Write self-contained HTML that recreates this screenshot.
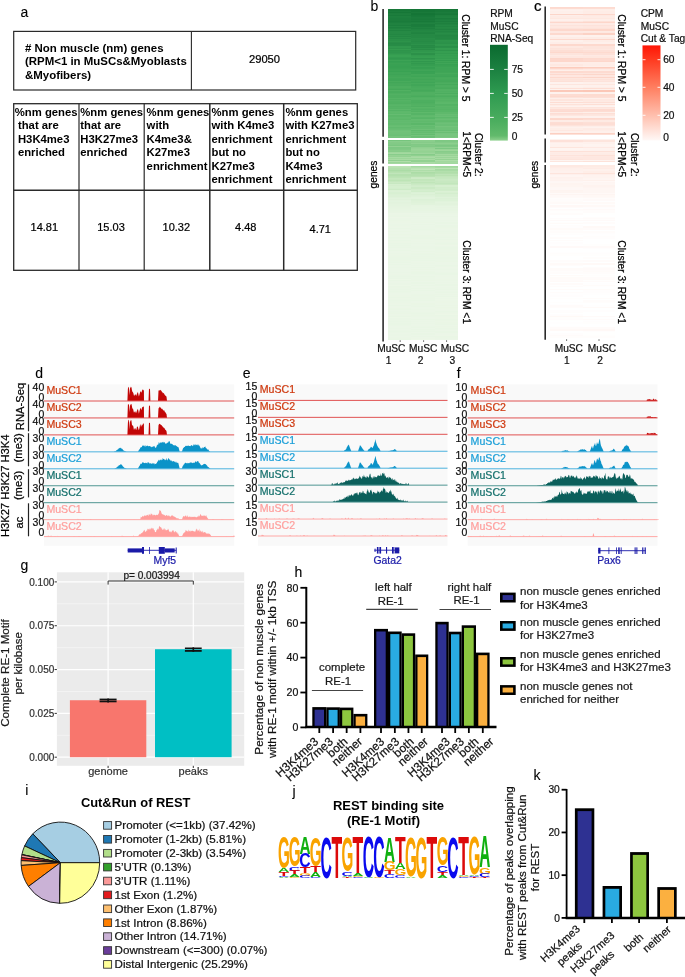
<!DOCTYPE html>
<html><head><meta charset="utf-8"><style>
html,body{margin:0;padding:0;background:#fff;}
svg{display:block;will-change:transform;}
text{font-family:"Liberation Sans",sans-serif;}
</style></head><body>
<svg width="685" height="977" viewBox="0 0 685 977">
<rect width="685" height="977" fill="#fff"/>
<text x="20.50" y="17.30" font-size="14" text-anchor="start" stroke="#000" stroke-width="0.1" fill="#000" >a</text>
<rect x="13.70" y="31.40" width="342.00" height="58.60" fill="none" stroke="#2a2a2a" stroke-width="1.2" />
<line x1="191.40" y1="31.40" x2="191.40" y2="90.00" stroke="#2a2a2a" stroke-width="1.1" />
<text x="25.00" y="52.00" font-size="11.45" text-anchor="start" font-weight="bold" fill="#000" ># Non muscle (nm) genes</text>
<text x="25.00" y="65.40" font-size="11.45" text-anchor="start" font-weight="bold" fill="#000" >(RPM&lt;1 in MuSCs&amp;Myoblasts</text>
<text x="25.00" y="78.80" font-size="11.45" text-anchor="start" font-weight="bold" fill="#000" >&amp;Myofibers)</text>
<text x="264.50" y="63.00" font-size="11.2" text-anchor="middle" stroke="#000" stroke-width="0.22" fill="#000" >29050</text>
<rect x="13.70" y="103.70" width="343.60" height="166.60" fill="none" stroke="#2a2a2a" stroke-width="1.3" />
<line x1="13.70" y1="190.30" x2="357.30" y2="190.30" stroke="#2a2a2a" stroke-width="1.6" />
<line x1="79.00" y1="103.70" x2="79.00" y2="270.30" stroke="#2a2a2a" stroke-width="1.2" />
<line x1="144.20" y1="103.70" x2="144.20" y2="270.30" stroke="#2a2a2a" stroke-width="1.2" />
<line x1="209.80" y1="103.70" x2="209.80" y2="270.30" stroke="#2a2a2a" stroke-width="1.5" />
<line x1="283.70" y1="103.70" x2="283.70" y2="270.30" stroke="#2a2a2a" stroke-width="1.5" />
<text x="14.80" y="115.60" font-size="11.3" font-weight="bold" xml:space="preserve">%nm genes</text>
<text x="14.80" y="129.10" font-size="11.3" font-weight="bold" xml:space="preserve"> that are</text>
<text x="14.80" y="142.60" font-size="11.3" font-weight="bold" xml:space="preserve"> H3K4me3</text>
<text x="14.80" y="156.10" font-size="11.3" font-weight="bold" xml:space="preserve"> enriched</text>
<text x="80.30" y="115.60" font-size="11.3" font-weight="bold" xml:space="preserve">%nm genes</text>
<text x="80.30" y="129.10" font-size="11.3" font-weight="bold" xml:space="preserve">that are</text>
<text x="80.30" y="142.60" font-size="11.3" font-weight="bold" xml:space="preserve">H3K27me3</text>
<text x="80.30" y="156.10" font-size="11.3" font-weight="bold" xml:space="preserve">enriched</text>
<text x="146.60" y="115.60" font-size="11.3" font-weight="bold" xml:space="preserve">%nm genes</text>
<text x="146.60" y="129.10" font-size="11.3" font-weight="bold" xml:space="preserve">with</text>
<text x="146.60" y="142.60" font-size="11.3" font-weight="bold" xml:space="preserve">K4me3&amp;</text>
<text x="146.60" y="156.10" font-size="11.3" font-weight="bold" xml:space="preserve">K27me3</text>
<text x="146.60" y="169.60" font-size="11.3" font-weight="bold" xml:space="preserve">enrichment</text>
<text x="211.50" y="115.60" font-size="11.3" font-weight="bold" xml:space="preserve">%nm genes</text>
<text x="211.50" y="129.10" font-size="11.3" font-weight="bold" xml:space="preserve">with K4me3</text>
<text x="211.50" y="142.60" font-size="11.3" font-weight="bold" xml:space="preserve">enrichment</text>
<text x="211.50" y="156.10" font-size="11.3" font-weight="bold" xml:space="preserve">but no</text>
<text x="211.50" y="169.60" font-size="11.3" font-weight="bold" xml:space="preserve">K27me3</text>
<text x="211.50" y="183.10" font-size="11.3" font-weight="bold" xml:space="preserve">enrichment</text>
<text x="285.40" y="115.60" font-size="11.3" font-weight="bold" xml:space="preserve">%nm genes</text>
<text x="285.40" y="129.10" font-size="11.3" font-weight="bold" xml:space="preserve">with K27me3</text>
<text x="285.40" y="142.60" font-size="11.3" font-weight="bold" xml:space="preserve">enrichment</text>
<text x="285.40" y="156.10" font-size="11.3" font-weight="bold" xml:space="preserve">but no</text>
<text x="285.40" y="169.60" font-size="11.3" font-weight="bold" xml:space="preserve">K4me3</text>
<text x="285.40" y="183.10" font-size="11.3" font-weight="bold" xml:space="preserve">enrichment</text>
<text x="44.30" y="230.80" font-size="11" text-anchor="middle" stroke="#000" stroke-width="0.22" fill="#000" >14.81</text>
<text x="111.00" y="230.80" font-size="11" text-anchor="middle" stroke="#000" stroke-width="0.22" fill="#000" >15.03</text>
<text x="176.30" y="231.00" font-size="11" text-anchor="middle" stroke="#000" stroke-width="0.22" fill="#000" >10.32</text>
<text x="245.80" y="231.00" font-size="11" text-anchor="middle" stroke="#000" stroke-width="0.22" fill="#000" >4.48</text>
<text x="320.30" y="233.30" font-size="11" text-anchor="middle" stroke="#000" stroke-width="0.22" fill="#000" >4.71</text>
<text x="370.60" y="11.00" font-size="14" text-anchor="start" stroke="#000" stroke-width="0.05" fill="#000" >b</text>
<g shape-rendering="crispEdges">
<rect x="388.20" y="9.00" width="23.50" height="1.15" fill="#177738" />
<rect x="411.40" y="9.00" width="23.60" height="1.15" fill="#147536" />
<rect x="434.70" y="9.00" width="23.30" height="1.15" fill="#157536" />
<rect x="388.20" y="10.00" width="23.50" height="1.15" fill="#177838" />
<rect x="411.40" y="10.00" width="23.60" height="1.15" fill="#157637" />
<rect x="434.70" y="10.00" width="23.30" height="1.15" fill="#187839" />
<rect x="388.20" y="11.00" width="23.50" height="1.15" fill="#1a7b3b" />
<rect x="411.40" y="11.00" width="23.60" height="1.15" fill="#167637" />
<rect x="434.70" y="11.00" width="23.30" height="1.15" fill="#187939" />
<rect x="388.20" y="12.00" width="23.50" height="1.15" fill="#167737" />
<rect x="411.40" y="12.00" width="23.60" height="1.15" fill="#197a3a" />
<rect x="434.70" y="12.00" width="23.30" height="1.15" fill="#1b7c3c" />
<rect x="388.20" y="13.00" width="23.50" height="1.15" fill="#1c7d3c" />
<rect x="411.40" y="13.00" width="23.60" height="1.15" fill="#157536" />
<rect x="434.70" y="13.00" width="23.30" height="1.15" fill="#19793a" />
<rect x="388.20" y="14.00" width="23.50" height="1.15" fill="#1d7e3d" />
<rect x="411.40" y="14.00" width="23.60" height="1.15" fill="#147536" />
<rect x="434.70" y="14.00" width="23.30" height="1.15" fill="#177838" />
<rect x="388.20" y="15.00" width="23.50" height="1.15" fill="#197a3a" />
<rect x="411.40" y="15.00" width="23.60" height="1.15" fill="#177838" />
<rect x="434.70" y="15.00" width="23.30" height="1.15" fill="#1e7f3e" />
<rect x="388.20" y="16.00" width="23.50" height="1.15" fill="#1e803e" />
<rect x="411.40" y="16.00" width="23.60" height="1.15" fill="#18793a" />
<rect x="434.70" y="16.00" width="23.30" height="1.15" fill="#1f813f" />
<rect x="388.20" y="17.00" width="23.50" height="1.15" fill="#1d7f3e" />
<rect x="411.40" y="17.00" width="23.60" height="1.15" fill="#1b7c3c" />
<rect x="434.70" y="17.00" width="23.30" height="1.15" fill="#208240" />
<rect x="388.20" y="18.00" width="23.50" height="1.15" fill="#1c7d3d" />
<rect x="411.40" y="18.00" width="23.60" height="1.15" fill="#1a7b3b" />
<rect x="434.70" y="18.00" width="23.30" height="1.15" fill="#1a7b3b" />
<rect x="388.20" y="19.00" width="23.50" height="1.15" fill="#1c7d3d" />
<rect x="411.40" y="19.00" width="23.60" height="1.15" fill="#197a3a" />
<rect x="434.70" y="19.00" width="23.30" height="1.15" fill="#1d7f3e" />
<rect x="388.20" y="20.00" width="23.50" height="1.15" fill="#1c7d3c" />
<rect x="411.40" y="20.00" width="23.60" height="1.15" fill="#1b7c3c" />
<rect x="434.70" y="20.00" width="23.30" height="1.15" fill="#1f8240" />
<rect x="388.20" y="21.00" width="23.50" height="1.15" fill="#1a7b3b" />
<rect x="411.40" y="21.00" width="23.60" height="1.15" fill="#187939" />
<rect x="434.70" y="21.00" width="23.30" height="1.15" fill="#1c7d3d" />
<rect x="388.20" y="22.00" width="23.50" height="1.15" fill="#1c7e3d" />
<rect x="411.40" y="22.00" width="23.60" height="1.15" fill="#1d7f3e" />
<rect x="434.70" y="22.00" width="23.30" height="1.15" fill="#218441" />
<rect x="388.20" y="23.00" width="23.50" height="1.15" fill="#208240" />
<rect x="411.40" y="23.00" width="23.60" height="1.15" fill="#208240" />
<rect x="434.70" y="23.00" width="23.30" height="1.15" fill="#1e803e" />
<rect x="388.20" y="24.00" width="23.50" height="1.15" fill="#208240" />
<rect x="411.40" y="24.00" width="23.60" height="1.15" fill="#1b7c3c" />
<rect x="434.70" y="24.00" width="23.30" height="1.15" fill="#218441" />
<rect x="388.20" y="25.00" width="23.50" height="1.15" fill="#1c7e3d" />
<rect x="411.40" y="25.00" width="23.60" height="1.15" fill="#1b7c3c" />
<rect x="434.70" y="25.00" width="23.30" height="1.15" fill="#248844" />
<rect x="388.20" y="26.00" width="23.50" height="1.15" fill="#228542" />
<rect x="411.40" y="26.00" width="23.60" height="1.15" fill="#1b7d3c" />
<rect x="434.70" y="26.00" width="23.30" height="1.15" fill="#218441" />
<rect x="388.20" y="27.00" width="23.50" height="1.15" fill="#1d7f3e" />
<rect x="411.40" y="27.00" width="23.60" height="1.15" fill="#208240" />
<rect x="434.70" y="27.00" width="23.30" height="1.15" fill="#258944" />
<rect x="388.20" y="28.00" width="23.50" height="1.15" fill="#208340" />
<rect x="411.40" y="28.00" width="23.60" height="1.15" fill="#1d7f3e" />
<rect x="434.70" y="28.00" width="23.30" height="1.15" fill="#248743" />
<rect x="388.20" y="29.00" width="23.50" height="1.15" fill="#258844" />
<rect x="411.40" y="29.00" width="23.60" height="1.15" fill="#218441" />
<rect x="434.70" y="29.00" width="23.30" height="1.15" fill="#208240" />
<rect x="388.20" y="30.00" width="23.50" height="1.15" fill="#208340" />
<rect x="411.40" y="30.00" width="23.60" height="1.15" fill="#238643" />
<rect x="434.70" y="30.00" width="23.30" height="1.15" fill="#258944" />
<rect x="388.20" y="31.00" width="23.50" height="1.15" fill="#268a45" />
<rect x="411.40" y="31.00" width="23.60" height="1.15" fill="#248843" />
<rect x="434.70" y="31.00" width="23.30" height="1.15" fill="#228542" />
<rect x="388.20" y="32.00" width="23.50" height="1.15" fill="#268a45" />
<rect x="411.40" y="32.00" width="23.60" height="1.15" fill="#218441" />
<rect x="434.70" y="32.00" width="23.30" height="1.15" fill="#258944" />
<rect x="388.20" y="33.00" width="23.50" height="1.15" fill="#268a45" />
<rect x="411.40" y="33.00" width="23.60" height="1.15" fill="#208340" />
<rect x="434.70" y="33.00" width="23.30" height="1.15" fill="#288d47" />
<rect x="388.20" y="34.00" width="23.50" height="1.15" fill="#238743" />
<rect x="411.40" y="34.00" width="23.60" height="1.15" fill="#258944" />
<rect x="434.70" y="34.00" width="23.30" height="1.15" fill="#268a45" />
<rect x="388.20" y="35.00" width="23.50" height="1.15" fill="#278c46" />
<rect x="411.40" y="35.00" width="23.60" height="1.15" fill="#258844" />
<rect x="434.70" y="35.00" width="23.30" height="1.15" fill="#238642" />
<rect x="388.20" y="36.00" width="23.50" height="1.15" fill="#238743" />
<rect x="411.40" y="36.00" width="23.60" height="1.15" fill="#258944" />
<rect x="434.70" y="36.00" width="23.30" height="1.15" fill="#248743" />
<rect x="388.20" y="37.00" width="23.50" height="1.15" fill="#298e47" />
<rect x="411.40" y="37.00" width="23.60" height="1.15" fill="#258944" />
<rect x="434.70" y="37.00" width="23.30" height="1.15" fill="#258844" />
<rect x="388.20" y="38.00" width="23.50" height="1.15" fill="#258945" />
<rect x="411.40" y="38.00" width="23.60" height="1.15" fill="#288d47" />
<rect x="434.70" y="38.00" width="23.30" height="1.15" fill="#248843" />
<rect x="388.20" y="39.00" width="23.50" height="1.15" fill="#2a9048" />
<rect x="411.40" y="39.00" width="23.60" height="1.15" fill="#278c46" />
<rect x="434.70" y="39.00" width="23.30" height="1.15" fill="#268b45" />
<rect x="388.20" y="40.00" width="23.50" height="1.15" fill="#2a8f48" />
<rect x="411.40" y="40.00" width="23.60" height="1.15" fill="#288c46" />
<rect x="434.70" y="40.00" width="23.30" height="1.15" fill="#2e954b" />
<rect x="388.20" y="41.00" width="23.50" height="1.15" fill="#2d934a" />
<rect x="411.40" y="41.00" width="23.60" height="1.15" fill="#268a45" />
<rect x="434.70" y="41.00" width="23.30" height="1.15" fill="#2d934b" />
<rect x="388.20" y="42.00" width="23.50" height="1.15" fill="#298d47" />
<rect x="411.40" y="42.00" width="23.60" height="1.15" fill="#288d47" />
<rect x="434.70" y="42.00" width="23.30" height="1.15" fill="#2c924a" />
<rect x="388.20" y="43.00" width="23.50" height="1.15" fill="#268a45" />
<rect x="411.40" y="43.00" width="23.60" height="1.15" fill="#288d47" />
<rect x="434.70" y="43.00" width="23.30" height="1.15" fill="#2b9149" />
<rect x="388.20" y="44.00" width="23.50" height="1.15" fill="#278c46" />
<rect x="411.40" y="44.00" width="23.60" height="1.15" fill="#2c924a" />
<rect x="434.70" y="44.00" width="23.30" height="1.15" fill="#30984d" />
<rect x="388.20" y="45.00" width="23.50" height="1.15" fill="#288c46" />
<rect x="411.40" y="45.00" width="23.60" height="1.15" fill="#268a45" />
<rect x="434.70" y="45.00" width="23.30" height="1.15" fill="#30974d" />
<rect x="388.20" y="46.00" width="23.50" height="1.15" fill="#30974d" />
<rect x="411.40" y="46.00" width="23.60" height="1.15" fill="#288c46" />
<rect x="434.70" y="46.00" width="23.30" height="1.15" fill="#2a8f48" />
<rect x="388.20" y="47.00" width="23.50" height="1.15" fill="#31984d" />
<rect x="411.40" y="47.00" width="23.60" height="1.15" fill="#268a45" />
<rect x="434.70" y="47.00" width="23.30" height="1.15" fill="#2b9149" />
<rect x="388.20" y="48.00" width="23.50" height="1.15" fill="#2d934a" />
<rect x="411.40" y="48.00" width="23.60" height="1.15" fill="#2c924a" />
<rect x="434.70" y="48.00" width="23.30" height="1.15" fill="#349c50" />
<rect x="388.20" y="49.00" width="23.50" height="1.15" fill="#349c4f" />
<rect x="411.40" y="49.00" width="23.60" height="1.15" fill="#288c46" />
<rect x="434.70" y="49.00" width="23.30" height="1.15" fill="#339b4f" />
<rect x="388.20" y="50.00" width="23.50" height="1.15" fill="#2e944b" />
<rect x="411.40" y="50.00" width="23.60" height="1.15" fill="#30964c" />
<rect x="434.70" y="50.00" width="23.30" height="1.15" fill="#2e944b" />
<rect x="388.20" y="51.00" width="23.50" height="1.15" fill="#2f964c" />
<rect x="411.40" y="51.00" width="23.60" height="1.15" fill="#30974d" />
<rect x="434.70" y="51.00" width="23.30" height="1.15" fill="#359e51" />
<rect x="388.20" y="52.00" width="23.50" height="1.15" fill="#2f954c" />
<rect x="411.40" y="52.00" width="23.60" height="1.15" fill="#339b4f" />
<rect x="434.70" y="52.00" width="23.30" height="1.15" fill="#369e51" />
<rect x="388.20" y="53.00" width="23.50" height="1.15" fill="#31984e" />
<rect x="411.40" y="53.00" width="23.60" height="1.15" fill="#2c9149" />
<rect x="434.70" y="53.00" width="23.30" height="1.15" fill="#329a4e" />
<rect x="388.20" y="54.00" width="23.50" height="1.15" fill="#359d50" />
<rect x="411.40" y="54.00" width="23.60" height="1.15" fill="#2c9149" />
<rect x="434.70" y="54.00" width="23.30" height="1.15" fill="#37a052" />
<rect x="388.20" y="55.00" width="23.50" height="1.15" fill="#38a153" />
<rect x="411.40" y="55.00" width="23.60" height="1.15" fill="#339b4f" />
<rect x="434.70" y="55.00" width="23.30" height="1.15" fill="#359e51" />
<rect x="388.20" y="56.00" width="23.50" height="1.15" fill="#38a153" />
<rect x="411.40" y="56.00" width="23.60" height="1.15" fill="#359d50" />
<rect x="434.70" y="56.00" width="23.30" height="1.15" fill="#37a052" />
<rect x="388.20" y="57.00" width="23.50" height="1.15" fill="#349c50" />
<rect x="411.40" y="57.00" width="23.60" height="1.15" fill="#369f51" />
<rect x="434.70" y="57.00" width="23.30" height="1.15" fill="#38a052" />
<rect x="388.20" y="58.00" width="23.50" height="1.15" fill="#31994e" />
<rect x="411.40" y="58.00" width="23.60" height="1.15" fill="#2e944b" />
<rect x="434.70" y="58.00" width="23.30" height="1.15" fill="#359e51" />
<rect x="388.20" y="59.00" width="23.50" height="1.15" fill="#349c50" />
<rect x="411.40" y="59.00" width="23.60" height="1.15" fill="#339a4f" />
<rect x="434.70" y="59.00" width="23.30" height="1.15" fill="#3ba355" />
<rect x="388.20" y="60.00" width="23.50" height="1.15" fill="#3ca355" />
<rect x="411.40" y="60.00" width="23.60" height="1.15" fill="#39a153" />
<rect x="434.70" y="60.00" width="23.30" height="1.15" fill="#349d50" />
<rect x="388.20" y="61.00" width="23.50" height="1.15" fill="#359e51" />
<rect x="411.40" y="61.00" width="23.60" height="1.15" fill="#30974d" />
<rect x="434.70" y="61.00" width="23.30" height="1.15" fill="#3ea556" />
<rect x="388.20" y="62.00" width="23.50" height="1.15" fill="#37a052" />
<rect x="411.40" y="62.00" width="23.60" height="1.15" fill="#369e51" />
<rect x="434.70" y="62.00" width="23.30" height="1.15" fill="#38a052" />
<rect x="388.20" y="63.00" width="23.50" height="1.15" fill="#3ba254" />
<rect x="411.40" y="63.00" width="23.60" height="1.15" fill="#31994e" />
<rect x="434.70" y="63.00" width="23.30" height="1.15" fill="#3fa557" />
<rect x="388.20" y="64.00" width="23.50" height="1.15" fill="#39a153" />
<rect x="411.40" y="64.00" width="23.60" height="1.15" fill="#359d50" />
<rect x="434.70" y="64.00" width="23.30" height="1.15" fill="#37a052" />
<rect x="388.20" y="65.00" width="23.50" height="1.15" fill="#38a153" />
<rect x="411.40" y="65.00" width="23.60" height="1.15" fill="#369e51" />
<rect x="434.70" y="65.00" width="23.30" height="1.15" fill="#39a153" />
<rect x="388.20" y="66.00" width="23.50" height="1.15" fill="#37a052" />
<rect x="411.40" y="66.00" width="23.60" height="1.15" fill="#3aa254" />
<rect x="434.70" y="66.00" width="23.30" height="1.15" fill="#3ba254" />
<rect x="388.20" y="67.00" width="23.50" height="1.15" fill="#38a052" />
<rect x="411.40" y="67.00" width="23.60" height="1.15" fill="#359e51" />
<rect x="434.70" y="67.00" width="23.30" height="1.15" fill="#3ea556" />
<rect x="388.20" y="68.00" width="23.50" height="1.15" fill="#39a253" />
<rect x="411.40" y="68.00" width="23.60" height="1.15" fill="#369f51" />
<rect x="434.70" y="68.00" width="23.30" height="1.15" fill="#3da456" />
<rect x="388.20" y="69.00" width="23.50" height="1.15" fill="#3ca355" />
<rect x="411.40" y="69.00" width="23.60" height="1.15" fill="#3ca355" />
<rect x="434.70" y="69.00" width="23.30" height="1.15" fill="#3ea456" />
<rect x="388.20" y="70.00" width="23.50" height="1.15" fill="#3da455" />
<rect x="411.40" y="70.00" width="23.60" height="1.15" fill="#3fa557" />
<rect x="434.70" y="70.00" width="23.30" height="1.15" fill="#3ea556" />
<rect x="388.20" y="71.00" width="23.50" height="1.15" fill="#39a253" />
<rect x="411.40" y="71.00" width="23.60" height="1.15" fill="#38a153" />
<rect x="434.70" y="71.00" width="23.30" height="1.15" fill="#3ea456" />
<rect x="388.20" y="72.00" width="23.50" height="1.15" fill="#40a657" />
<rect x="411.40" y="72.00" width="23.60" height="1.15" fill="#3aa254" />
<rect x="434.70" y="72.00" width="23.30" height="1.15" fill="#40a657" />
<rect x="388.20" y="73.00" width="23.50" height="1.15" fill="#40a658" />
<rect x="411.40" y="73.00" width="23.60" height="1.15" fill="#3aa254" />
<rect x="434.70" y="73.00" width="23.30" height="1.15" fill="#46aa5b" />
<rect x="388.20" y="74.00" width="23.50" height="1.15" fill="#3ea456" />
<rect x="411.40" y="74.00" width="23.60" height="1.15" fill="#43a859" />
<rect x="434.70" y="74.00" width="23.30" height="1.15" fill="#41a758" />
<rect x="388.20" y="75.00" width="23.50" height="1.15" fill="#41a758" />
<rect x="411.40" y="75.00" width="23.60" height="1.15" fill="#41a758" />
<rect x="434.70" y="75.00" width="23.30" height="1.15" fill="#41a658" />
<rect x="388.20" y="76.00" width="23.50" height="1.15" fill="#42a758" />
<rect x="411.40" y="76.00" width="23.60" height="1.15" fill="#3ea556" />
<rect x="434.70" y="76.00" width="23.30" height="1.15" fill="#3fa557" />
<rect x="388.20" y="77.00" width="23.50" height="1.15" fill="#45a95a" />
<rect x="411.40" y="77.00" width="23.60" height="1.15" fill="#45a95a" />
<rect x="434.70" y="77.00" width="23.30" height="1.15" fill="#46aa5b" />
<rect x="388.20" y="78.00" width="23.50" height="1.15" fill="#41a758" />
<rect x="411.40" y="78.00" width="23.60" height="1.15" fill="#44a859" />
<rect x="434.70" y="78.00" width="23.30" height="1.15" fill="#48ab5c" />
<rect x="388.20" y="79.00" width="23.50" height="1.15" fill="#40a657" />
<rect x="411.40" y="79.00" width="23.60" height="1.15" fill="#40a657" />
<rect x="434.70" y="79.00" width="23.30" height="1.15" fill="#46aa5b" />
<rect x="388.20" y="80.00" width="23.50" height="1.15" fill="#40a658" />
<rect x="411.40" y="80.00" width="23.60" height="1.15" fill="#44a859" />
<rect x="434.70" y="80.00" width="23.30" height="1.15" fill="#44a95a" />
<rect x="388.20" y="81.00" width="23.50" height="1.15" fill="#48ab5c" />
<rect x="411.40" y="81.00" width="23.60" height="1.15" fill="#43a859" />
<rect x="434.70" y="81.00" width="23.30" height="1.15" fill="#44a859" />
<rect x="388.20" y="82.00" width="23.50" height="1.15" fill="#42a758" />
<rect x="411.40" y="82.00" width="23.60" height="1.15" fill="#3fa557" />
<rect x="434.70" y="82.00" width="23.30" height="1.15" fill="#49ab5d" />
<rect x="388.20" y="83.00" width="23.50" height="1.15" fill="#46a95b" />
<rect x="411.40" y="83.00" width="23.60" height="1.15" fill="#46aa5b" />
<rect x="434.70" y="83.00" width="23.30" height="1.15" fill="#4cae5f" />
<rect x="388.20" y="84.00" width="23.50" height="1.15" fill="#47aa5b" />
<rect x="411.40" y="84.00" width="23.60" height="1.15" fill="#41a758" />
<rect x="434.70" y="84.00" width="23.30" height="1.15" fill="#45a95a" />
<rect x="388.20" y="85.00" width="23.50" height="1.15" fill="#46a95b" />
<rect x="411.40" y="85.00" width="23.60" height="1.15" fill="#41a658" />
<rect x="434.70" y="85.00" width="23.30" height="1.15" fill="#4cae5f" />
<rect x="388.20" y="86.00" width="23.50" height="1.15" fill="#4cae5f" />
<rect x="411.40" y="86.00" width="23.60" height="1.15" fill="#46aa5b" />
<rect x="434.70" y="86.00" width="23.30" height="1.15" fill="#4dae60" />
<rect x="388.20" y="87.00" width="23.50" height="1.15" fill="#4dae5f" />
<rect x="411.40" y="87.00" width="23.60" height="1.15" fill="#47ab5c" />
<rect x="434.70" y="87.00" width="23.30" height="1.15" fill="#4aac5d" />
<rect x="388.20" y="88.00" width="23.50" height="1.15" fill="#4aac5d" />
<rect x="411.40" y="88.00" width="23.60" height="1.15" fill="#49ac5d" />
<rect x="434.70" y="88.00" width="23.30" height="1.15" fill="#48ab5c" />
<rect x="388.20" y="89.00" width="23.50" height="1.15" fill="#45a95a" />
<rect x="411.40" y="89.00" width="23.60" height="1.15" fill="#48ab5c" />
<rect x="434.70" y="89.00" width="23.30" height="1.15" fill="#52b163" />
<rect x="388.20" y="90.00" width="23.50" height="1.15" fill="#51b162" />
<rect x="411.40" y="90.00" width="23.60" height="1.15" fill="#45a95a" />
<rect x="434.70" y="90.00" width="23.30" height="1.15" fill="#53b264" />
<rect x="388.20" y="91.00" width="23.50" height="1.15" fill="#4aac5d" />
<rect x="411.40" y="91.00" width="23.60" height="1.15" fill="#48ab5c" />
<rect x="434.70" y="91.00" width="23.30" height="1.15" fill="#50b062" />
<rect x="388.20" y="92.00" width="23.50" height="1.15" fill="#49ac5d" />
<rect x="411.40" y="92.00" width="23.60" height="1.15" fill="#50b061" />
<rect x="434.70" y="92.00" width="23.30" height="1.15" fill="#53b264" />
<rect x="388.20" y="93.00" width="23.50" height="1.15" fill="#4eaf60" />
<rect x="411.40" y="93.00" width="23.60" height="1.15" fill="#50b062" />
<rect x="434.70" y="93.00" width="23.30" height="1.15" fill="#4cad5f" />
<rect x="388.20" y="94.00" width="23.50" height="1.15" fill="#52b163" />
<rect x="411.40" y="94.00" width="23.60" height="1.15" fill="#50b061" />
<rect x="434.70" y="94.00" width="23.30" height="1.15" fill="#56b466" />
<rect x="388.20" y="95.00" width="23.50" height="1.15" fill="#4eaf60" />
<rect x="411.40" y="95.00" width="23.60" height="1.15" fill="#4dae5f" />
<rect x="434.70" y="95.00" width="23.30" height="1.15" fill="#50b061" />
<rect x="388.20" y="96.00" width="23.50" height="1.15" fill="#4eaf60" />
<rect x="411.40" y="96.00" width="23.60" height="1.15" fill="#49ac5d" />
<rect x="434.70" y="96.00" width="23.30" height="1.15" fill="#4cae5f" />
<rect x="388.20" y="97.00" width="23.50" height="1.15" fill="#4eaf60" />
<rect x="411.40" y="97.00" width="23.60" height="1.15" fill="#51b162" />
<rect x="434.70" y="97.00" width="23.30" height="1.15" fill="#53b264" />
<rect x="388.20" y="98.00" width="23.50" height="1.15" fill="#55b465" />
<rect x="411.40" y="98.00" width="23.60" height="1.15" fill="#54b365" />
<rect x="434.70" y="98.00" width="23.30" height="1.15" fill="#54b364" />
<rect x="388.20" y="99.00" width="23.50" height="1.15" fill="#4fb061" />
<rect x="411.40" y="99.00" width="23.60" height="1.15" fill="#53b264" />
<rect x="434.70" y="99.00" width="23.30" height="1.15" fill="#57b566" />
<rect x="388.20" y="100.00" width="23.50" height="1.15" fill="#55b365" />
<rect x="411.40" y="100.00" width="23.60" height="1.15" fill="#4daf60" />
<rect x="434.70" y="100.00" width="23.30" height="1.15" fill="#55b365" />
<rect x="388.20" y="101.00" width="23.50" height="1.15" fill="#52b263" />
<rect x="411.40" y="101.00" width="23.60" height="1.15" fill="#4daf60" />
<rect x="434.70" y="101.00" width="23.30" height="1.15" fill="#57b566" />
<rect x="388.20" y="102.00" width="23.50" height="1.15" fill="#51b162" />
<rect x="411.40" y="102.00" width="23.60" height="1.15" fill="#4cae5f" />
<rect x="434.70" y="102.00" width="23.30" height="1.15" fill="#5bb769" />
<rect x="388.20" y="103.00" width="23.50" height="1.15" fill="#50b061" />
<rect x="411.40" y="103.00" width="23.60" height="1.15" fill="#4fb061" />
<rect x="434.70" y="103.00" width="23.30" height="1.15" fill="#5bb86a" />
<rect x="388.20" y="104.00" width="23.50" height="1.15" fill="#56b466" />
<rect x="411.40" y="104.00" width="23.60" height="1.15" fill="#51b162" />
<rect x="434.70" y="104.00" width="23.30" height="1.15" fill="#53b264" />
<rect x="388.20" y="105.00" width="23.50" height="1.15" fill="#58b567" />
<rect x="411.40" y="105.00" width="23.60" height="1.15" fill="#53b263" />
<rect x="434.70" y="105.00" width="23.30" height="1.15" fill="#54b364" />
<rect x="388.20" y="106.00" width="23.50" height="1.15" fill="#54b264" />
<rect x="411.40" y="106.00" width="23.60" height="1.15" fill="#4faf61" />
<rect x="434.70" y="106.00" width="23.30" height="1.15" fill="#5ab668" />
<rect x="388.20" y="107.00" width="23.50" height="1.15" fill="#56b466" />
<rect x="411.40" y="107.00" width="23.60" height="1.15" fill="#58b667" />
<rect x="434.70" y="107.00" width="23.30" height="1.15" fill="#57b567" />
<rect x="388.20" y="108.00" width="23.50" height="1.15" fill="#55b365" />
<rect x="411.40" y="108.00" width="23.60" height="1.15" fill="#54b364" />
<rect x="434.70" y="108.00" width="23.30" height="1.15" fill="#58b567" />
<rect x="388.20" y="109.00" width="23.50" height="1.15" fill="#5db86b" />
<rect x="411.40" y="109.00" width="23.60" height="1.15" fill="#51b163" />
<rect x="434.70" y="109.00" width="23.30" height="1.15" fill="#55b465" />
<rect x="388.20" y="110.00" width="23.50" height="1.15" fill="#54b365" />
<rect x="411.40" y="110.00" width="23.60" height="1.15" fill="#56b466" />
<rect x="434.70" y="110.00" width="23.30" height="1.15" fill="#58b667" />
<rect x="388.20" y="111.00" width="23.50" height="1.15" fill="#5db86b" />
<rect x="411.40" y="111.00" width="23.60" height="1.15" fill="#53b263" />
<rect x="434.70" y="111.00" width="23.30" height="1.15" fill="#58b667" />
<rect x="388.20" y="112.00" width="23.50" height="1.15" fill="#5eb96b" />
<rect x="411.40" y="112.00" width="23.60" height="1.15" fill="#5eb96b" />
<rect x="434.70" y="112.00" width="23.30" height="1.15" fill="#5fb96c" />
<rect x="388.20" y="113.00" width="23.50" height="1.15" fill="#5bb86a" />
<rect x="411.40" y="113.00" width="23.60" height="1.15" fill="#56b466" />
<rect x="434.70" y="113.00" width="23.30" height="1.15" fill="#5fb96c" />
<rect x="388.20" y="114.00" width="23.50" height="1.15" fill="#65bc71" />
<rect x="411.40" y="114.00" width="23.60" height="1.15" fill="#56b466" />
<rect x="434.70" y="114.00" width="23.30" height="1.15" fill="#67bd72" />
<rect x="388.20" y="115.00" width="23.50" height="1.15" fill="#5ab768" />
<rect x="411.40" y="115.00" width="23.60" height="1.15" fill="#5fb96c" />
<rect x="434.70" y="115.00" width="23.30" height="1.15" fill="#63bb70" />
<rect x="388.20" y="116.00" width="23.50" height="1.15" fill="#5bb769" />
<rect x="411.40" y="116.00" width="23.60" height="1.15" fill="#61ba6d" />
<rect x="434.70" y="116.00" width="23.30" height="1.15" fill="#68bd73" />
<rect x="388.20" y="117.00" width="23.50" height="1.15" fill="#5fba6d" />
<rect x="411.40" y="117.00" width="23.60" height="1.15" fill="#59b668" />
<rect x="434.70" y="117.00" width="23.30" height="1.15" fill="#5db86b" />
<rect x="388.20" y="118.00" width="23.50" height="1.15" fill="#5eb96b" />
<rect x="411.40" y="118.00" width="23.60" height="1.15" fill="#57b567" />
<rect x="434.70" y="118.00" width="23.30" height="1.15" fill="#64bc70" />
<rect x="388.20" y="119.00" width="23.50" height="1.15" fill="#5bb769" />
<rect x="411.40" y="119.00" width="23.60" height="1.15" fill="#64bc70" />
<rect x="434.70" y="119.00" width="23.30" height="1.15" fill="#69be74" />
<rect x="388.20" y="120.00" width="23.50" height="1.15" fill="#62bb6f" />
<rect x="411.40" y="120.00" width="23.60" height="1.15" fill="#62bb6e" />
<rect x="434.70" y="120.00" width="23.30" height="1.15" fill="#62bb6e" />
<rect x="388.20" y="121.00" width="23.50" height="1.15" fill="#61ba6e" />
<rect x="411.40" y="121.00" width="23.60" height="1.15" fill="#5fb96c" />
<rect x="434.70" y="121.00" width="23.30" height="1.15" fill="#61ba6d" />
<rect x="388.20" y="122.00" width="23.50" height="1.15" fill="#63bb70" />
<rect x="411.40" y="122.00" width="23.60" height="1.15" fill="#63bb70" />
<rect x="434.70" y="122.00" width="23.30" height="1.15" fill="#69be74" />
<rect x="388.20" y="123.00" width="23.50" height="1.15" fill="#60ba6d" />
<rect x="411.40" y="123.00" width="23.60" height="1.15" fill="#5bb769" />
<rect x="434.70" y="123.00" width="23.30" height="1.15" fill="#6dc077" />
<rect x="388.20" y="124.00" width="23.50" height="1.15" fill="#60ba6d" />
<rect x="411.40" y="124.00" width="23.60" height="1.15" fill="#5bb769" />
<rect x="434.70" y="124.00" width="23.30" height="1.15" fill="#69be74" />
<rect x="388.20" y="125.00" width="23.50" height="1.15" fill="#66bd71" />
<rect x="411.40" y="125.00" width="23.60" height="1.15" fill="#68be73" />
<rect x="434.70" y="125.00" width="23.30" height="1.15" fill="#69be74" />
<rect x="388.20" y="126.00" width="23.50" height="1.15" fill="#68be73" />
<rect x="411.40" y="126.00" width="23.60" height="1.15" fill="#62bb6f" />
<rect x="434.70" y="126.00" width="23.30" height="1.15" fill="#73c37b" />
<rect x="388.20" y="127.00" width="23.50" height="1.15" fill="#61ba6e" />
<rect x="411.40" y="127.00" width="23.60" height="1.15" fill="#65bc70" />
<rect x="434.70" y="127.00" width="23.30" height="1.15" fill="#6ec077" />
<rect x="388.20" y="128.00" width="23.50" height="1.15" fill="#65bc71" />
<rect x="411.40" y="128.00" width="23.60" height="1.15" fill="#65bc71" />
<rect x="434.70" y="128.00" width="23.30" height="1.15" fill="#6dc077" />
<rect x="388.20" y="129.00" width="23.50" height="1.15" fill="#68bd73" />
<rect x="411.40" y="129.00" width="23.60" height="1.15" fill="#6ec077" />
<rect x="434.70" y="129.00" width="23.30" height="1.15" fill="#6dc077" />
<rect x="388.20" y="130.00" width="23.50" height="1.15" fill="#6dc077" />
<rect x="411.40" y="130.00" width="23.60" height="1.15" fill="#60ba6d" />
<rect x="434.70" y="130.00" width="23.30" height="1.15" fill="#67bd73" />
<rect x="388.20" y="131.00" width="23.50" height="1.15" fill="#71c279" />
<rect x="411.40" y="131.00" width="23.60" height="1.15" fill="#69be74" />
<rect x="434.70" y="131.00" width="23.30" height="1.15" fill="#76c47d" />
<rect x="388.20" y="132.00" width="23.50" height="1.15" fill="#6fc178" />
<rect x="411.40" y="132.00" width="23.60" height="1.15" fill="#64bc70" />
<rect x="434.70" y="132.00" width="23.30" height="1.15" fill="#6abe74" />
<rect x="388.20" y="133.00" width="23.50" height="1.15" fill="#6fc178" />
<rect x="411.40" y="133.00" width="23.60" height="1.15" fill="#6dc077" />
<rect x="434.70" y="133.00" width="23.30" height="1.15" fill="#76c47e" />
<rect x="388.20" y="134.00" width="23.50" height="1.15" fill="#6dc077" />
<rect x="411.40" y="134.00" width="23.60" height="1.15" fill="#64bc70" />
<rect x="434.70" y="134.00" width="23.30" height="1.15" fill="#78c57f" />
<rect x="388.20" y="135.00" width="23.50" height="1.15" fill="#6cbf76" />
<rect x="411.40" y="135.00" width="23.60" height="1.15" fill="#74c37c" />
<rect x="434.70" y="135.00" width="23.30" height="1.15" fill="#78c57f" />
<rect x="388.20" y="136.00" width="23.50" height="1.15" fill="#76c47d" />
<rect x="411.40" y="136.00" width="23.60" height="1.15" fill="#6abe74" />
<rect x="434.70" y="136.00" width="23.30" height="1.15" fill="#77c47e" />
<rect x="388.20" y="137.00" width="23.50" height="0.65" fill="#74c37c" />
<rect x="411.40" y="137.00" width="23.60" height="0.65" fill="#6cbf76" />
<rect x="434.70" y="137.00" width="23.30" height="0.65" fill="#7cc782" />
<rect x="388.20" y="140.40" width="23.50" height="1.15" fill="#77c57e" />
<rect x="411.40" y="140.40" width="23.60" height="1.15" fill="#8ace8c" />
<rect x="434.70" y="140.40" width="23.30" height="1.15" fill="#7ec883" />
<rect x="388.20" y="141.40" width="23.50" height="1.15" fill="#88cd8b" />
<rect x="411.40" y="141.40" width="23.60" height="1.15" fill="#8acd8c" />
<rect x="434.70" y="141.40" width="23.30" height="1.15" fill="#7fc884" />
<rect x="388.20" y="142.40" width="23.50" height="1.15" fill="#84ca87" />
<rect x="411.40" y="142.40" width="23.60" height="1.15" fill="#86cb89" />
<rect x="434.70" y="142.40" width="23.30" height="1.15" fill="#84cb88" />
<rect x="388.20" y="143.40" width="23.50" height="1.15" fill="#82ca86" />
<rect x="411.40" y="143.40" width="23.60" height="1.15" fill="#8ecf8f" />
<rect x="434.70" y="143.40" width="23.30" height="1.15" fill="#8dcf8e" />
<rect x="388.20" y="144.40" width="23.50" height="1.15" fill="#81c985" />
<rect x="411.40" y="144.40" width="23.60" height="1.15" fill="#81c985" />
<rect x="434.70" y="144.40" width="23.30" height="1.15" fill="#84cb88" />
<rect x="388.20" y="145.40" width="23.50" height="1.15" fill="#7bc781" />
<rect x="411.40" y="145.40" width="23.60" height="1.15" fill="#83ca87" />
<rect x="434.70" y="145.40" width="23.30" height="1.15" fill="#7bc681" />
<rect x="388.20" y="146.40" width="23.50" height="1.15" fill="#91d191" />
<rect x="411.40" y="146.40" width="23.60" height="1.15" fill="#81c985" />
<rect x="434.70" y="146.40" width="23.30" height="1.15" fill="#7ec884" />
<rect x="388.20" y="147.40" width="23.50" height="1.15" fill="#7dc783" />
<rect x="411.40" y="147.40" width="23.60" height="1.15" fill="#90d090" />
<rect x="434.70" y="147.40" width="23.30" height="1.15" fill="#90d090" />
<rect x="388.20" y="148.40" width="23.50" height="1.15" fill="#7ec883" />
<rect x="411.40" y="148.40" width="23.60" height="1.15" fill="#95d294" />
<rect x="434.70" y="148.40" width="23.30" height="1.15" fill="#7cc782" />
<rect x="388.20" y="149.40" width="23.50" height="1.15" fill="#81c985" />
<rect x="411.40" y="149.40" width="23.60" height="1.15" fill="#99d497" />
<rect x="434.70" y="149.40" width="23.30" height="1.15" fill="#96d394" />
<rect x="388.20" y="150.40" width="23.50" height="1.15" fill="#88cc8a" />
<rect x="411.40" y="150.40" width="23.60" height="1.15" fill="#97d395" />
<rect x="434.70" y="150.40" width="23.30" height="1.15" fill="#9cd699" />
<rect x="388.20" y="151.40" width="23.50" height="1.15" fill="#86cb89" />
<rect x="411.40" y="151.40" width="23.60" height="1.15" fill="#93d292" />
<rect x="434.70" y="151.40" width="23.30" height="1.15" fill="#87cc8a" />
<rect x="388.20" y="152.40" width="23.50" height="1.15" fill="#9ed79b" />
<rect x="411.40" y="152.40" width="23.60" height="1.15" fill="#95d394" />
<rect x="434.70" y="152.40" width="23.30" height="1.15" fill="#8cce8d" />
<rect x="388.20" y="153.40" width="23.50" height="1.15" fill="#a4d9a0" />
<rect x="411.40" y="153.40" width="23.60" height="1.15" fill="#9dd69b" />
<rect x="434.70" y="153.40" width="23.30" height="1.15" fill="#8ecf8f" />
<rect x="388.20" y="154.40" width="23.50" height="1.15" fill="#88cd8b" />
<rect x="411.40" y="154.40" width="23.60" height="1.15" fill="#86cc89" />
<rect x="434.70" y="154.40" width="23.30" height="1.15" fill="#a2d89e" />
<rect x="388.20" y="155.40" width="23.50" height="1.15" fill="#97d395" />
<rect x="411.40" y="155.40" width="23.60" height="1.15" fill="#8fd08f" />
<rect x="434.70" y="155.40" width="23.30" height="1.15" fill="#97d395" />
<rect x="388.20" y="156.40" width="23.50" height="1.15" fill="#93d292" />
<rect x="411.40" y="156.40" width="23.60" height="1.15" fill="#a3d99f" />
<rect x="434.70" y="156.40" width="23.30" height="1.15" fill="#a7daa3" />
<rect x="388.20" y="157.40" width="23.50" height="1.15" fill="#a7dba3" />
<rect x="411.40" y="157.40" width="23.60" height="1.15" fill="#aadba5" />
<rect x="434.70" y="157.40" width="23.30" height="1.15" fill="#99d497" />
<rect x="388.20" y="158.40" width="23.50" height="1.15" fill="#9cd699" />
<rect x="411.40" y="158.40" width="23.60" height="1.15" fill="#9ad598" />
<rect x="434.70" y="158.40" width="23.30" height="1.15" fill="#a8dba3" />
<rect x="388.20" y="159.40" width="23.50" height="1.15" fill="#a8dba4" />
<rect x="411.40" y="159.40" width="23.60" height="1.15" fill="#a8dba3" />
<rect x="434.70" y="159.40" width="23.30" height="1.15" fill="#93d292" />
<rect x="388.20" y="160.40" width="23.50" height="1.15" fill="#90d090" />
<rect x="411.40" y="160.40" width="23.60" height="1.15" fill="#92d191" />
<rect x="434.70" y="160.40" width="23.30" height="1.15" fill="#addda8" />
<rect x="388.20" y="161.40" width="23.50" height="1.15" fill="#b0deaa" />
<rect x="411.40" y="161.40" width="23.60" height="1.15" fill="#92d192" />
<rect x="434.70" y="161.40" width="23.30" height="1.15" fill="#a2d89f" />
<rect x="388.20" y="162.40" width="23.50" height="1.15" fill="#9ad598" />
<rect x="411.40" y="162.40" width="23.60" height="1.15" fill="#a9dba4" />
<rect x="434.70" y="162.40" width="23.30" height="1.15" fill="#a4d9a0" />
<rect x="388.20" y="163.40" width="23.50" height="0.55" fill="#a4d9a0" />
<rect x="411.40" y="163.40" width="23.60" height="0.55" fill="#a7daa3" />
<rect x="434.70" y="163.40" width="23.30" height="0.55" fill="#a1d89e" />
<rect x="388.20" y="166.10" width="23.50" height="1.15" fill="#bce3b5" />
<rect x="411.40" y="166.10" width="23.60" height="1.15" fill="#a5daa1" />
<rect x="434.70" y="166.10" width="23.30" height="1.15" fill="#a0d89d" />
<rect x="388.20" y="167.10" width="23.50" height="1.15" fill="#b8e2b1" />
<rect x="411.40" y="167.10" width="23.60" height="1.15" fill="#afdeaa" />
<rect x="434.70" y="167.10" width="23.30" height="1.15" fill="#a6daa2" />
<rect x="388.20" y="168.10" width="23.50" height="1.15" fill="#b3dfad" />
<rect x="411.40" y="168.10" width="23.60" height="1.15" fill="#bae2b3" />
<rect x="434.70" y="168.10" width="23.30" height="1.15" fill="#bae3b4" />
<rect x="388.20" y="169.10" width="23.50" height="1.15" fill="#b2dfac" />
<rect x="411.40" y="169.10" width="23.60" height="1.15" fill="#c0e5b9" />
<rect x="434.70" y="169.10" width="23.30" height="1.15" fill="#a6daa2" />
<rect x="388.20" y="170.10" width="23.50" height="1.15" fill="#abdca6" />
<rect x="411.40" y="170.10" width="23.60" height="1.15" fill="#aedda9" />
<rect x="434.70" y="170.10" width="23.30" height="1.15" fill="#a9dba5" />
<rect x="388.20" y="171.10" width="23.50" height="1.15" fill="#b3dfad" />
<rect x="411.40" y="171.10" width="23.60" height="1.15" fill="#b9e2b2" />
<rect x="434.70" y="171.10" width="23.30" height="1.15" fill="#b3e0ad" />
<rect x="388.20" y="172.10" width="23.50" height="1.15" fill="#b8e2b1" />
<rect x="411.40" y="172.10" width="23.60" height="1.15" fill="#abdca6" />
<rect x="434.70" y="172.10" width="23.30" height="1.15" fill="#b0deaa" />
<rect x="388.20" y="173.10" width="23.50" height="1.15" fill="#c0e5ba" />
<rect x="411.40" y="173.10" width="23.60" height="1.15" fill="#afdea9" />
<rect x="434.70" y="173.10" width="23.30" height="1.15" fill="#b4e0ad" />
<rect x="388.20" y="174.10" width="23.50" height="1.15" fill="#b5e0af" />
<rect x="411.40" y="174.10" width="23.60" height="1.15" fill="#b4e0ae" />
<rect x="434.70" y="174.10" width="23.30" height="1.15" fill="#bee4b8" />
<rect x="388.20" y="175.10" width="23.50" height="1.15" fill="#b4e0ae" />
<rect x="411.40" y="175.10" width="23.60" height="1.15" fill="#b4e0ae" />
<rect x="434.70" y="175.10" width="23.30" height="1.15" fill="#b9e2b2" />
<rect x="388.20" y="176.10" width="23.50" height="1.15" fill="#b9e2b3" />
<rect x="411.40" y="176.10" width="23.60" height="1.15" fill="#bae2b3" />
<rect x="434.70" y="176.10" width="23.30" height="1.15" fill="#c2e6bb" />
<rect x="388.20" y="177.10" width="23.50" height="1.15" fill="#bce4b5" />
<rect x="411.40" y="177.10" width="23.60" height="1.15" fill="#cbeac4" />
<rect x="434.70" y="177.10" width="23.30" height="1.15" fill="#c5e7be" />
<rect x="388.20" y="178.10" width="23.50" height="1.15" fill="#c4e7bd" />
<rect x="411.40" y="178.10" width="23.60" height="1.15" fill="#ceebc7" />
<rect x="434.70" y="178.10" width="23.30" height="1.15" fill="#c6e8c0" />
<rect x="388.20" y="179.10" width="23.50" height="1.15" fill="#c2e6bb" />
<rect x="411.40" y="179.10" width="23.60" height="1.15" fill="#c2e6bb" />
<rect x="434.70" y="179.10" width="23.30" height="1.15" fill="#caeac4" />
<rect x="388.20" y="180.10" width="23.50" height="1.15" fill="#bde4b6" />
<rect x="411.40" y="180.10" width="23.60" height="1.15" fill="#c3e6bc" />
<rect x="434.70" y="180.10" width="23.30" height="1.15" fill="#cae9c3" />
<rect x="388.20" y="181.10" width="23.50" height="1.15" fill="#c5e7be" />
<rect x="411.40" y="181.10" width="23.60" height="1.15" fill="#c7e8c0" />
<rect x="434.70" y="181.10" width="23.30" height="1.15" fill="#c7e8c1" />
<rect x="388.20" y="182.10" width="23.50" height="1.15" fill="#cceac5" />
<rect x="411.40" y="182.10" width="23.60" height="1.15" fill="#c0e5b9" />
<rect x="434.70" y="182.10" width="23.30" height="1.15" fill="#c7e8c0" />
<rect x="388.20" y="183.10" width="23.50" height="1.15" fill="#c7e8c1" />
<rect x="411.40" y="183.10" width="23.60" height="1.15" fill="#c6e8c0" />
<rect x="434.70" y="183.10" width="23.30" height="1.15" fill="#c2e6bc" />
<rect x="388.20" y="184.10" width="23.50" height="1.15" fill="#d5efcf" />
<rect x="411.40" y="184.10" width="23.60" height="1.15" fill="#cbeac4" />
<rect x="434.70" y="184.10" width="23.30" height="1.15" fill="#c9e9c2" />
<rect x="388.20" y="185.10" width="23.50" height="1.15" fill="#d3edcc" />
<rect x="411.40" y="185.10" width="23.60" height="1.15" fill="#d0ecca" />
<rect x="434.70" y="185.10" width="23.30" height="1.15" fill="#d6efd0" />
<rect x="388.20" y="186.10" width="23.50" height="1.15" fill="#d5efcf" />
<rect x="411.40" y="186.10" width="23.60" height="1.15" fill="#d2edcc" />
<rect x="434.70" y="186.10" width="23.30" height="1.15" fill="#d6efd0" />
<rect x="388.20" y="187.10" width="23.50" height="1.15" fill="#d5efcf" />
<rect x="411.40" y="187.10" width="23.60" height="1.15" fill="#cbeac5" />
<rect x="434.70" y="187.10" width="23.30" height="1.15" fill="#d1edca" />
<rect x="388.20" y="188.10" width="23.50" height="1.15" fill="#d3eecd" />
<rect x="411.40" y="188.10" width="23.60" height="1.15" fill="#cceac5" />
<rect x="434.70" y="188.10" width="23.30" height="1.15" fill="#d2edcc" />
<rect x="388.20" y="189.10" width="23.50" height="1.15" fill="#cdebc7" />
<rect x="411.40" y="189.10" width="23.60" height="1.15" fill="#d2edcc" />
<rect x="434.70" y="189.10" width="23.30" height="1.15" fill="#d0ecca" />
<rect x="388.20" y="190.10" width="23.50" height="1.15" fill="#dbf1d5" />
<rect x="411.40" y="190.10" width="23.60" height="1.15" fill="#d4eece" />
<rect x="434.70" y="190.10" width="23.30" height="1.15" fill="#d2edcc" />
<rect x="388.20" y="191.10" width="23.50" height="1.15" fill="#dcf1d6" />
<rect x="411.40" y="191.10" width="23.60" height="1.15" fill="#d1edcb" />
<rect x="434.70" y="191.10" width="23.30" height="1.15" fill="#dbf1d5" />
<rect x="388.20" y="192.10" width="23.50" height="1.15" fill="#d8f0d3" />
<rect x="411.40" y="192.10" width="23.60" height="1.15" fill="#dbf1d6" />
<rect x="434.70" y="192.10" width="23.30" height="1.15" fill="#d8f0d2" />
<rect x="388.20" y="193.10" width="23.50" height="1.15" fill="#d8f0d2" />
<rect x="411.40" y="193.10" width="23.60" height="1.15" fill="#ddf2d8" />
<rect x="434.70" y="193.10" width="23.30" height="1.15" fill="#d4eece" />
<rect x="388.20" y="194.10" width="23.50" height="1.15" fill="#dbf1d5" />
<rect x="411.40" y="194.10" width="23.60" height="1.15" fill="#daf0d4" />
<rect x="434.70" y="194.10" width="23.30" height="1.15" fill="#d9f0d4" />
<rect x="388.20" y="195.10" width="23.50" height="1.15" fill="#dcf1d7" />
<rect x="411.40" y="195.10" width="23.60" height="1.15" fill="#ddf1d8" />
<rect x="434.70" y="195.10" width="23.30" height="1.15" fill="#daf0d4" />
<rect x="388.20" y="196.10" width="23.50" height="1.15" fill="#dcf1d6" />
<rect x="411.40" y="196.10" width="23.60" height="1.15" fill="#def2d9" />
<rect x="434.70" y="196.10" width="23.30" height="1.15" fill="#daf1d5" />
<rect x="388.20" y="197.10" width="23.50" height="1.15" fill="#dff2da" />
<rect x="411.40" y="197.10" width="23.60" height="1.15" fill="#e1f3dc" />
<rect x="434.70" y="197.10" width="23.30" height="1.15" fill="#dff2da" />
<rect x="388.20" y="198.10" width="23.50" height="1.15" fill="#e2f3dd" />
<rect x="411.40" y="198.10" width="23.60" height="1.15" fill="#e1f3dc" />
<rect x="434.70" y="198.10" width="23.30" height="1.15" fill="#dcf1d7" />
<rect x="388.20" y="199.10" width="23.50" height="1.15" fill="#e0f2db" />
<rect x="411.40" y="199.10" width="23.60" height="1.15" fill="#dcf1d7" />
<rect x="434.70" y="199.10" width="23.30" height="1.15" fill="#ddf2d8" />
<rect x="388.20" y="200.10" width="23.50" height="1.15" fill="#e3f3de" />
<rect x="411.40" y="200.10" width="23.60" height="1.15" fill="#ddf1d8" />
<rect x="434.70" y="200.10" width="23.30" height="1.15" fill="#ddf2d8" />
<rect x="388.20" y="201.10" width="23.50" height="1.15" fill="#e3f4df" />
<rect x="411.40" y="201.10" width="23.60" height="1.15" fill="#dff2d9" />
<rect x="434.70" y="201.10" width="23.30" height="1.15" fill="#e1f3dc" />
<rect x="388.20" y="202.10" width="23.50" height="1.15" fill="#e2f3dd" />
<rect x="411.40" y="202.10" width="23.60" height="1.15" fill="#dff2da" />
<rect x="434.70" y="202.10" width="23.30" height="1.15" fill="#e3f4de" />
<rect x="388.20" y="203.10" width="23.50" height="1.15" fill="#e3f3de" />
<rect x="411.40" y="203.10" width="23.60" height="1.15" fill="#e1f3db" />
<rect x="434.70" y="203.10" width="23.30" height="1.15" fill="#e2f3dd" />
<rect x="388.20" y="204.10" width="23.50" height="1.15" fill="#e4f4df" />
<rect x="411.40" y="204.10" width="23.60" height="1.15" fill="#e1f3dc" />
<rect x="434.70" y="204.10" width="23.30" height="1.15" fill="#e2f3dd" />
<rect x="388.20" y="205.10" width="23.50" height="1.15" fill="#e4f4df" />
<rect x="411.40" y="205.10" width="23.60" height="1.15" fill="#e6f4e1" />
<rect x="434.70" y="205.10" width="23.30" height="1.15" fill="#e4f4df" />
<rect x="388.20" y="206.10" width="23.50" height="1.15" fill="#e5f4e0" />
<rect x="411.40" y="206.10" width="23.60" height="1.15" fill="#e6f5e1" />
<rect x="434.70" y="206.10" width="23.30" height="1.15" fill="#e6f5e2" />
<rect x="388.20" y="207.10" width="23.50" height="1.15" fill="#e6f4e1" />
<rect x="411.40" y="207.10" width="23.60" height="1.15" fill="#e7f5e2" />
<rect x="434.70" y="207.10" width="23.30" height="1.15" fill="#e6f4e1" />
<rect x="388.20" y="208.10" width="23.50" height="1.15" fill="#e6f5e1" />
<rect x="411.40" y="208.10" width="23.60" height="1.15" fill="#e6f5e2" />
<rect x="434.70" y="208.10" width="23.30" height="1.15" fill="#e7f5e2" />
<rect x="388.20" y="209.10" width="23.50" height="1.15" fill="#e7f5e2" />
<rect x="411.40" y="209.10" width="23.60" height="1.15" fill="#e7f5e2" />
<rect x="434.70" y="209.10" width="23.30" height="1.15" fill="#e6f5e2" />
<rect x="388.20" y="210.10" width="23.50" height="1.15" fill="#e7f5e3" />
<rect x="411.40" y="210.10" width="23.60" height="1.15" fill="#e7f5e2" />
<rect x="434.70" y="210.10" width="23.30" height="1.15" fill="#e7f5e2" />
<rect x="388.20" y="211.10" width="23.50" height="1.15" fill="#e8f5e3" />
<rect x="411.40" y="211.10" width="23.60" height="1.15" fill="#e8f5e4" />
<rect x="434.70" y="211.10" width="23.30" height="1.15" fill="#e8f5e4" />
<rect x="388.20" y="212.10" width="23.50" height="1.15" fill="#e8f5e4" />
<rect x="411.40" y="212.10" width="23.60" height="1.15" fill="#e8f5e4" />
<rect x="434.70" y="212.10" width="23.30" height="1.15" fill="#e8f5e4" />
<rect x="388.20" y="213.10" width="23.50" height="1.15" fill="#ebf6e6" />
<rect x="411.40" y="213.10" width="23.60" height="1.15" fill="#ebf6e7" />
<rect x="434.70" y="213.10" width="23.30" height="1.15" fill="#eaf6e5" />
<rect x="388.20" y="214.10" width="23.50" height="1.15" fill="#eaf6e6" />
<rect x="411.40" y="214.10" width="23.60" height="1.15" fill="#eaf6e6" />
<rect x="434.70" y="214.10" width="23.30" height="1.15" fill="#eaf6e6" />
<rect x="388.20" y="215.10" width="23.50" height="1.15" fill="#eaf6e5" />
<rect x="411.40" y="215.10" width="23.60" height="1.15" fill="#ebf6e7" />
<rect x="434.70" y="215.10" width="23.30" height="1.15" fill="#ebf6e7" />
<rect x="388.20" y="216.10" width="23.50" height="1.15" fill="#e9f6e5" />
<rect x="411.40" y="216.10" width="23.60" height="1.15" fill="#e9f6e5" />
<rect x="434.70" y="216.10" width="23.30" height="1.15" fill="#e9f6e5" />
<rect x="388.20" y="217.10" width="23.50" height="1.15" fill="#ecf6e7" />
<rect x="411.40" y="217.10" width="23.60" height="1.15" fill="#ebf6e7" />
<rect x="434.70" y="217.10" width="23.30" height="1.15" fill="#ebf6e7" />
<rect x="388.20" y="218.10" width="23.50" height="1.15" fill="#eaf6e6" />
<rect x="411.40" y="218.10" width="23.60" height="1.15" fill="#eaf6e6" />
<rect x="434.70" y="218.10" width="23.30" height="1.15" fill="#ebf6e7" />
<rect x="388.20" y="219.10" width="23.50" height="1.15" fill="#eaf6e6" />
<rect x="411.40" y="219.10" width="23.60" height="1.15" fill="#ebf6e7" />
<rect x="434.70" y="219.10" width="23.30" height="1.15" fill="#ebf6e7" />
<rect x="388.20" y="220.10" width="23.50" height="1.15" fill="#eaf6e5" />
<rect x="411.40" y="220.10" width="23.60" height="1.15" fill="#eaf6e6" />
<rect x="434.70" y="220.10" width="23.30" height="1.15" fill="#eaf6e6" />
<rect x="388.20" y="221.10" width="23.50" height="1.15" fill="#ebf6e6" />
<rect x="411.40" y="221.10" width="23.60" height="1.15" fill="#eaf6e6" />
<rect x="434.70" y="221.10" width="23.30" height="1.15" fill="#ebf6e7" />
<rect x="388.20" y="222.10" width="23.50" height="1.15" fill="#ebf6e6" />
<rect x="411.40" y="222.10" width="23.60" height="1.15" fill="#eaf6e5" />
<rect x="434.70" y="222.10" width="23.30" height="1.15" fill="#e9f6e5" />
<rect x="388.20" y="223.10" width="23.50" height="1.15" fill="#ebf6e7" />
<rect x="411.40" y="223.10" width="23.60" height="1.15" fill="#ebf6e7" />
<rect x="434.70" y="223.10" width="23.30" height="1.15" fill="#e9f6e5" />
<rect x="388.20" y="224.10" width="23.50" height="1.15" fill="#eaf6e6" />
<rect x="411.40" y="224.10" width="23.60" height="1.15" fill="#e9f6e5" />
<rect x="434.70" y="224.10" width="23.30" height="1.15" fill="#ebf6e7" />
<rect x="388.20" y="225.10" width="23.50" height="1.15" fill="#eaf6e6" />
<rect x="411.40" y="225.10" width="23.60" height="1.15" fill="#ebf6e7" />
<rect x="434.70" y="225.10" width="23.30" height="1.15" fill="#e9f6e5" />
<rect x="388.20" y="226.10" width="23.50" height="1.15" fill="#ebf6e6" />
<rect x="411.40" y="226.10" width="23.60" height="1.15" fill="#eaf6e6" />
<rect x="434.70" y="226.10" width="23.30" height="1.15" fill="#e9f6e5" />
<rect x="388.20" y="227.10" width="23.50" height="1.15" fill="#ebf6e7" />
<rect x="411.40" y="227.10" width="23.60" height="1.15" fill="#eaf6e6" />
<rect x="434.70" y="227.10" width="23.30" height="1.15" fill="#eaf6e5" />
<rect x="388.20" y="228.10" width="23.50" height="1.15" fill="#e9f6e5" />
<rect x="411.40" y="228.10" width="23.60" height="1.15" fill="#eaf6e6" />
<rect x="434.70" y="228.10" width="23.30" height="1.15" fill="#ebf6e6" />
<rect x="388.20" y="229.10" width="23.50" height="1.15" fill="#ebf6e7" />
<rect x="411.40" y="229.10" width="23.60" height="1.15" fill="#e9f6e5" />
<rect x="434.70" y="229.10" width="23.30" height="1.15" fill="#ebf6e7" />
<rect x="388.20" y="230.10" width="23.50" height="1.15" fill="#ebf6e7" />
<rect x="411.40" y="230.10" width="23.60" height="1.15" fill="#eaf6e6" />
<rect x="434.70" y="230.10" width="23.30" height="1.15" fill="#eaf6e6" />
<rect x="388.20" y="231.10" width="23.50" height="1.15" fill="#eaf6e5" />
<rect x="411.40" y="231.10" width="23.60" height="1.15" fill="#ebf6e7" />
<rect x="434.70" y="231.10" width="23.30" height="1.15" fill="#e9f6e5" />
<rect x="388.20" y="232.10" width="23.50" height="1.15" fill="#ebf6e7" />
<rect x="411.40" y="232.10" width="23.60" height="1.15" fill="#ebf6e7" />
<rect x="434.70" y="232.10" width="23.30" height="1.15" fill="#eaf6e6" />
<rect x="388.20" y="233.10" width="23.50" height="1.15" fill="#ebf6e7" />
<rect x="411.40" y="233.10" width="23.60" height="1.15" fill="#ebf6e7" />
<rect x="434.70" y="233.10" width="23.30" height="1.15" fill="#eaf6e5" />
<rect x="388.20" y="234.10" width="23.50" height="1.15" fill="#eaf6e5" />
<rect x="411.40" y="234.10" width="23.60" height="1.15" fill="#ebf6e7" />
<rect x="434.70" y="234.10" width="23.30" height="1.15" fill="#ebf6e7" />
<rect x="388.20" y="235.10" width="23.50" height="1.15" fill="#ebf6e6" />
<rect x="411.40" y="235.10" width="23.60" height="1.15" fill="#eaf6e5" />
<rect x="434.70" y="235.10" width="23.30" height="1.15" fill="#ebf6e6" />
<rect x="388.20" y="236.10" width="23.50" height="1.15" fill="#ebf6e7" />
<rect x="411.40" y="236.10" width="23.60" height="1.15" fill="#eaf6e5" />
<rect x="434.70" y="236.10" width="23.30" height="1.15" fill="#eaf6e6" />
<rect x="388.20" y="237.10" width="23.50" height="1.15" fill="#e9f6e5" />
<rect x="411.40" y="237.10" width="23.60" height="1.15" fill="#e9f6e5" />
<rect x="434.70" y="237.10" width="23.30" height="1.15" fill="#e9f6e5" />
<rect x="388.20" y="238.10" width="23.50" height="1.15" fill="#eaf6e6" />
<rect x="411.40" y="238.10" width="23.60" height="1.15" fill="#e9f6e5" />
<rect x="434.70" y="238.10" width="23.30" height="1.15" fill="#ebf6e7" />
<rect x="388.20" y="239.10" width="23.50" height="1.15" fill="#ebf6e7" />
<rect x="411.40" y="239.10" width="23.60" height="1.15" fill="#ebf6e6" />
<rect x="434.70" y="239.10" width="23.30" height="1.15" fill="#e9f6e5" />
<rect x="388.20" y="240.10" width="23.50" height="1.15" fill="#e9f6e5" />
<rect x="411.40" y="240.10" width="23.60" height="1.15" fill="#ebf6e7" />
<rect x="434.70" y="240.10" width="23.30" height="1.15" fill="#ebf6e6" />
<rect x="388.20" y="241.10" width="23.50" height="1.15" fill="#ebf6e6" />
<rect x="411.40" y="241.10" width="23.60" height="1.15" fill="#ebf6e6" />
<rect x="434.70" y="241.10" width="23.30" height="1.15" fill="#ebf6e6" />
<rect x="388.20" y="242.10" width="23.50" height="1.15" fill="#ebf6e6" />
<rect x="411.40" y="242.10" width="23.60" height="1.15" fill="#ebf6e7" />
<rect x="434.70" y="242.10" width="23.30" height="1.15" fill="#eaf6e6" />
<rect x="388.20" y="243.10" width="23.50" height="1.15" fill="#e9f6e5" />
<rect x="411.40" y="243.10" width="23.60" height="1.15" fill="#eaf6e6" />
<rect x="434.70" y="243.10" width="23.30" height="1.15" fill="#e9f6e5" />
<rect x="388.20" y="244.10" width="23.50" height="1.15" fill="#eaf6e6" />
<rect x="411.40" y="244.10" width="23.60" height="1.15" fill="#ebf6e7" />
<rect x="434.70" y="244.10" width="23.30" height="1.15" fill="#eaf6e5" />
<rect x="388.20" y="245.10" width="23.50" height="1.15" fill="#e9f6e5" />
<rect x="411.40" y="245.10" width="23.60" height="1.15" fill="#ebf6e7" />
<rect x="434.70" y="245.10" width="23.30" height="1.15" fill="#ecf6e7" />
<rect x="388.20" y="246.10" width="23.50" height="1.15" fill="#eaf6e6" />
<rect x="411.40" y="246.10" width="23.60" height="1.15" fill="#eaf6e6" />
<rect x="434.70" y="246.10" width="23.30" height="1.15" fill="#eaf6e6" />
<rect x="388.20" y="247.10" width="23.50" height="1.15" fill="#e9f6e5" />
<rect x="411.40" y="247.10" width="23.60" height="1.15" fill="#eaf6e6" />
<rect x="434.70" y="247.10" width="23.30" height="1.15" fill="#e9f6e5" />
<rect x="388.20" y="248.10" width="23.50" height="1.15" fill="#ebf6e7" />
<rect x="411.40" y="248.10" width="23.60" height="1.15" fill="#eaf6e6" />
<rect x="434.70" y="248.10" width="23.30" height="1.15" fill="#e9f6e5" />
<rect x="388.20" y="249.10" width="23.50" height="1.15" fill="#ebf6e7" />
<rect x="411.40" y="249.10" width="23.60" height="1.15" fill="#ebf6e7" />
<rect x="434.70" y="249.10" width="23.30" height="1.15" fill="#eaf6e5" />
<rect x="388.20" y="250.10" width="23.50" height="1.15" fill="#e9f6e5" />
<rect x="411.40" y="250.10" width="23.60" height="1.15" fill="#ebf6e7" />
<rect x="434.70" y="250.10" width="23.30" height="1.15" fill="#eaf6e6" />
<rect x="388.20" y="251.10" width="23.50" height="1.15" fill="#ebf6e7" />
<rect x="411.40" y="251.10" width="23.60" height="1.15" fill="#eaf6e5" />
<rect x="434.70" y="251.10" width="23.30" height="1.15" fill="#eaf6e6" />
<rect x="388.20" y="252.10" width="23.50" height="1.15" fill="#ebf6e7" />
<rect x="411.40" y="252.10" width="23.60" height="1.15" fill="#ebf6e7" />
<rect x="434.70" y="252.10" width="23.30" height="1.15" fill="#eaf6e5" />
<rect x="388.20" y="253.10" width="23.50" height="1.15" fill="#eaf6e6" />
<rect x="411.40" y="253.10" width="23.60" height="1.15" fill="#eaf6e5" />
<rect x="434.70" y="253.10" width="23.30" height="1.15" fill="#ebf6e6" />
<rect x="388.20" y="254.10" width="23.50" height="1.15" fill="#ebf6e6" />
<rect x="411.40" y="254.10" width="23.60" height="1.15" fill="#e9f6e5" />
<rect x="434.70" y="254.10" width="23.30" height="1.15" fill="#eaf6e5" />
<rect x="388.20" y="255.10" width="23.50" height="1.15" fill="#eaf6e6" />
<rect x="411.40" y="255.10" width="23.60" height="1.15" fill="#eaf6e6" />
<rect x="434.70" y="255.10" width="23.30" height="1.15" fill="#eaf6e5" />
<rect x="388.20" y="256.10" width="23.50" height="1.15" fill="#eaf6e5" />
<rect x="411.40" y="256.10" width="23.60" height="1.15" fill="#e9f6e5" />
<rect x="434.70" y="256.10" width="23.30" height="1.15" fill="#eaf6e6" />
<rect x="388.20" y="257.10" width="23.50" height="1.15" fill="#e9f6e5" />
<rect x="411.40" y="257.10" width="23.60" height="1.15" fill="#eaf6e5" />
<rect x="434.70" y="257.10" width="23.30" height="1.15" fill="#e9f6e5" />
<rect x="388.20" y="258.10" width="23.50" height="1.15" fill="#e9f6e5" />
<rect x="411.40" y="258.10" width="23.60" height="1.15" fill="#e9f6e5" />
<rect x="434.70" y="258.10" width="23.30" height="1.15" fill="#e9f6e5" />
<rect x="388.20" y="259.10" width="23.50" height="1.15" fill="#e9f6e5" />
<rect x="411.40" y="259.10" width="23.60" height="1.15" fill="#eaf6e6" />
<rect x="434.70" y="259.10" width="23.30" height="1.15" fill="#eaf6e6" />
<rect x="388.20" y="260.10" width="23.50" height="1.15" fill="#eaf6e5" />
<rect x="411.40" y="260.10" width="23.60" height="1.15" fill="#e9f6e5" />
<rect x="434.70" y="260.10" width="23.30" height="1.15" fill="#eaf6e6" />
<rect x="388.20" y="261.10" width="23.50" height="1.15" fill="#eaf6e6" />
<rect x="411.40" y="261.10" width="23.60" height="1.15" fill="#ebf6e7" />
<rect x="434.70" y="261.10" width="23.30" height="1.15" fill="#eaf6e5" />
<rect x="388.20" y="262.10" width="23.50" height="1.15" fill="#e9f6e5" />
<rect x="411.40" y="262.10" width="23.60" height="1.15" fill="#ebf6e6" />
<rect x="434.70" y="262.10" width="23.30" height="1.15" fill="#ebf6e7" />
<rect x="388.20" y="263.10" width="23.50" height="1.15" fill="#ebf6e7" />
<rect x="411.40" y="263.10" width="23.60" height="1.15" fill="#eaf6e6" />
<rect x="434.70" y="263.10" width="23.30" height="1.15" fill="#ebf6e7" />
<rect x="388.20" y="264.10" width="23.50" height="1.15" fill="#e9f6e5" />
<rect x="411.40" y="264.10" width="23.60" height="1.15" fill="#ebf6e7" />
<rect x="434.70" y="264.10" width="23.30" height="1.15" fill="#ebf6e7" />
<rect x="388.20" y="265.10" width="23.50" height="1.15" fill="#ebf6e7" />
<rect x="411.40" y="265.10" width="23.60" height="1.15" fill="#eaf6e6" />
<rect x="434.70" y="265.10" width="23.30" height="1.15" fill="#e9f6e5" />
<rect x="388.20" y="266.10" width="23.50" height="1.15" fill="#ebf6e7" />
<rect x="411.40" y="266.10" width="23.60" height="1.15" fill="#ebf6e7" />
<rect x="434.70" y="266.10" width="23.30" height="1.15" fill="#eaf6e6" />
<rect x="388.20" y="267.10" width="23.50" height="1.15" fill="#eaf6e6" />
<rect x="411.40" y="267.10" width="23.60" height="1.15" fill="#e9f6e5" />
<rect x="434.70" y="267.10" width="23.30" height="1.15" fill="#ecf6e7" />
<rect x="388.20" y="268.10" width="23.50" height="1.15" fill="#ebf6e7" />
<rect x="411.40" y="268.10" width="23.60" height="1.15" fill="#ebf6e7" />
<rect x="434.70" y="268.10" width="23.30" height="1.15" fill="#ebf6e7" />
<rect x="388.20" y="269.10" width="23.50" height="1.15" fill="#ebf6e7" />
<rect x="411.40" y="269.10" width="23.60" height="1.15" fill="#eaf6e5" />
<rect x="434.70" y="269.10" width="23.30" height="1.15" fill="#eaf6e6" />
<rect x="388.20" y="270.10" width="23.50" height="1.15" fill="#ebf6e7" />
<rect x="411.40" y="270.10" width="23.60" height="1.15" fill="#ebf6e7" />
<rect x="434.70" y="270.10" width="23.30" height="1.15" fill="#ebf6e7" />
<rect x="388.20" y="271.10" width="23.50" height="1.15" fill="#ebf6e7" />
<rect x="411.40" y="271.10" width="23.60" height="1.15" fill="#eaf6e5" />
<rect x="434.70" y="271.10" width="23.30" height="1.15" fill="#ebf6e7" />
<rect x="388.20" y="272.10" width="23.50" height="1.15" fill="#eaf6e6" />
<rect x="411.40" y="272.10" width="23.60" height="1.15" fill="#e9f6e5" />
<rect x="434.70" y="272.10" width="23.30" height="1.15" fill="#eaf6e6" />
<rect x="388.20" y="273.10" width="23.50" height="1.15" fill="#ebf6e7" />
<rect x="411.40" y="273.10" width="23.60" height="1.15" fill="#e9f6e5" />
<rect x="434.70" y="273.10" width="23.30" height="1.15" fill="#e9f6e5" />
<rect x="388.20" y="274.10" width="23.50" height="1.15" fill="#ebf6e6" />
<rect x="411.40" y="274.10" width="23.60" height="1.15" fill="#eaf6e6" />
<rect x="434.70" y="274.10" width="23.30" height="1.15" fill="#e9f6e5" />
<rect x="388.20" y="275.10" width="23.50" height="1.15" fill="#eaf6e6" />
<rect x="411.40" y="275.10" width="23.60" height="1.15" fill="#ebf6e7" />
<rect x="434.70" y="275.10" width="23.30" height="1.15" fill="#ebf6e7" />
<rect x="388.20" y="276.10" width="23.50" height="1.15" fill="#e9f6e5" />
<rect x="411.40" y="276.10" width="23.60" height="1.15" fill="#e9f6e5" />
<rect x="434.70" y="276.10" width="23.30" height="1.15" fill="#ebf6e6" />
<rect x="388.20" y="277.10" width="23.50" height="1.15" fill="#eaf6e6" />
<rect x="411.40" y="277.10" width="23.60" height="1.15" fill="#eaf6e6" />
<rect x="434.70" y="277.10" width="23.30" height="1.15" fill="#ebf6e7" />
<rect x="388.20" y="278.10" width="23.50" height="1.15" fill="#e9f6e5" />
<rect x="411.40" y="278.10" width="23.60" height="1.15" fill="#eaf6e6" />
<rect x="434.70" y="278.10" width="23.30" height="1.15" fill="#ebf6e7" />
<rect x="388.20" y="279.10" width="23.50" height="1.15" fill="#ecf7e7" />
<rect x="411.40" y="279.10" width="23.60" height="1.15" fill="#eaf6e6" />
<rect x="434.70" y="279.10" width="23.30" height="1.15" fill="#ebf6e6" />
<rect x="388.20" y="280.10" width="23.50" height="1.15" fill="#e9f6e5" />
<rect x="411.40" y="280.10" width="23.60" height="1.15" fill="#eaf6e5" />
<rect x="434.70" y="280.10" width="23.30" height="1.15" fill="#eaf6e6" />
<rect x="388.20" y="281.10" width="23.50" height="1.15" fill="#ebf6e7" />
<rect x="411.40" y="281.10" width="23.60" height="1.15" fill="#ebf6e7" />
<rect x="434.70" y="281.10" width="23.30" height="1.15" fill="#ebf6e7" />
<rect x="388.20" y="282.10" width="23.50" height="1.15" fill="#ebf6e7" />
<rect x="411.40" y="282.10" width="23.60" height="1.15" fill="#e9f6e5" />
<rect x="434.70" y="282.10" width="23.30" height="1.15" fill="#eaf6e6" />
<rect x="388.20" y="283.10" width="23.50" height="1.15" fill="#eaf6e6" />
<rect x="411.40" y="283.10" width="23.60" height="1.15" fill="#e9f6e5" />
<rect x="434.70" y="283.10" width="23.30" height="1.15" fill="#ebf6e7" />
<rect x="388.20" y="284.10" width="23.50" height="1.15" fill="#eaf6e6" />
<rect x="411.40" y="284.10" width="23.60" height="1.15" fill="#ebf6e7" />
<rect x="434.70" y="284.10" width="23.30" height="1.15" fill="#e9f6e5" />
<rect x="388.20" y="285.10" width="23.50" height="1.15" fill="#ecf7e7" />
<rect x="411.40" y="285.10" width="23.60" height="1.15" fill="#e9f6e5" />
<rect x="434.70" y="285.10" width="23.30" height="1.15" fill="#e9f6e5" />
<rect x="388.20" y="286.10" width="23.50" height="1.15" fill="#e9f6e5" />
<rect x="411.40" y="286.10" width="23.60" height="1.15" fill="#ebf6e7" />
<rect x="434.70" y="286.10" width="23.30" height="1.15" fill="#ebf6e7" />
<rect x="388.20" y="287.10" width="23.50" height="1.15" fill="#eaf6e5" />
<rect x="411.40" y="287.10" width="23.60" height="1.15" fill="#ebf6e7" />
<rect x="434.70" y="287.10" width="23.30" height="1.15" fill="#eaf6e6" />
<rect x="388.20" y="288.10" width="23.50" height="1.15" fill="#eaf6e6" />
<rect x="411.40" y="288.10" width="23.60" height="1.15" fill="#e9f6e5" />
<rect x="434.70" y="288.10" width="23.30" height="1.15" fill="#eaf6e6" />
<rect x="388.20" y="289.10" width="23.50" height="1.15" fill="#e9f6e5" />
<rect x="411.40" y="289.10" width="23.60" height="1.15" fill="#ebf6e7" />
<rect x="434.70" y="289.10" width="23.30" height="1.15" fill="#e9f6e5" />
<rect x="388.20" y="290.10" width="23.50" height="1.15" fill="#eaf6e6" />
<rect x="411.40" y="290.10" width="23.60" height="1.15" fill="#e9f6e5" />
<rect x="434.70" y="290.10" width="23.30" height="1.15" fill="#ebf6e7" />
<rect x="388.20" y="291.10" width="23.50" height="1.15" fill="#e9f6e5" />
<rect x="411.40" y="291.10" width="23.60" height="1.15" fill="#ebf6e7" />
<rect x="434.70" y="291.10" width="23.30" height="1.15" fill="#eaf6e6" />
<rect x="388.20" y="292.10" width="23.50" height="1.15" fill="#eaf6e6" />
<rect x="411.40" y="292.10" width="23.60" height="1.15" fill="#ebf6e7" />
<rect x="434.70" y="292.10" width="23.30" height="1.15" fill="#e9f6e5" />
<rect x="388.20" y="293.10" width="23.50" height="1.15" fill="#ebf6e7" />
<rect x="411.40" y="293.10" width="23.60" height="1.15" fill="#ebf6e7" />
<rect x="434.70" y="293.10" width="23.30" height="1.15" fill="#ebf6e7" />
<rect x="388.20" y="294.10" width="23.50" height="1.15" fill="#ebf6e7" />
<rect x="411.40" y="294.10" width="23.60" height="1.15" fill="#eaf6e6" />
<rect x="434.70" y="294.10" width="23.30" height="1.15" fill="#eaf6e5" />
<rect x="388.20" y="295.10" width="23.50" height="1.15" fill="#ebf6e6" />
<rect x="411.40" y="295.10" width="23.60" height="1.15" fill="#eaf6e5" />
<rect x="434.70" y="295.10" width="23.30" height="1.15" fill="#ebf6e7" />
<rect x="388.20" y="296.10" width="23.50" height="1.15" fill="#ebf6e6" />
<rect x="411.40" y="296.10" width="23.60" height="1.15" fill="#eaf6e6" />
<rect x="434.70" y="296.10" width="23.30" height="1.15" fill="#e9f6e5" />
<rect x="388.20" y="297.10" width="23.50" height="1.15" fill="#e9f6e5" />
<rect x="411.40" y="297.10" width="23.60" height="1.15" fill="#eaf6e6" />
<rect x="434.70" y="297.10" width="23.30" height="1.15" fill="#ecf7e7" />
<rect x="388.20" y="298.10" width="23.50" height="1.15" fill="#ebf6e6" />
<rect x="411.40" y="298.10" width="23.60" height="1.15" fill="#eaf6e5" />
<rect x="434.70" y="298.10" width="23.30" height="1.15" fill="#ebf6e7" />
<rect x="388.20" y="299.10" width="23.50" height="1.15" fill="#eaf6e6" />
<rect x="411.40" y="299.10" width="23.60" height="1.15" fill="#eaf6e6" />
<rect x="434.70" y="299.10" width="23.30" height="1.15" fill="#ecf7e7" />
<rect x="388.20" y="300.10" width="23.50" height="1.15" fill="#e9f6e5" />
<rect x="411.40" y="300.10" width="23.60" height="1.15" fill="#e9f6e5" />
<rect x="434.70" y="300.10" width="23.30" height="1.15" fill="#ebf6e7" />
<rect x="388.20" y="301.10" width="23.50" height="1.15" fill="#eaf6e6" />
<rect x="411.40" y="301.10" width="23.60" height="1.15" fill="#ebf6e7" />
<rect x="434.70" y="301.10" width="23.30" height="1.15" fill="#ebf6e6" />
<rect x="388.20" y="302.10" width="23.50" height="1.15" fill="#eaf6e6" />
<rect x="411.40" y="302.10" width="23.60" height="1.15" fill="#ebf6e7" />
<rect x="434.70" y="302.10" width="23.30" height="1.15" fill="#ebf6e6" />
<rect x="388.20" y="303.10" width="23.50" height="1.15" fill="#ebf6e6" />
<rect x="411.40" y="303.10" width="23.60" height="1.15" fill="#eaf6e5" />
<rect x="434.70" y="303.10" width="23.30" height="1.15" fill="#ebf6e7" />
<rect x="388.20" y="304.10" width="23.50" height="1.15" fill="#ebf6e7" />
<rect x="411.40" y="304.10" width="23.60" height="1.15" fill="#eaf6e5" />
<rect x="434.70" y="304.10" width="23.30" height="1.15" fill="#ebf6e7" />
<rect x="388.20" y="305.10" width="23.50" height="1.15" fill="#e9f6e5" />
<rect x="411.40" y="305.10" width="23.60" height="1.15" fill="#eaf6e6" />
<rect x="434.70" y="305.10" width="23.30" height="1.15" fill="#eaf6e5" />
<rect x="388.20" y="306.10" width="23.50" height="1.15" fill="#ebf6e7" />
<rect x="411.40" y="306.10" width="23.60" height="1.15" fill="#e9f6e5" />
<rect x="434.70" y="306.10" width="23.30" height="1.15" fill="#ebf6e7" />
<rect x="388.20" y="307.10" width="23.50" height="1.15" fill="#ebf6e7" />
<rect x="411.40" y="307.10" width="23.60" height="1.15" fill="#ebf6e7" />
<rect x="434.70" y="307.10" width="23.30" height="1.15" fill="#eaf6e5" />
<rect x="388.20" y="308.10" width="23.50" height="1.15" fill="#eaf6e5" />
<rect x="411.40" y="308.10" width="23.60" height="1.15" fill="#ebf6e7" />
<rect x="434.70" y="308.10" width="23.30" height="1.15" fill="#ebf6e6" />
<rect x="388.20" y="309.10" width="23.50" height="1.15" fill="#e9f6e5" />
<rect x="411.40" y="309.10" width="23.60" height="1.15" fill="#eaf6e6" />
<rect x="434.70" y="309.10" width="23.30" height="1.15" fill="#ebf6e7" />
<rect x="388.20" y="310.10" width="23.50" height="1.15" fill="#ebf6e7" />
<rect x="411.40" y="310.10" width="23.60" height="1.15" fill="#ebf6e7" />
<rect x="434.70" y="310.10" width="23.30" height="1.15" fill="#ebf6e7" />
<rect x="388.20" y="311.10" width="23.50" height="1.15" fill="#eaf6e6" />
<rect x="411.40" y="311.10" width="23.60" height="1.15" fill="#ebf6e7" />
<rect x="434.70" y="311.10" width="23.30" height="1.15" fill="#e9f6e5" />
<rect x="388.20" y="312.10" width="23.50" height="1.15" fill="#eaf6e6" />
<rect x="411.40" y="312.10" width="23.60" height="1.15" fill="#eaf6e6" />
<rect x="434.70" y="312.10" width="23.30" height="1.15" fill="#eaf6e6" />
<rect x="388.20" y="313.10" width="23.50" height="1.15" fill="#eaf6e5" />
<rect x="411.40" y="313.10" width="23.60" height="1.15" fill="#e9f6e5" />
<rect x="434.70" y="313.10" width="23.30" height="1.15" fill="#ebf6e6" />
<rect x="388.20" y="314.10" width="23.50" height="1.15" fill="#ebf6e7" />
<rect x="411.40" y="314.10" width="23.60" height="1.15" fill="#eaf6e6" />
<rect x="434.70" y="314.10" width="23.30" height="1.15" fill="#ecf7e7" />
<rect x="388.20" y="315.10" width="23.50" height="1.15" fill="#ebf6e6" />
<rect x="411.40" y="315.10" width="23.60" height="1.15" fill="#eaf6e5" />
<rect x="434.70" y="315.10" width="23.30" height="1.15" fill="#e9f6e5" />
<rect x="388.20" y="316.10" width="23.50" height="1.15" fill="#e9f6e5" />
<rect x="411.40" y="316.10" width="23.60" height="1.15" fill="#eaf6e6" />
<rect x="434.70" y="316.10" width="23.30" height="1.15" fill="#eaf6e6" />
<rect x="388.20" y="317.10" width="23.50" height="1.15" fill="#ecf7e7" />
<rect x="411.40" y="317.10" width="23.60" height="1.15" fill="#ebf6e7" />
<rect x="434.70" y="317.10" width="23.30" height="1.15" fill="#ebf6e6" />
<rect x="388.20" y="318.10" width="23.50" height="1.15" fill="#eaf6e6" />
<rect x="411.40" y="318.10" width="23.60" height="1.15" fill="#ebf6e7" />
<rect x="434.70" y="318.10" width="23.30" height="1.15" fill="#ebf6e6" />
<rect x="388.20" y="319.10" width="23.50" height="1.15" fill="#eaf6e6" />
<rect x="411.40" y="319.10" width="23.60" height="1.15" fill="#e9f6e5" />
<rect x="434.70" y="319.10" width="23.30" height="1.15" fill="#e9f6e5" />
<rect x="388.20" y="320.10" width="23.50" height="1.15" fill="#eaf6e6" />
<rect x="411.40" y="320.10" width="23.60" height="1.15" fill="#ebf6e7" />
<rect x="434.70" y="320.10" width="23.30" height="1.15" fill="#eaf6e5" />
<rect x="388.20" y="321.10" width="23.50" height="1.15" fill="#e9f6e5" />
<rect x="411.40" y="321.10" width="23.60" height="1.15" fill="#eaf6e6" />
<rect x="434.70" y="321.10" width="23.30" height="1.15" fill="#ebf6e6" />
<rect x="388.20" y="322.10" width="23.50" height="1.15" fill="#eaf6e6" />
<rect x="411.40" y="322.10" width="23.60" height="1.15" fill="#ebf6e7" />
<rect x="434.70" y="322.10" width="23.30" height="1.15" fill="#eaf6e5" />
<rect x="388.20" y="323.10" width="23.50" height="1.15" fill="#e9f6e5" />
<rect x="411.40" y="323.10" width="23.60" height="1.15" fill="#eaf6e6" />
<rect x="434.70" y="323.10" width="23.30" height="1.15" fill="#eaf6e5" />
<rect x="388.20" y="324.10" width="23.50" height="1.15" fill="#e9f6e5" />
<rect x="411.40" y="324.10" width="23.60" height="1.15" fill="#ebf6e7" />
<rect x="434.70" y="324.10" width="23.30" height="1.15" fill="#e9f6e5" />
<rect x="388.20" y="325.10" width="23.50" height="1.15" fill="#eaf6e6" />
<rect x="411.40" y="325.10" width="23.60" height="1.15" fill="#ebf6e7" />
<rect x="434.70" y="325.10" width="23.30" height="1.15" fill="#ebf6e7" />
<rect x="388.20" y="326.10" width="23.50" height="1.15" fill="#ebf6e7" />
<rect x="411.40" y="326.10" width="23.60" height="1.15" fill="#eaf6e6" />
<rect x="434.70" y="326.10" width="23.30" height="1.15" fill="#eaf6e5" />
<rect x="388.20" y="327.10" width="23.50" height="1.15" fill="#ebf6e7" />
<rect x="411.40" y="327.10" width="23.60" height="1.15" fill="#e9f6e5" />
<rect x="434.70" y="327.10" width="23.30" height="1.15" fill="#ebf6e6" />
<rect x="388.20" y="328.10" width="23.50" height="1.15" fill="#eaf6e6" />
<rect x="411.40" y="328.10" width="23.60" height="1.15" fill="#ebf6e7" />
<rect x="434.70" y="328.10" width="23.30" height="1.15" fill="#e9f6e5" />
<rect x="388.20" y="329.10" width="23.50" height="1.15" fill="#ebf6e7" />
<rect x="411.40" y="329.10" width="23.60" height="1.15" fill="#e9f6e5" />
<rect x="434.70" y="329.10" width="23.30" height="1.15" fill="#eaf6e6" />
<rect x="388.20" y="330.10" width="23.50" height="1.15" fill="#eaf6e6" />
<rect x="411.40" y="330.10" width="23.60" height="1.15" fill="#eaf6e6" />
<rect x="434.70" y="330.10" width="23.30" height="1.15" fill="#ebf6e7" />
<rect x="388.20" y="331.10" width="23.50" height="1.15" fill="#e9f6e5" />
<rect x="411.40" y="331.10" width="23.60" height="1.15" fill="#e9f6e5" />
<rect x="434.70" y="331.10" width="23.30" height="1.15" fill="#e9f6e5" />
<rect x="388.20" y="332.10" width="23.50" height="1.15" fill="#eaf6e6" />
<rect x="411.40" y="332.10" width="23.60" height="1.15" fill="#ebf6e7" />
<rect x="434.70" y="332.10" width="23.30" height="1.15" fill="#e9f6e5" />
<rect x="388.20" y="333.10" width="23.50" height="1.15" fill="#ebf6e7" />
<rect x="411.40" y="333.10" width="23.60" height="1.15" fill="#e9f6e5" />
<rect x="434.70" y="333.10" width="23.30" height="1.15" fill="#ebf6e7" />
<rect x="388.20" y="334.10" width="23.50" height="1.15" fill="#eaf6e6" />
<rect x="411.40" y="334.10" width="23.60" height="1.15" fill="#e9f6e5" />
<rect x="434.70" y="334.10" width="23.30" height="1.15" fill="#ebf6e7" />
<rect x="388.20" y="335.10" width="23.50" height="1.15" fill="#eaf6e6" />
<rect x="411.40" y="335.10" width="23.60" height="1.15" fill="#ebf6e7" />
<rect x="434.70" y="335.10" width="23.30" height="1.15" fill="#ecf6e7" />
<rect x="388.20" y="336.10" width="23.50" height="1.15" fill="#ebf6e7" />
<rect x="411.40" y="336.10" width="23.60" height="1.15" fill="#e9f6e5" />
<rect x="434.70" y="336.10" width="23.30" height="1.15" fill="#e9f6e5" />
<rect x="388.20" y="337.10" width="23.50" height="1.15" fill="#eaf6e6" />
<rect x="411.40" y="337.10" width="23.60" height="1.15" fill="#ebf6e7" />
<rect x="434.70" y="337.10" width="23.30" height="1.15" fill="#eaf6e5" />
<rect x="388.20" y="338.10" width="23.50" height="1.15" fill="#eaf6e5" />
<rect x="411.40" y="338.10" width="23.60" height="1.15" fill="#ebf6e6" />
<rect x="434.70" y="338.10" width="23.30" height="1.15" fill="#eaf6e6" />
<rect x="388.20" y="339.10" width="23.50" height="0.95" fill="#e9f6e5" />
<rect x="411.40" y="339.10" width="23.60" height="0.95" fill="#ecf7e7" />
<rect x="434.70" y="339.10" width="23.30" height="0.95" fill="#ebf6e7" />
</g>
<line x1="383.10" y1="9.00" x2="383.10" y2="136.80" stroke="#2b2b2b" stroke-width="1.6" />
<line x1="383.10" y1="140.10" x2="383.10" y2="163.40" stroke="#2b2b2b" stroke-width="1.6" />
<line x1="383.10" y1="166.40" x2="383.10" y2="341.40" stroke="#2b2b2b" stroke-width="1.6" />
<line x1="400.20" y1="340.20" x2="400.20" y2="342.00" stroke="#555" stroke-width="0.8" />
<line x1="423.60" y1="340.20" x2="423.60" y2="342.00" stroke="#555" stroke-width="0.8" />
<line x1="446.60" y1="340.20" x2="446.60" y2="342.00" stroke="#555" stroke-width="0.8" />
<text x="391.30" y="352.00" font-size="10.2" text-anchor="middle" stroke="#111" stroke-width="0.22" fill="#111" >MuSC</text>
<text x="388.70" y="364.30" font-size="10.2" text-anchor="middle" stroke="#111" stroke-width="0.22" fill="#111" >1</text>
<text x="423.20" y="352.00" font-size="10.2" text-anchor="middle" stroke="#111" stroke-width="0.22" fill="#111" >MuSC</text>
<text x="420.60" y="364.30" font-size="10.2" text-anchor="middle" stroke="#111" stroke-width="0.22" fill="#111" >2</text>
<text x="455.00" y="352.00" font-size="10.2" text-anchor="middle" stroke="#111" stroke-width="0.22" fill="#111" >MuSC</text>
<text x="452.40" y="364.30" font-size="10.2" text-anchor="middle" stroke="#111" stroke-width="0.22" fill="#111" >3</text>
<text transform="translate(376.60,174.50) rotate(-90)" font-size="10.2" text-anchor="middle" stroke="#000" stroke-width="0.22" fill="#000">genes</text>
<text transform="translate(462.40,14.20) rotate(90)" font-size="10.3" text-anchor="start" stroke="#000" stroke-width="0.22" fill="#000">Cluster 1: RPM &gt; 5</text>
<text transform="translate(475.00,133.00) rotate(90)" font-size="10.2" text-anchor="start" stroke="#000" stroke-width="0.22" fill="#000">Cluster 2:</text>
<text transform="translate(462.60,131.20) rotate(90)" font-size="10.2" text-anchor="start" stroke="#000" stroke-width="0.22" fill="#000">1&lt;RPM&lt;5</text>
<text transform="translate(462.60,240.30) rotate(90)" font-size="10.2" text-anchor="start" stroke="#000" stroke-width="0.22" fill="#000">Cluster 3: RPM &lt;1</text>
<text x="490.20" y="17.20" font-size="10.2" text-anchor="start" stroke="#111" stroke-width="0.22" fill="#111" >RPM</text>
<text x="490.20" y="29.50" font-size="10.2" text-anchor="start" stroke="#111" stroke-width="0.22" fill="#111" >MuSC</text>
<text x="490.20" y="41.80" font-size="10.2" text-anchor="start" stroke="#111" stroke-width="0.22" fill="#111" >RNA-Seq</text>
<defs><linearGradient id="gb" x1="0" y1="0" x2="0" y2="1"><stop offset="0" stop-color="#0a6a2f"/><stop offset="0.25" stop-color="#1b8040"/><stop offset="0.5" stop-color="#2e9a50"/><stop offset="0.8" stop-color="#4cae5f"/><stop offset="0.95" stop-color="#62ba6c"/><stop offset="1" stop-color="#8ed08e"/></linearGradient><linearGradient id="gc" x1="0" y1="0" x2="0" y2="1"><stop offset="0" stop-color="#ff1505"/><stop offset="0.15" stop-color="#ff3a20"/><stop offset="0.45" stop-color="#ff8062"/><stop offset="0.75" stop-color="#ffc2b1"/><stop offset="1" stop-color="#fff8f6"/></linearGradient></defs>
<rect x="490.00" y="44.80" width="17.80" height="95.80" fill="url(#gb)" />
<line x1="490.00" y1="69.40" x2="493.80" y2="69.40" stroke="#fff" stroke-width="0.9" />
<line x1="504.20" y1="69.40" x2="507.80" y2="69.40" stroke="#fff" stroke-width="0.9" />
<text x="511.70" y="72.50" font-size="10.2" text-anchor="start" stroke="#111" stroke-width="0.22" fill="#111" >75</text>
<line x1="490.00" y1="93.40" x2="493.80" y2="93.40" stroke="#fff" stroke-width="0.9" />
<line x1="504.20" y1="93.40" x2="507.80" y2="93.40" stroke="#fff" stroke-width="0.9" />
<text x="511.70" y="96.50" font-size="10.2" text-anchor="start" stroke="#111" stroke-width="0.22" fill="#111" >50</text>
<line x1="490.00" y1="117.40" x2="493.80" y2="117.40" stroke="#fff" stroke-width="0.9" />
<line x1="504.20" y1="117.40" x2="507.80" y2="117.40" stroke="#fff" stroke-width="0.9" />
<text x="511.70" y="120.50" font-size="10.2" text-anchor="start" stroke="#111" stroke-width="0.22" fill="#111" >25</text>
<text x="511.70" y="140.30" font-size="10.2" text-anchor="start" stroke="#111" stroke-width="0.22" fill="#111" >0</text>
<text x="533.90" y="11.00" font-size="15" text-anchor="start" stroke="#000" stroke-width="0.22" fill="#000" >c</text>
<g shape-rendering="crispEdges">
<rect x="550.00" y="6.80" width="33.00" height="1.60" fill="#fdd9cf" />
<rect x="582.70" y="6.80" width="32.70" height="1.60" fill="#fddbd1" />
<rect x="550.00" y="8.30" width="33.00" height="1.10" fill="#fddcd1" />
<rect x="582.70" y="8.30" width="32.70" height="1.10" fill="#fdddd3" />
<rect x="550.00" y="9.30" width="33.00" height="1.10" fill="#feefea" />
<rect x="582.70" y="9.30" width="32.70" height="1.10" fill="#feeee8" />
<rect x="550.00" y="10.30" width="33.00" height="1.10" fill="#fef1ed" />
<rect x="582.70" y="10.30" width="32.70" height="1.10" fill="#feeee8" />
<rect x="550.00" y="11.30" width="33.00" height="2.10" fill="#feefea" />
<rect x="582.70" y="11.30" width="32.70" height="2.10" fill="#feece6" />
<rect x="550.00" y="13.30" width="33.00" height="1.10" fill="#fef0eb" />
<rect x="582.70" y="13.30" width="32.70" height="1.10" fill="#feece6" />
<rect x="550.00" y="14.30" width="33.00" height="1.10" fill="#fcd5c9" />
<rect x="582.70" y="14.30" width="32.70" height="1.10" fill="#fdd8cd" />
<rect x="550.00" y="15.30" width="33.00" height="1.10" fill="#feeee9" />
<rect x="582.70" y="15.30" width="32.70" height="1.10" fill="#fee9e2" />
<rect x="550.00" y="16.30" width="33.00" height="2.10" fill="#feebe5" />
<rect x="582.70" y="16.30" width="32.70" height="2.10" fill="#feebe5" />
<rect x="550.00" y="18.30" width="33.00" height="1.10" fill="#fee8e0" />
<rect x="582.70" y="18.30" width="32.70" height="1.10" fill="#fee8e0" />
<rect x="550.00" y="19.30" width="33.00" height="1.60" fill="#fef0ec" />
<rect x="582.70" y="19.30" width="32.70" height="1.60" fill="#feeee9" />
<rect x="550.00" y="20.80" width="33.00" height="1.10" fill="#fee7e0" />
<rect x="582.70" y="20.80" width="32.70" height="1.10" fill="#fde1d8" />
<rect x="550.00" y="21.80" width="33.00" height="1.10" fill="#fdd7cc" />
<rect x="582.70" y="21.80" width="32.70" height="1.10" fill="#fdd6ca" />
<rect x="550.00" y="22.80" width="33.00" height="2.10" fill="#feeae4" />
<rect x="582.70" y="22.80" width="32.70" height="2.10" fill="#feeae4" />
<rect x="550.00" y="24.80" width="33.00" height="1.10" fill="#fde3db" />
<rect x="582.70" y="24.80" width="32.70" height="1.10" fill="#fde2da" />
<rect x="550.00" y="25.80" width="33.00" height="2.10" fill="#fee8e1" />
<rect x="582.70" y="25.80" width="32.70" height="2.10" fill="#fee6df" />
<rect x="550.00" y="27.80" width="33.00" height="1.10" fill="#fde2da" />
<rect x="582.70" y="27.80" width="32.70" height="1.10" fill="#fde3da" />
<rect x="550.00" y="28.80" width="33.00" height="2.10" fill="#fdd8cd" />
<rect x="582.70" y="28.80" width="32.70" height="2.10" fill="#fdd6ca" />
<rect x="550.00" y="30.80" width="33.00" height="1.10" fill="#fee8e1" />
<rect x="582.70" y="30.80" width="32.70" height="1.10" fill="#feeae3" />
<rect x="550.00" y="31.80" width="33.00" height="1.60" fill="#fee8e2" />
<rect x="582.70" y="31.80" width="32.70" height="1.60" fill="#fee8e1" />
<rect x="550.00" y="33.30" width="33.00" height="1.60" fill="#fdd9ce" />
<rect x="582.70" y="33.30" width="32.70" height="1.60" fill="#fcd2c5" />
<rect x="550.00" y="34.80" width="33.00" height="2.10" fill="#fef1ed" />
<rect x="582.70" y="34.80" width="32.70" height="2.10" fill="#fef2ed" />
<rect x="550.00" y="36.80" width="33.00" height="2.10" fill="#feede7" />
<rect x="582.70" y="36.80" width="32.70" height="2.10" fill="#feece6" />
<rect x="550.00" y="38.80" width="33.00" height="1.60" fill="#fdd9ce" />
<rect x="582.70" y="38.80" width="32.70" height="1.60" fill="#fdd7cc" />
<rect x="550.00" y="40.30" width="33.00" height="2.10" fill="#fef1ec" />
<rect x="582.70" y="40.30" width="32.70" height="2.10" fill="#feede7" />
<rect x="550.00" y="42.30" width="33.00" height="1.60" fill="#feede8" />
<rect x="582.70" y="42.30" width="32.70" height="1.60" fill="#fef0eb" />
<rect x="550.00" y="43.80" width="33.00" height="2.10" fill="#fdd8cd" />
<rect x="582.70" y="43.80" width="32.70" height="2.10" fill="#fdd9ce" />
<rect x="550.00" y="45.80" width="33.00" height="2.10" fill="#fee8e1" />
<rect x="582.70" y="45.80" width="32.70" height="2.10" fill="#fde4dc" />
<rect x="550.00" y="47.80" width="33.00" height="1.10" fill="#fde2da" />
<rect x="582.70" y="47.80" width="32.70" height="1.10" fill="#fde4dc" />
<rect x="550.00" y="48.80" width="33.00" height="1.60" fill="#fde4dc" />
<rect x="582.70" y="48.80" width="32.70" height="1.60" fill="#fee7e0" />
<rect x="550.00" y="50.30" width="33.00" height="1.60" fill="#fdded4" />
<rect x="582.70" y="50.30" width="32.70" height="1.60" fill="#fde0d7" />
<rect x="550.00" y="51.80" width="33.00" height="1.60" fill="#fdd8cc" />
<rect x="582.70" y="51.80" width="32.70" height="1.60" fill="#fddacf" />
<rect x="550.00" y="53.30" width="33.00" height="1.60" fill="#fde4dc" />
<rect x="582.70" y="53.30" width="32.70" height="1.60" fill="#fde0d7" />
<rect x="550.00" y="54.80" width="33.00" height="1.60" fill="#feebe4" />
<rect x="582.70" y="54.80" width="32.70" height="1.60" fill="#fee9e3" />
<rect x="550.00" y="56.30" width="33.00" height="1.60" fill="#fee7e0" />
<rect x="582.70" y="56.30" width="32.70" height="1.60" fill="#fee7df" />
<rect x="550.00" y="57.80" width="33.00" height="1.60" fill="#fcd6ca" />
<rect x="582.70" y="57.80" width="32.70" height="1.60" fill="#fdd9ce" />
<rect x="550.00" y="59.30" width="33.00" height="1.60" fill="#fdd7cc" />
<rect x="582.70" y="59.30" width="32.70" height="1.60" fill="#fddad0" />
<rect x="550.00" y="60.80" width="33.00" height="1.60" fill="#fdd7cb" />
<rect x="582.70" y="60.80" width="32.70" height="1.60" fill="#fdd7cb" />
<rect x="550.00" y="62.30" width="33.00" height="2.10" fill="#feede8" />
<rect x="582.70" y="62.30" width="32.70" height="2.10" fill="#feede7" />
<rect x="550.00" y="64.30" width="33.00" height="2.10" fill="#fee8e1" />
<rect x="582.70" y="64.30" width="32.70" height="2.10" fill="#feece6" />
<rect x="550.00" y="66.30" width="33.00" height="1.10" fill="#feede7" />
<rect x="582.70" y="66.30" width="32.70" height="1.10" fill="#feefea" />
<rect x="550.00" y="67.30" width="33.00" height="1.10" fill="#fccbbc" />
<rect x="582.70" y="67.30" width="32.70" height="1.10" fill="#fccdbe" />
<rect x="550.00" y="68.30" width="33.00" height="1.10" fill="#fdd7cb" />
<rect x="582.70" y="68.30" width="32.70" height="1.10" fill="#fddad0" />
<rect x="550.00" y="69.30" width="33.00" height="1.10" fill="#fee6df" />
<rect x="582.70" y="69.30" width="32.70" height="1.10" fill="#feeae4" />
<rect x="550.00" y="70.30" width="33.00" height="1.10" fill="#fef0ea" />
<rect x="582.70" y="70.30" width="32.70" height="1.10" fill="#feede7" />
<rect x="550.00" y="71.30" width="33.00" height="1.60" fill="#fddacf" />
<rect x="582.70" y="71.30" width="32.70" height="1.60" fill="#fddbd1" />
<rect x="550.00" y="72.80" width="33.00" height="1.10" fill="#fde5de" />
<rect x="582.70" y="72.80" width="32.70" height="1.10" fill="#fde4dc" />
<rect x="550.00" y="73.80" width="33.00" height="1.60" fill="#fdd9ce" />
<rect x="582.70" y="73.80" width="32.70" height="1.60" fill="#fcd6ca" />
<rect x="550.00" y="75.30" width="33.00" height="1.60" fill="#fee7e0" />
<rect x="582.70" y="75.30" width="32.70" height="1.60" fill="#fee6df" />
<rect x="550.00" y="76.80" width="33.00" height="1.10" fill="#fdd9ce" />
<rect x="582.70" y="76.80" width="32.70" height="1.10" fill="#fcd5c9" />
<rect x="550.00" y="77.80" width="33.00" height="1.10" fill="#fde6de" />
<rect x="582.70" y="77.80" width="32.70" height="1.10" fill="#fee8e1" />
<rect x="550.00" y="78.80" width="33.00" height="1.60" fill="#fde3da" />
<rect x="582.70" y="78.80" width="32.70" height="1.60" fill="#fde2da" />
<rect x="550.00" y="80.30" width="33.00" height="1.10" fill="#fde4dc" />
<rect x="582.70" y="80.30" width="32.70" height="1.10" fill="#fee6df" />
<rect x="550.00" y="81.30" width="33.00" height="1.10" fill="#fde0d7" />
<rect x="582.70" y="81.30" width="32.70" height="1.10" fill="#fde3db" />
<rect x="550.00" y="82.30" width="33.00" height="2.10" fill="#fef2ee" />
<rect x="582.70" y="82.30" width="32.70" height="2.10" fill="#fef0eb" />
<rect x="550.00" y="84.30" width="33.00" height="1.10" fill="#fde5de" />
<rect x="582.70" y="84.30" width="32.70" height="1.10" fill="#fee7df" />
<rect x="550.00" y="85.30" width="33.00" height="1.60" fill="#fef2ed" />
<rect x="582.70" y="85.30" width="32.70" height="1.60" fill="#fef1ed" />
<rect x="550.00" y="86.80" width="33.00" height="1.60" fill="#fef0eb" />
<rect x="582.70" y="86.80" width="32.70" height="1.60" fill="#feede7" />
<rect x="550.00" y="88.30" width="33.00" height="1.10" fill="#fde0d7" />
<rect x="582.70" y="88.30" width="32.70" height="1.10" fill="#fdddd3" />
<rect x="550.00" y="89.30" width="33.00" height="1.10" fill="#fef3ef" />
<rect x="582.70" y="89.30" width="32.70" height="1.10" fill="#fef1ec" />
<rect x="550.00" y="90.30" width="33.00" height="1.60" fill="#fbc9ba" />
<rect x="582.70" y="90.30" width="32.70" height="1.60" fill="#fbc7b7" />
<rect x="550.00" y="91.80" width="33.00" height="1.10" fill="#fef2ed" />
<rect x="582.70" y="91.80" width="32.70" height="1.10" fill="#fef0eb" />
<rect x="550.00" y="92.80" width="33.00" height="1.10" fill="#fef2ee" />
<rect x="582.70" y="92.80" width="32.70" height="1.10" fill="#fef2ed" />
<rect x="550.00" y="93.80" width="33.00" height="2.10" fill="#fddcd2" />
<rect x="582.70" y="93.80" width="32.70" height="2.10" fill="#fddbd0" />
<rect x="550.00" y="95.80" width="33.00" height="1.10" fill="#fdd9ce" />
<rect x="582.70" y="95.80" width="32.70" height="1.10" fill="#fddcd2" />
<rect x="550.00" y="96.80" width="33.00" height="1.10" fill="#fde2da" />
<rect x="582.70" y="96.80" width="32.70" height="1.10" fill="#fddfd6" />
<rect x="550.00" y="97.80" width="33.00" height="1.60" fill="#feefea" />
<rect x="582.70" y="97.80" width="32.70" height="1.60" fill="#fef0eb" />
<rect x="550.00" y="99.30" width="33.00" height="1.60" fill="#fde5dd" />
<rect x="582.70" y="99.30" width="32.70" height="1.60" fill="#fee8e1" />
<rect x="550.00" y="100.80" width="33.00" height="1.10" fill="#feefea" />
<rect x="582.70" y="100.80" width="32.70" height="1.10" fill="#feeae3" />
<rect x="550.00" y="101.80" width="33.00" height="1.60" fill="#fdddd3" />
<rect x="582.70" y="101.80" width="32.70" height="1.60" fill="#fddfd6" />
<rect x="550.00" y="103.30" width="33.00" height="1.10" fill="#fef0eb" />
<rect x="582.70" y="103.30" width="32.70" height="1.10" fill="#feeee9" />
<rect x="550.00" y="104.30" width="33.00" height="1.10" fill="#fde2d9" />
<rect x="582.70" y="104.30" width="32.70" height="1.10" fill="#fdded4" />
<rect x="550.00" y="105.30" width="33.00" height="1.10" fill="#feede7" />
<rect x="582.70" y="105.30" width="32.70" height="1.10" fill="#fef1ec" />
<rect x="550.00" y="106.30" width="33.00" height="1.10" fill="#fef2ee" />
<rect x="582.70" y="106.30" width="32.70" height="1.10" fill="#fef3f0" />
<rect x="550.00" y="107.30" width="33.00" height="1.10" fill="#fde5dd" />
<rect x="582.70" y="107.30" width="32.70" height="1.10" fill="#fde4dc" />
<rect x="550.00" y="108.30" width="33.00" height="1.10" fill="#fee8e0" />
<rect x="582.70" y="108.30" width="32.70" height="1.10" fill="#fee8e1" />
<rect x="550.00" y="109.30" width="33.00" height="1.60" fill="#fddcd3" />
<rect x="582.70" y="109.30" width="32.70" height="1.60" fill="#fddad0" />
<rect x="550.00" y="110.80" width="33.00" height="1.60" fill="#fddad0" />
<rect x="582.70" y="110.80" width="32.70" height="1.60" fill="#fdddd3" />
<rect x="550.00" y="112.30" width="33.00" height="1.10" fill="#feede7" />
<rect x="582.70" y="112.30" width="32.70" height="1.10" fill="#fef0ea" />
<rect x="550.00" y="113.30" width="33.00" height="1.10" fill="#fdddd4" />
<rect x="582.70" y="113.30" width="32.70" height="1.10" fill="#fddfd6" />
<rect x="550.00" y="114.30" width="33.00" height="1.10" fill="#fde1d9" />
<rect x="582.70" y="114.30" width="32.70" height="1.10" fill="#fde5dd" />
<rect x="550.00" y="115.30" width="33.00" height="1.10" fill="#fee7e0" />
<rect x="582.70" y="115.30" width="32.70" height="1.10" fill="#fee7df" />
<rect x="550.00" y="116.30" width="33.00" height="1.60" fill="#fef1ec" />
<rect x="582.70" y="116.30" width="32.70" height="1.60" fill="#fef1ed" />
<rect x="550.00" y="117.80" width="33.00" height="1.10" fill="#fdd8cd" />
<rect x="582.70" y="117.80" width="32.70" height="1.10" fill="#fdd8cd" />
<rect x="550.00" y="118.80" width="33.00" height="1.10" fill="#fdd7cb" />
<rect x="582.70" y="118.80" width="32.70" height="1.10" fill="#fddcd2" />
<rect x="550.00" y="119.80" width="33.00" height="2.10" fill="#feece6" />
<rect x="582.70" y="119.80" width="32.70" height="2.10" fill="#feeae3" />
<rect x="550.00" y="121.80" width="33.00" height="1.60" fill="#fdddd4" />
<rect x="582.70" y="121.80" width="32.70" height="1.60" fill="#fde0d7" />
<rect x="550.00" y="123.30" width="33.00" height="1.60" fill="#fddcd2" />
<rect x="582.70" y="123.30" width="32.70" height="1.60" fill="#fdded5" />
<rect x="550.00" y="124.80" width="33.00" height="1.10" fill="#fde3db" />
<rect x="582.70" y="124.80" width="32.70" height="1.10" fill="#fde3db" />
<rect x="550.00" y="125.80" width="33.00" height="1.10" fill="#feece6" />
<rect x="582.70" y="125.80" width="32.70" height="1.10" fill="#feeee9" />
<rect x="550.00" y="126.80" width="33.00" height="1.60" fill="#fef1ed" />
<rect x="582.70" y="126.80" width="32.70" height="1.60" fill="#fef2ee" />
<rect x="550.00" y="128.30" width="33.00" height="2.10" fill="#feeee8" />
<rect x="582.70" y="128.30" width="32.70" height="2.10" fill="#feebe5" />
<rect x="550.00" y="130.30" width="33.00" height="1.10" fill="#fee8e1" />
<rect x="582.70" y="130.30" width="32.70" height="1.10" fill="#feede7" />
<rect x="550.00" y="131.30" width="33.00" height="1.60" fill="#fef0eb" />
<rect x="582.70" y="131.30" width="32.70" height="1.60" fill="#fef0eb" />
<rect x="550.00" y="132.80" width="33.00" height="1.10" fill="#fccfc1" />
<rect x="582.70" y="132.80" width="32.70" height="1.10" fill="#fcd3c6" />
<rect x="550.00" y="133.80" width="33.00" height="1.10" fill="#fde2da" />
<rect x="582.70" y="133.80" width="32.70" height="1.10" fill="#fddfd6" />
<rect x="550.00" y="134.80" width="33.00" height="0.30" fill="#fde0d7" />
<rect x="582.70" y="134.80" width="32.70" height="0.30" fill="#fde1d8" />
<rect x="550.00" y="138.90" width="33.00" height="1.10" fill="#fef3ef" />
<rect x="582.70" y="138.90" width="32.70" height="1.10" fill="#fef2ee" />
<rect x="550.00" y="139.90" width="33.00" height="2.10" fill="#fde1d9" />
<rect x="582.70" y="139.90" width="32.70" height="2.10" fill="#fde5dd" />
<rect x="550.00" y="141.90" width="33.00" height="1.60" fill="#feeee9" />
<rect x="582.70" y="141.90" width="32.70" height="1.60" fill="#fef1ed" />
<rect x="550.00" y="143.40" width="33.00" height="1.10" fill="#fef3ef" />
<rect x="582.70" y="143.40" width="32.70" height="1.10" fill="#fef1ec" />
<rect x="550.00" y="144.40" width="33.00" height="1.60" fill="#fef2ee" />
<rect x="582.70" y="144.40" width="32.70" height="1.60" fill="#fef4f0" />
<rect x="550.00" y="145.90" width="33.00" height="1.10" fill="#fef2ed" />
<rect x="582.70" y="145.90" width="32.70" height="1.10" fill="#fef3ef" />
<rect x="550.00" y="146.90" width="33.00" height="1.10" fill="#fde5dd" />
<rect x="582.70" y="146.90" width="32.70" height="1.10" fill="#fee9e3" />
<rect x="550.00" y="147.90" width="33.00" height="2.10" fill="#fef5f1" />
<rect x="582.70" y="147.90" width="32.70" height="2.10" fill="#fef3ef" />
<rect x="550.00" y="149.90" width="33.00" height="1.10" fill="#fef3ef" />
<rect x="582.70" y="149.90" width="32.70" height="1.10" fill="#fef2ee" />
<rect x="550.00" y="150.90" width="33.00" height="1.10" fill="#fde1d8" />
<rect x="582.70" y="150.90" width="32.70" height="1.10" fill="#fde1d8" />
<rect x="550.00" y="151.90" width="33.00" height="1.10" fill="#feece6" />
<rect x="582.70" y="151.90" width="32.70" height="1.10" fill="#feede7" />
<rect x="550.00" y="152.90" width="33.00" height="1.10" fill="#feebe5" />
<rect x="582.70" y="152.90" width="32.70" height="1.10" fill="#feece6" />
<rect x="550.00" y="153.90" width="33.00" height="1.60" fill="#feece6" />
<rect x="582.70" y="153.90" width="32.70" height="1.60" fill="#feebe4" />
<rect x="550.00" y="155.40" width="33.00" height="1.10" fill="#fde3db" />
<rect x="582.70" y="155.40" width="32.70" height="1.10" fill="#fde1d8" />
<rect x="550.00" y="156.40" width="33.00" height="1.10" fill="#feeae4" />
<rect x="582.70" y="156.40" width="32.70" height="1.10" fill="#fee8e1" />
<rect x="550.00" y="157.40" width="33.00" height="1.60" fill="#fee7e0" />
<rect x="582.70" y="157.40" width="32.70" height="1.60" fill="#fee7e0" />
<rect x="550.00" y="158.90" width="33.00" height="1.10" fill="#fde4dc" />
<rect x="582.70" y="158.90" width="32.70" height="1.10" fill="#fee6df" />
<rect x="550.00" y="159.90" width="33.00" height="1.60" fill="#fef5f1" />
<rect x="582.70" y="159.90" width="32.70" height="1.60" fill="#fef4f0" />
<rect x="550.00" y="161.40" width="33.00" height="0.60" fill="#fde6de" />
<rect x="582.70" y="161.40" width="32.70" height="0.60" fill="#fde2d9" />
<rect x="550.00" y="164.50" width="33.00" height="2.10" fill="#fee9e2" />
<rect x="582.70" y="164.50" width="32.70" height="2.10" fill="#feebe4" />
<rect x="550.00" y="166.50" width="33.00" height="1.10" fill="#feece6" />
<rect x="582.70" y="166.50" width="32.70" height="1.10" fill="#feede7" />
<rect x="550.00" y="167.50" width="33.00" height="1.10" fill="#feefea" />
<rect x="582.70" y="167.50" width="32.70" height="1.10" fill="#feebe5" />
<rect x="550.00" y="168.50" width="33.00" height="2.10" fill="#fef0eb" />
<rect x="582.70" y="168.50" width="32.70" height="2.10" fill="#fef1ec" />
<rect x="550.00" y="170.50" width="33.00" height="2.10" fill="#fef1ed" />
<rect x="582.70" y="170.50" width="32.70" height="2.10" fill="#feeee8" />
<rect x="550.00" y="172.50" width="33.00" height="1.10" fill="#fde4dc" />
<rect x="582.70" y="172.50" width="32.70" height="1.10" fill="#fde3da" />
<rect x="550.00" y="173.50" width="33.00" height="1.60" fill="#fef0ec" />
<rect x="582.70" y="173.50" width="32.70" height="1.60" fill="#feefea" />
<rect x="550.00" y="175.00" width="33.00" height="1.60" fill="#fef5f2" />
<rect x="582.70" y="175.00" width="32.70" height="1.60" fill="#fef3ef" />
<rect x="550.00" y="176.50" width="33.00" height="1.10" fill="#fef1ed" />
<rect x="582.70" y="176.50" width="32.70" height="1.10" fill="#fef3ef" />
<rect x="550.00" y="177.50" width="33.00" height="1.10" fill="#fef2ee" />
<rect x="582.70" y="177.50" width="32.70" height="1.10" fill="#fef5f1" />
<rect x="550.00" y="178.50" width="33.00" height="1.60" fill="#fef3ef" />
<rect x="582.70" y="178.50" width="32.70" height="1.60" fill="#fef5f2" />
<rect x="550.00" y="180.00" width="33.00" height="1.10" fill="#fef2ee" />
<rect x="582.70" y="180.00" width="32.70" height="1.10" fill="#fef1ec" />
<rect x="550.00" y="181.00" width="33.00" height="1.10" fill="#fef6f4" />
<rect x="582.70" y="181.00" width="32.70" height="1.10" fill="#fff8f6" />
<rect x="550.00" y="182.00" width="33.00" height="1.10" fill="#fef7f4" />
<rect x="582.70" y="182.00" width="32.70" height="1.10" fill="#fef5f2" />
<rect x="550.00" y="183.00" width="33.00" height="2.10" fill="#fef4f0" />
<rect x="582.70" y="183.00" width="32.70" height="2.10" fill="#fef6f3" />
<rect x="550.00" y="185.00" width="33.00" height="1.60" fill="#fef5f1" />
<rect x="582.70" y="185.00" width="32.70" height="1.60" fill="#fef3ef" />
<rect x="550.00" y="186.50" width="33.00" height="1.10" fill="#fef7f4" />
<rect x="582.70" y="186.50" width="32.70" height="1.10" fill="#fef4f1" />
<rect x="550.00" y="187.50" width="33.00" height="2.10" fill="#fef7f5" />
<rect x="582.70" y="187.50" width="32.70" height="2.10" fill="#fef6f3" />
<rect x="550.00" y="189.50" width="33.00" height="1.60" fill="#fef4f0" />
<rect x="582.70" y="189.50" width="32.70" height="1.60" fill="#fef6f3" />
<rect x="550.00" y="191.00" width="33.00" height="2.10" fill="#fef5f1" />
<rect x="582.70" y="191.00" width="32.70" height="2.10" fill="#fef6f3" />
<rect x="550.00" y="193.00" width="33.00" height="1.10" fill="#fffaf8" />
<rect x="582.70" y="193.00" width="32.70" height="1.10" fill="#fff9f7" />
<rect x="550.00" y="194.00" width="33.00" height="1.10" fill="#fef5f2" />
<rect x="582.70" y="194.00" width="32.70" height="1.10" fill="#fef5f2" />
<rect x="550.00" y="195.00" width="33.00" height="2.10" fill="#fff9f7" />
<rect x="582.70" y="195.00" width="32.70" height="2.10" fill="#fff8f5" />
<rect x="550.00" y="197.00" width="33.00" height="1.10" fill="#fffaf8" />
<rect x="582.70" y="197.00" width="32.70" height="1.10" fill="#fff9f7" />
<rect x="550.00" y="198.00" width="33.00" height="1.10" fill="#fffdfc" />
<rect x="582.70" y="198.00" width="32.70" height="1.10" fill="#fffcfb" />
<rect x="550.00" y="199.00" width="33.00" height="2.10" fill="#fffcfb" />
<rect x="582.70" y="199.00" width="32.70" height="2.10" fill="#fffaf9" />
<rect x="550.00" y="201.00" width="33.00" height="1.10" fill="#fffcfa" />
<rect x="582.70" y="201.00" width="32.70" height="1.10" fill="#fffefe" />
<rect x="550.00" y="202.00" width="33.00" height="1.60" fill="#fffaf8" />
<rect x="582.70" y="202.00" width="32.70" height="1.60" fill="#fffaf8" />
<rect x="550.00" y="203.50" width="33.00" height="1.10" fill="#fffefd" />
<rect x="582.70" y="203.50" width="32.70" height="1.10" fill="#fffdfc" />
<rect x="550.00" y="204.50" width="33.00" height="2.10" fill="#fff8f6" />
<rect x="582.70" y="204.50" width="32.70" height="2.10" fill="#fff9f7" />
<rect x="550.00" y="206.50" width="33.00" height="1.10" fill="#fffbfa" />
<rect x="582.70" y="206.50" width="32.70" height="1.10" fill="#fffcfc" />
<rect x="550.00" y="207.50" width="33.00" height="1.60" fill="#ffffff" />
<rect x="582.70" y="207.50" width="32.70" height="1.60" fill="#fffdfd" />
<rect x="550.00" y="209.00" width="33.00" height="1.10" fill="#fffbfa" />
<rect x="582.70" y="209.00" width="32.70" height="1.10" fill="#fffaf9" />
<rect x="550.00" y="210.00" width="33.00" height="1.10" fill="#fffcfb" />
<rect x="582.70" y="210.00" width="32.70" height="1.10" fill="#fffcfb" />
<rect x="550.00" y="211.00" width="33.00" height="2.10" fill="#fffefd" />
<rect x="582.70" y="211.00" width="32.70" height="2.10" fill="#fffcfb" />
<rect x="550.00" y="213.00" width="33.00" height="1.60" fill="#fffcfb" />
<rect x="582.70" y="213.00" width="32.70" height="1.60" fill="#fffffe" />
<rect x="550.00" y="214.50" width="33.00" height="2.10" fill="#ffffff" />
<rect x="582.70" y="214.50" width="32.70" height="2.10" fill="#ffffff" />
<rect x="550.00" y="216.50" width="33.00" height="1.10" fill="#ffffff" />
<rect x="582.70" y="216.50" width="32.70" height="1.10" fill="#fffdfc" />
<rect x="550.00" y="217.50" width="33.00" height="1.60" fill="#fffcfc" />
<rect x="582.70" y="217.50" width="32.70" height="1.60" fill="#fffbfa" />
<rect x="550.00" y="219.00" width="33.00" height="1.10" fill="#fffefd" />
<rect x="582.70" y="219.00" width="32.70" height="1.10" fill="#fffdfc" />
<rect x="550.00" y="220.00" width="33.00" height="1.10" fill="#fffaf9" />
<rect x="582.70" y="220.00" width="32.70" height="1.10" fill="#fffaf9" />
<rect x="550.00" y="221.00" width="33.00" height="1.10" fill="#ffffff" />
<rect x="582.70" y="221.00" width="32.70" height="1.10" fill="#ffffff" />
<rect x="550.00" y="222.00" width="33.00" height="1.10" fill="#fffefd" />
<rect x="582.70" y="222.00" width="32.70" height="1.10" fill="#fffcfb" />
<rect x="550.00" y="223.00" width="33.00" height="1.10" fill="#fffbf9" />
<rect x="582.70" y="223.00" width="32.70" height="1.10" fill="#fffcfb" />
<rect x="550.00" y="224.00" width="33.00" height="1.10" fill="#ffffff" />
<rect x="582.70" y="224.00" width="32.70" height="1.10" fill="#ffffff" />
<rect x="550.00" y="225.00" width="33.00" height="1.10" fill="#fffdfc" />
<rect x="582.70" y="225.00" width="32.70" height="1.10" fill="#ffffff" />
<rect x="550.00" y="226.00" width="33.00" height="2.10" fill="#fffdfd" />
<rect x="582.70" y="226.00" width="32.70" height="2.10" fill="#fff9f7" />
<rect x="550.00" y="228.00" width="33.00" height="1.60" fill="#fffbf9" />
<rect x="582.70" y="228.00" width="32.70" height="1.60" fill="#fffbfa" />
<rect x="550.00" y="229.50" width="33.00" height="1.10" fill="#fffdfc" />
<rect x="582.70" y="229.50" width="32.70" height="1.10" fill="#ffffff" />
<rect x="550.00" y="230.50" width="33.00" height="2.10" fill="#fffcfb" />
<rect x="582.70" y="230.50" width="32.70" height="2.10" fill="#fffcfb" />
<rect x="550.00" y="232.50" width="33.00" height="1.10" fill="#fffefd" />
<rect x="582.70" y="232.50" width="32.70" height="1.10" fill="#fffdfd" />
<rect x="550.00" y="233.50" width="33.00" height="1.10" fill="#fffdfd" />
<rect x="582.70" y="233.50" width="32.70" height="1.10" fill="#fffefe" />
<rect x="550.00" y="234.50" width="33.00" height="1.10" fill="#ffffff" />
<rect x="582.70" y="234.50" width="32.70" height="1.10" fill="#fffefe" />
<rect x="550.00" y="235.50" width="33.00" height="1.10" fill="#ffffff" />
<rect x="582.70" y="235.50" width="32.70" height="1.10" fill="#fffdfc" />
<rect x="550.00" y="236.50" width="33.00" height="2.10" fill="#fffcfb" />
<rect x="582.70" y="236.50" width="32.70" height="2.10" fill="#fffdfd" />
<rect x="550.00" y="238.50" width="33.00" height="1.10" fill="#ffffff" />
<rect x="582.70" y="238.50" width="32.70" height="1.10" fill="#ffffff" />
<rect x="550.00" y="239.50" width="33.00" height="1.60" fill="#fffcfb" />
<rect x="582.70" y="239.50" width="32.70" height="1.60" fill="#ffffff" />
<rect x="550.00" y="241.00" width="33.00" height="1.10" fill="#ffffff" />
<rect x="582.70" y="241.00" width="32.70" height="1.10" fill="#ffffff" />
<rect x="550.00" y="242.00" width="33.00" height="1.60" fill="#fffdfd" />
<rect x="582.70" y="242.00" width="32.70" height="1.60" fill="#ffffff" />
<rect x="550.00" y="243.50" width="33.00" height="1.10" fill="#fffefe" />
<rect x="582.70" y="243.50" width="32.70" height="1.10" fill="#fffefd" />
<rect x="550.00" y="244.50" width="33.00" height="1.10" fill="#fffefe" />
<rect x="582.70" y="244.50" width="32.70" height="1.10" fill="#fffefd" />
<rect x="550.00" y="245.50" width="33.00" height="2.10" fill="#fff9f8" />
<rect x="582.70" y="245.50" width="32.70" height="2.10" fill="#fffaf9" />
<rect x="550.00" y="247.50" width="33.00" height="1.60" fill="#ffffff" />
<rect x="582.70" y="247.50" width="32.70" height="1.60" fill="#fffdfd" />
<rect x="550.00" y="249.00" width="33.00" height="1.60" fill="#ffffff" />
<rect x="582.70" y="249.00" width="32.70" height="1.60" fill="#ffffff" />
<rect x="550.00" y="250.50" width="33.00" height="1.60" fill="#ffffff" />
<rect x="582.70" y="250.50" width="32.70" height="1.60" fill="#ffffff" />
<rect x="550.00" y="252.00" width="33.00" height="1.10" fill="#fffefe" />
<rect x="582.70" y="252.00" width="32.70" height="1.10" fill="#fffefe" />
<rect x="550.00" y="253.00" width="33.00" height="1.10" fill="#fffdfc" />
<rect x="582.70" y="253.00" width="32.70" height="1.10" fill="#fffdfd" />
<rect x="550.00" y="254.00" width="33.00" height="2.10" fill="#fffefd" />
<rect x="582.70" y="254.00" width="32.70" height="2.10" fill="#fffefd" />
<rect x="550.00" y="256.00" width="33.00" height="1.10" fill="#ffffff" />
<rect x="582.70" y="256.00" width="32.70" height="1.10" fill="#ffffff" />
<rect x="550.00" y="257.00" width="33.00" height="1.60" fill="#ffffff" />
<rect x="582.70" y="257.00" width="32.70" height="1.60" fill="#fffdfc" />
<rect x="550.00" y="258.50" width="33.00" height="1.10" fill="#ffffff" />
<rect x="582.70" y="258.50" width="32.70" height="1.10" fill="#ffffff" />
<rect x="550.00" y="259.50" width="33.00" height="2.10" fill="#fffcfb" />
<rect x="582.70" y="259.50" width="32.70" height="2.10" fill="#fffbfa" />
<rect x="550.00" y="261.50" width="33.00" height="1.10" fill="#fffefd" />
<rect x="582.70" y="261.50" width="32.70" height="1.10" fill="#ffffff" />
<rect x="550.00" y="262.50" width="33.00" height="2.10" fill="#fffaf8" />
<rect x="582.70" y="262.50" width="32.70" height="2.10" fill="#fff9f7" />
<rect x="550.00" y="264.50" width="33.00" height="1.10" fill="#fffcfb" />
<rect x="582.70" y="264.50" width="32.70" height="1.10" fill="#ffffff" />
<rect x="550.00" y="265.50" width="33.00" height="1.10" fill="#ffffff" />
<rect x="582.70" y="265.50" width="32.70" height="1.10" fill="#ffffff" />
<rect x="550.00" y="266.50" width="33.00" height="1.60" fill="#ffffff" />
<rect x="582.70" y="266.50" width="32.70" height="1.60" fill="#fffcfb" />
<rect x="550.00" y="268.00" width="33.00" height="1.60" fill="#fffbf9" />
<rect x="582.70" y="268.00" width="32.70" height="1.60" fill="#fffaf9" />
<rect x="550.00" y="269.50" width="33.00" height="1.60" fill="#fffbfa" />
<rect x="582.70" y="269.50" width="32.70" height="1.60" fill="#fffbfa" />
<rect x="550.00" y="271.00" width="33.00" height="1.10" fill="#fffdfc" />
<rect x="582.70" y="271.00" width="32.70" height="1.10" fill="#fffbf9" />
<rect x="550.00" y="272.00" width="33.00" height="1.60" fill="#fffcfb" />
<rect x="582.70" y="272.00" width="32.70" height="1.60" fill="#fffcfb" />
<rect x="550.00" y="273.50" width="33.00" height="1.10" fill="#ffffff" />
<rect x="582.70" y="273.50" width="32.70" height="1.10" fill="#fffefd" />
<rect x="550.00" y="274.50" width="33.00" height="1.10" fill="#fffbf9" />
<rect x="582.70" y="274.50" width="32.70" height="1.10" fill="#fffdfc" />
<rect x="550.00" y="275.50" width="33.00" height="1.60" fill="#fffefd" />
<rect x="582.70" y="275.50" width="32.70" height="1.60" fill="#fffefd" />
<rect x="550.00" y="277.00" width="33.00" height="1.60" fill="#fffbf9" />
<rect x="582.70" y="277.00" width="32.70" height="1.60" fill="#fffbfa" />
<rect x="550.00" y="278.50" width="33.00" height="1.10" fill="#fffbfa" />
<rect x="582.70" y="278.50" width="32.70" height="1.10" fill="#fffbf9" />
<rect x="550.00" y="279.50" width="33.00" height="1.10" fill="#fffbfa" />
<rect x="582.70" y="279.50" width="32.70" height="1.10" fill="#fffefd" />
<rect x="550.00" y="280.50" width="33.00" height="1.10" fill="#fffaf8" />
<rect x="582.70" y="280.50" width="32.70" height="1.10" fill="#fffbfa" />
<rect x="550.00" y="281.50" width="33.00" height="1.10" fill="#ffffff" />
<rect x="582.70" y="281.50" width="32.70" height="1.10" fill="#ffffff" />
<rect x="550.00" y="282.50" width="33.00" height="2.10" fill="#fffbfa" />
<rect x="582.70" y="282.50" width="32.70" height="2.10" fill="#fffefe" />
<rect x="550.00" y="284.50" width="33.00" height="1.10" fill="#fffefe" />
<rect x="582.70" y="284.50" width="32.70" height="1.10" fill="#fffcfa" />
<rect x="550.00" y="285.50" width="33.00" height="1.60" fill="#fffcfb" />
<rect x="582.70" y="285.50" width="32.70" height="1.60" fill="#fffefe" />
<rect x="550.00" y="287.00" width="33.00" height="1.60" fill="#ffffff" />
<rect x="582.70" y="287.00" width="32.70" height="1.60" fill="#ffffff" />
<rect x="550.00" y="288.50" width="33.00" height="1.10" fill="#fffbfa" />
<rect x="582.70" y="288.50" width="32.70" height="1.10" fill="#fffcfa" />
<rect x="550.00" y="289.50" width="33.00" height="2.10" fill="#ffffff" />
<rect x="582.70" y="289.50" width="32.70" height="2.10" fill="#fffdfd" />
<rect x="550.00" y="291.50" width="33.00" height="1.10" fill="#fffcfb" />
<rect x="582.70" y="291.50" width="32.70" height="1.10" fill="#fffdfd" />
<rect x="550.00" y="292.50" width="33.00" height="2.10" fill="#fffefe" />
<rect x="582.70" y="292.50" width="32.70" height="2.10" fill="#fffefe" />
<rect x="550.00" y="294.50" width="33.00" height="2.10" fill="#fffdfd" />
<rect x="582.70" y="294.50" width="32.70" height="2.10" fill="#ffffff" />
<rect x="550.00" y="296.50" width="33.00" height="1.10" fill="#ffffff" />
<rect x="582.70" y="296.50" width="32.70" height="1.10" fill="#ffffff" />
<rect x="550.00" y="297.50" width="33.00" height="1.10" fill="#fffefd" />
<rect x="582.70" y="297.50" width="32.70" height="1.10" fill="#fffcfb" />
<rect x="550.00" y="298.50" width="33.00" height="1.60" fill="#ffffff" />
<rect x="582.70" y="298.50" width="32.70" height="1.60" fill="#ffffff" />
<rect x="550.00" y="300.00" width="33.00" height="1.60" fill="#ffffff" />
<rect x="582.70" y="300.00" width="32.70" height="1.60" fill="#fffcfb" />
<rect x="550.00" y="301.50" width="33.00" height="1.10" fill="#fffefd" />
<rect x="582.70" y="301.50" width="32.70" height="1.10" fill="#fffdfc" />
<rect x="550.00" y="302.50" width="33.00" height="1.10" fill="#ffffff" />
<rect x="582.70" y="302.50" width="32.70" height="1.10" fill="#ffffff" />
<rect x="550.00" y="303.50" width="33.00" height="1.60" fill="#fffefe" />
<rect x="582.70" y="303.50" width="32.70" height="1.60" fill="#ffffff" />
<rect x="550.00" y="305.00" width="33.00" height="1.60" fill="#fffbfa" />
<rect x="582.70" y="305.00" width="32.70" height="1.60" fill="#fffefe" />
<rect x="550.00" y="306.50" width="33.00" height="1.60" fill="#fffcfb" />
<rect x="582.70" y="306.50" width="32.70" height="1.60" fill="#fffaf8" />
<rect x="550.00" y="308.00" width="33.00" height="2.10" fill="#ffffff" />
<rect x="582.70" y="308.00" width="32.70" height="2.10" fill="#ffffff" />
<rect x="550.00" y="310.00" width="33.00" height="1.60" fill="#fffdfd" />
<rect x="582.70" y="310.00" width="32.70" height="1.60" fill="#fffdfd" />
<rect x="550.00" y="311.50" width="33.00" height="1.10" fill="#fffdfc" />
<rect x="582.70" y="311.50" width="32.70" height="1.10" fill="#ffffff" />
<rect x="550.00" y="312.50" width="33.00" height="1.10" fill="#ffffff" />
<rect x="582.70" y="312.50" width="32.70" height="1.10" fill="#ffffff" />
<rect x="550.00" y="313.50" width="33.00" height="1.60" fill="#fffdfd" />
<rect x="582.70" y="313.50" width="32.70" height="1.60" fill="#ffffff" />
<rect x="550.00" y="315.00" width="33.00" height="1.10" fill="#fffcfc" />
<rect x="582.70" y="315.00" width="32.70" height="1.10" fill="#ffffff" />
<rect x="550.00" y="316.00" width="33.00" height="1.10" fill="#fff9f6" />
<rect x="582.70" y="316.00" width="32.70" height="1.10" fill="#fffaf9" />
<rect x="550.00" y="317.00" width="33.00" height="2.10" fill="#fffdfc" />
<rect x="582.70" y="317.00" width="32.70" height="2.10" fill="#fffefe" />
<rect x="550.00" y="319.00" width="33.00" height="1.10" fill="#fffcfc" />
<rect x="582.70" y="319.00" width="32.70" height="1.10" fill="#fffbfa" />
<rect x="550.00" y="320.00" width="33.00" height="1.10" fill="#fffffe" />
<rect x="582.70" y="320.00" width="32.70" height="1.10" fill="#fffefe" />
<rect x="550.00" y="321.00" width="33.00" height="1.10" fill="#ffffff" />
<rect x="582.70" y="321.00" width="32.70" height="1.10" fill="#fffdfd" />
<rect x="550.00" y="322.00" width="33.00" height="2.10" fill="#fffefe" />
<rect x="582.70" y="322.00" width="32.70" height="2.10" fill="#fffefd" />
<rect x="550.00" y="324.00" width="33.00" height="2.10" fill="#ffffff" />
<rect x="582.70" y="324.00" width="32.70" height="2.10" fill="#ffffff" />
<rect x="550.00" y="326.00" width="33.00" height="1.10" fill="#fffefe" />
<rect x="582.70" y="326.00" width="32.70" height="1.10" fill="#ffffff" />
<rect x="550.00" y="327.00" width="33.00" height="2.10" fill="#fffbfa" />
<rect x="582.70" y="327.00" width="32.70" height="2.10" fill="#fffbfa" />
<rect x="550.00" y="329.00" width="33.00" height="1.60" fill="#fff9f7" />
<rect x="582.70" y="329.00" width="32.70" height="1.60" fill="#fff8f6" />
<rect x="550.00" y="330.50" width="33.00" height="1.60" fill="#ffffff" />
<rect x="582.70" y="330.50" width="32.70" height="1.60" fill="#fffdfd" />
<rect x="550.00" y="332.00" width="33.00" height="1.10" fill="#ffffff" />
<rect x="582.70" y="332.00" width="32.70" height="1.10" fill="#fffffe" />
<rect x="550.00" y="333.00" width="33.00" height="1.60" fill="#fffdfd" />
<rect x="582.70" y="333.00" width="32.70" height="1.60" fill="#fffffe" />
<rect x="550.00" y="334.50" width="33.00" height="1.60" fill="#fffbfa" />
<rect x="582.70" y="334.50" width="32.70" height="1.60" fill="#fffefd" />
<rect x="550.00" y="336.00" width="33.00" height="2.10" fill="#fffdfc" />
<rect x="582.70" y="336.00" width="32.70" height="2.10" fill="#fffdfc" />
<rect x="550.00" y="338.00" width="33.00" height="1.00" fill="#ffffff" />
<rect x="582.70" y="338.00" width="32.70" height="1.00" fill="#ffffff" />
</g>
<line x1="545.20" y1="6.40" x2="545.20" y2="134.60" stroke="#2b2b2b" stroke-width="1.6" />
<line x1="545.20" y1="138.50" x2="545.20" y2="162.60" stroke="#2b2b2b" stroke-width="1.6" />
<line x1="545.20" y1="165.00" x2="545.20" y2="339.80" stroke="#2b2b2b" stroke-width="1.6" />
<line x1="566.60" y1="339.20" x2="566.60" y2="341.00" stroke="#555" stroke-width="0.8" />
<line x1="599.00" y1="339.20" x2="599.00" y2="341.00" stroke="#555" stroke-width="0.8" />
<text x="568.80" y="352.20" font-size="10.2" text-anchor="middle" stroke="#111" stroke-width="0.22" fill="#111" >MuSC</text>
<text x="566.80" y="364.20" font-size="10.2" text-anchor="middle" stroke="#111" stroke-width="0.22" fill="#111" >1</text>
<text x="602.00" y="352.20" font-size="10.2" text-anchor="middle" stroke="#111" stroke-width="0.22" fill="#111" >MuSC</text>
<text x="600.00" y="364.20" font-size="10.2" text-anchor="middle" stroke="#111" stroke-width="0.22" fill="#111" >2</text>
<text transform="translate(538.00,174.70) rotate(-90)" font-size="10.2" text-anchor="middle" stroke="#000" stroke-width="0.22" fill="#000">genes</text>
<text transform="translate(618.00,14.20) rotate(90)" font-size="10.3" text-anchor="start" stroke="#000" stroke-width="0.22" fill="#000">Cluster 1: RPM &gt; 5</text>
<text transform="translate(630.60,133.00) rotate(90)" font-size="10.2" text-anchor="start" stroke="#000" stroke-width="0.22" fill="#000">Cluster 2:</text>
<text transform="translate(618.20,131.20) rotate(90)" font-size="10.2" text-anchor="start" stroke="#000" stroke-width="0.22" fill="#000">1&lt;RPM&lt;5</text>
<text transform="translate(618.20,240.30) rotate(90)" font-size="10.2" text-anchor="start" stroke="#000" stroke-width="0.22" fill="#000">Cluster 3: RPM &lt;1</text>
<text x="640.70" y="17.20" font-size="10.2" text-anchor="start" stroke="#111" stroke-width="0.22" fill="#111" >CPM</text>
<text x="640.70" y="29.50" font-size="10.2" text-anchor="start" stroke="#111" stroke-width="0.22" fill="#111" >MuSC</text>
<text x="640.70" y="41.80" font-size="10.2" text-anchor="start" stroke="#111" stroke-width="0.22" fill="#111" >Cut &amp; Tag</text>
<rect x="642.50" y="45.40" width="18.00" height="95.00" fill="url(#gc)" />
<line x1="642.50" y1="59.70" x2="645.50" y2="59.70" stroke="#fff" stroke-width="0.9" />
<line x1="657.50" y1="59.70" x2="660.50" y2="59.70" stroke="#fff" stroke-width="0.9" />
<text x="663.20" y="63.20" font-size="10.2" text-anchor="start" stroke="#111" stroke-width="0.22" fill="#111" >60</text>
<line x1="642.50" y1="87.30" x2="645.50" y2="87.30" stroke="#fff" stroke-width="0.9" />
<line x1="657.50" y1="87.30" x2="660.50" y2="87.30" stroke="#fff" stroke-width="0.9" />
<text x="663.20" y="90.80" font-size="10.2" text-anchor="start" stroke="#111" stroke-width="0.22" fill="#111" >40</text>
<line x1="642.50" y1="115.30" x2="645.50" y2="115.30" stroke="#fff" stroke-width="0.9" />
<line x1="657.50" y1="115.30" x2="660.50" y2="115.30" stroke="#fff" stroke-width="0.9" />
<text x="663.20" y="118.80" font-size="10.2" text-anchor="start" stroke="#111" stroke-width="0.22" fill="#111" >20</text>
<text x="663.20" y="140.50" font-size="10.2" text-anchor="start" stroke="#111" stroke-width="0.22" fill="#111" >0</text>
<text x="35.30" y="378.10" font-size="14" text-anchor="start" stroke="#000" stroke-width="0.1" fill="#000" >d</text>
<rect x="44.00" y="384.40" width="190.20" height="161.40" fill="#f9f9f9" />
<path d="M127.40,401.00L127.40,401.00L127.90,388.87L128.40,387.33L128.90,386.81L129.40,395.30L129.90,389.10L130.40,386.52L130.90,387.94L131.40,386.77L131.90,390.07L132.40,391.82L132.90,392.18L133.40,393.36L133.90,395.43L134.40,395.69L134.90,394.61L135.40,394.21L135.90,395.35L136.40,395.68L136.90,393.79L137.40,393.11L137.90,391.87L138.40,394.20L138.90,396.41L139.40,394.85L139.90,393.08L140.40,391.17L140.90,391.76L141.40,392.83L141.90,391.11L142.40,389.85L142.90,389.58L143.40,389.98L143.90,390.69L144.00,401.00Z" fill="#c20606"/>
<path d="M148.50,401.00L148.50,401.00L149.00,388.48L149.50,388.92L150.00,389.31L150.40,401.00Z" fill="#c20606"/>
<path d="M158.00,401.00L158.00,401.00L158.50,390.58L159.00,390.57L159.50,390.18L160.00,390.39L160.50,389.71L161.00,390.60L161.50,391.11L162.00,391.98L162.50,392.31L163.00,393.45L163.50,392.73L164.00,393.57L164.50,394.59L165.00,395.29L165.50,395.82L166.00,395.99L166.50,396.87L167.00,401.00L167.00,401.00Z" fill="#c20606"/>
<line x1="44.00" y1="401.00" x2="234.20" y2="401.00" stroke="#e05252" stroke-width="1.0" />
<text x="46.40" y="394.00" font-size="10.6" text-anchor="start" stroke="#cf3a10" stroke-width="0.22" fill="#cf3a10" >MuSC1</text>
<text x="44.30" y="390.70" font-size="10.5" text-anchor="end" stroke="#111" stroke-width="0.22" fill="#111" >40</text>
<text x="44.30" y="400.70" font-size="10.5" text-anchor="end" stroke="#111" stroke-width="0.22" fill="#111" >0</text>
<path d="M127.40,417.95L127.40,417.95L127.90,404.57L128.40,404.60L128.90,404.01L129.40,412.34L129.90,405.73L130.40,404.95L130.90,404.01L131.40,404.04L131.90,406.09L132.40,408.98L132.90,408.31L133.40,410.20L133.90,412.59L134.40,412.18L134.90,411.18L135.40,411.44L135.90,412.99L136.40,412.59L136.90,410.82L137.40,409.86L137.90,408.64L138.40,411.02L138.90,413.65L139.40,411.15L139.90,409.46L140.40,407.96L140.90,408.44L141.40,410.13L141.90,408.01L142.40,406.70L142.90,407.32L143.40,406.38L143.90,406.56L144.00,417.95Z" fill="#c20606"/>
<path d="M148.50,417.95L148.50,417.95L149.00,405.58L149.50,405.64L150.00,405.74L150.40,417.95Z" fill="#c20606"/>
<path d="M158.00,417.95L158.00,417.95L158.50,408.51L159.00,407.65L159.50,406.56L160.00,407.88L160.50,407.18L161.00,407.64L161.50,409.13L162.00,408.55L162.50,409.36L163.00,410.02L163.50,410.70L164.00,410.07L164.50,410.88L165.00,412.23L165.50,412.22L166.00,413.52L166.50,414.07L167.00,417.95L167.00,417.95Z" fill="#c20606"/>
<line x1="44.00" y1="417.95" x2="234.20" y2="417.95" stroke="#e05252" stroke-width="1.0" />
<text x="46.40" y="410.95" font-size="10.6" text-anchor="start" stroke="#cf3a10" stroke-width="0.22" fill="#cf3a10" >MuSC2</text>
<text x="44.30" y="407.65" font-size="10.5" text-anchor="end" stroke="#111" stroke-width="0.22" fill="#111" >40</text>
<text x="44.30" y="417.65" font-size="10.5" text-anchor="end" stroke="#111" stroke-width="0.22" fill="#111" >0</text>
<path d="M127.40,434.90L127.40,434.90L127.90,422.69L128.40,419.99L128.90,419.73L129.40,429.48L129.90,421.54L130.40,421.18L130.90,419.84L131.40,420.59L131.90,424.58L132.40,425.75L132.90,425.29L133.40,426.81L133.90,429.65L134.40,429.26L134.90,427.99L135.40,428.36L135.90,429.63L136.40,429.63L136.90,427.11L137.40,426.45L137.90,426.65L138.40,429.12L138.90,430.32L139.40,428.22L139.90,425.49L140.40,423.99L140.90,426.74L141.40,426.35L141.90,424.42L142.40,425.41L142.90,423.74L143.40,423.33L143.90,424.31L144.00,434.90Z" fill="#c20606"/>
<path d="M148.50,434.90L148.50,434.90L149.00,422.38L149.50,422.98L150.00,422.92L150.40,434.90Z" fill="#c20606"/>
<path d="M158.00,434.90L158.00,434.90L158.50,425.36L159.00,424.29L159.50,423.83L160.00,423.89L160.50,424.46L161.00,425.06L161.50,425.07L162.00,426.09L162.50,426.27L163.00,427.27L163.50,427.59L164.00,427.77L164.50,428.25L165.00,429.27L165.50,429.94L166.00,430.30L166.50,431.19L167.00,434.90L167.00,434.90Z" fill="#c20606"/>
<line x1="44.00" y1="434.90" x2="234.20" y2="434.90" stroke="#e05252" stroke-width="1.0" />
<text x="46.40" y="427.90" font-size="10.6" text-anchor="start" stroke="#cf3a10" stroke-width="0.22" fill="#cf3a10" >MuSC3</text>
<text x="44.30" y="424.60" font-size="10.5" text-anchor="end" stroke="#111" stroke-width="0.22" fill="#111" >40</text>
<text x="44.30" y="434.60" font-size="10.5" text-anchor="end" stroke="#111" stroke-width="0.22" fill="#111" >0</text>
<path d="M114.00,451.85L114.00,451.85L114.50,451.32L115.00,451.24L115.50,451.16L116.00,450.87L116.50,450.37L117.00,449.93L117.50,449.42L118.00,449.41L118.50,448.62L119.00,448.40L119.50,447.69L120.00,448.21L120.50,447.86L121.00,447.83L121.50,448.66L122.00,448.87L122.50,449.10L123.00,450.07L123.50,450.31L124.00,450.95L124.50,450.86L125.00,451.26L125.50,451.16L126.00,451.61L126.50,451.81L126.60,451.85Z" fill="#0b93c8"/>
<path d="M137.80,451.85L137.80,451.85L138.30,451.04L138.80,450.29L139.30,449.41L139.80,448.90L140.30,447.80L140.80,447.28L141.30,447.13L141.80,447.07L142.30,445.85L142.80,445.51L143.30,445.70L143.80,445.46L144.30,445.52L144.80,446.38L145.30,446.81L145.80,445.03L146.30,446.02L146.80,446.32L147.30,445.82L147.80,445.44L148.30,446.32L148.80,446.16L149.30,446.03L149.80,446.04L150.30,446.97L150.80,445.88L151.30,447.05L151.80,447.30L152.30,447.11L152.80,446.51L153.30,446.19L153.80,446.60L154.30,445.72L154.80,447.04L155.30,447.95L155.80,447.49L156.30,447.30L156.80,445.47L157.30,445.04L157.80,444.39L158.30,444.45L158.80,442.11L159.30,442.81L159.80,443.76L160.30,442.70L160.80,442.30L161.30,442.30L161.80,443.12L162.30,441.81L162.80,442.49L163.30,442.71L163.80,441.83L164.30,441.96L164.80,442.79L165.30,443.23L165.80,444.11L166.30,443.50L166.80,443.23L167.30,442.16L167.80,443.34L168.30,442.22L168.80,441.33L169.30,441.04L169.80,441.82L170.30,443.86L170.80,443.72L171.30,443.92L171.80,443.61L172.30,444.56L172.80,444.23L173.30,445.35L173.80,445.21L174.30,445.06L174.80,445.77L175.30,445.48L175.80,445.12L176.30,446.35L176.80,445.90L177.30,446.67L177.80,446.92L178.30,447.03L178.80,448.17L179.30,450.37L179.70,451.85Z" fill="#0b93c8"/>
<path d="M181.70,451.85L181.70,451.85L182.20,450.66L182.70,449.31L183.20,448.04L183.70,447.71L184.20,446.99L184.70,446.98L185.20,446.13L185.70,445.69L186.20,445.92L186.70,445.63L187.20,446.10L187.70,445.69L188.20,445.14L188.70,445.98L189.20,445.91L189.70,445.92L190.20,446.35L190.70,445.82L191.20,445.31L191.70,445.10L192.20,446.35L192.70,445.49L193.20,445.82L193.70,444.09L194.20,445.52L194.70,444.60L195.20,444.00L195.70,445.59L196.20,444.44L196.70,445.28L197.20,444.16L197.70,445.20L198.20,445.74L198.70,444.29L199.20,445.60L199.70,446.21L200.20,447.21L200.70,448.44L201.20,447.66L201.70,448.66L202.20,448.43L202.70,447.03L203.20,448.25L203.70,447.40L204.20,447.02L204.70,447.04L205.20,446.31L205.70,447.74L206.20,448.41L206.70,448.16L207.20,449.17L207.70,449.63L208.20,449.26L208.70,450.26L209.20,450.91L209.70,451.20L210.20,451.68L210.40,451.85Z" fill="#0b93c8"/>
<line x1="44.00" y1="451.85" x2="234.20" y2="451.85" stroke="#4cb2de" stroke-width="1.0" />
<text x="46.40" y="444.85" font-size="10.6" text-anchor="start" stroke="#1b9fd8" stroke-width="0.22" fill="#1b9fd8" >MuSC1</text>
<text x="44.30" y="441.55" font-size="10.5" text-anchor="end" stroke="#111" stroke-width="0.22" fill="#111" >30</text>
<text x="44.30" y="451.55" font-size="10.5" text-anchor="end" stroke="#111" stroke-width="0.22" fill="#111" >0</text>
<path d="M114.30,468.80L114.30,468.80L114.80,468.57L115.30,468.24L115.80,468.00L116.30,467.74L116.80,467.32L117.30,467.05L117.80,466.25L118.30,466.28L118.80,465.31L119.30,465.22L119.80,464.96L120.30,464.63L120.80,463.95L121.30,464.55L121.80,464.80L122.30,465.51L122.80,466.29L123.30,466.76L123.80,467.28L124.30,467.63L124.80,467.88L125.30,468.19L125.80,468.23L126.30,468.54L126.80,468.76L126.90,468.80Z" fill="#0b93c8"/>
<path d="M137.80,468.80L137.80,468.80L138.30,467.85L138.80,467.11L139.30,466.08L139.80,465.51L140.30,464.15L140.80,463.61L141.30,464.10L141.80,463.45L142.30,462.56L142.80,462.23L143.30,462.20L143.80,463.01L144.30,462.89L144.80,463.16L145.30,462.56L145.80,463.19L146.30,462.86L146.80,463.24L147.30,463.53L147.80,462.12L148.30,462.41L148.80,462.40L149.30,463.09L149.80,463.65L150.30,463.43L150.80,462.89L151.30,463.91L151.80,463.49L152.30,462.81L152.80,463.90L153.30,463.51L153.80,463.33L154.30,463.29L154.80,464.47L155.30,463.79L155.80,464.04L156.30,463.59L156.80,463.06L157.30,461.71L157.80,461.60L158.30,459.47L158.80,460.80L159.30,460.73L159.80,459.77L160.30,460.27L160.80,459.33L161.30,460.43L161.80,459.37L162.30,460.13L162.80,457.65L163.30,458.99L163.80,458.92L164.30,459.00L164.80,460.13L165.30,459.40L165.80,460.53L166.30,457.76L166.80,459.67L167.30,460.50L167.80,459.48L168.30,457.69L168.80,458.67L169.30,459.47L169.80,459.51L170.30,460.05L170.80,460.95L171.30,461.34L171.80,459.94L172.30,461.49L172.80,461.39L173.30,460.89L173.80,461.27L174.30,461.86L174.80,461.48L175.30,462.68L175.80,461.62L176.30,461.75L176.80,463.10L177.30,463.11L177.80,462.48L178.30,463.12L178.80,464.94L179.30,467.12L179.70,468.80Z" fill="#0b93c8"/>
<path d="M181.70,468.80L181.70,468.80L182.20,467.62L182.70,465.90L183.20,465.51L183.70,464.56L184.20,464.26L184.70,463.26L185.20,462.87L185.70,462.87L186.20,463.13L186.70,463.36L187.20,462.85L187.70,463.41L188.20,463.06L188.70,463.27L189.20,463.24L189.70,462.64L190.20,462.32L190.70,462.74L191.20,462.15L191.70,462.66L192.20,463.25L192.70,462.80L193.20,463.02L193.70,462.39L194.20,462.64L194.70,462.68L195.20,461.86L195.70,461.23L196.20,461.55L196.70,462.52L197.20,460.98L197.70,461.20L198.20,461.01L198.70,462.59L199.20,462.82L199.70,463.15L200.20,464.10L200.70,464.65L201.20,465.23L201.70,465.52L202.20,464.79L202.70,465.27L203.20,464.57L203.70,464.10L204.20,464.09L204.70,463.80L205.20,464.36L205.70,463.95L206.20,464.85L206.70,465.14L207.20,465.73L207.70,466.73L208.20,467.01L208.70,467.22L209.20,467.86L209.70,468.29L210.20,468.59L210.40,468.80Z" fill="#0b93c8"/>
<line x1="44.00" y1="468.80" x2="234.20" y2="468.80" stroke="#4cb2de" stroke-width="1.0" />
<text x="46.40" y="461.80" font-size="10.6" text-anchor="start" stroke="#1b9fd8" stroke-width="0.22" fill="#1b9fd8" >MuSC2</text>
<text x="44.30" y="458.50" font-size="10.5" text-anchor="end" stroke="#111" stroke-width="0.22" fill="#111" >30</text>
<text x="44.30" y="468.50" font-size="10.5" text-anchor="end" stroke="#111" stroke-width="0.22" fill="#111" >0</text>
<line x1="44.00" y1="485.75" x2="234.20" y2="485.75" stroke="#4f9692" stroke-width="1.0" />
<text x="46.40" y="478.75" font-size="10.6" text-anchor="start" stroke="#15706c" stroke-width="0.22" fill="#15706c" >MuSC1</text>
<text x="44.30" y="475.45" font-size="10.5" text-anchor="end" stroke="#111" stroke-width="0.22" fill="#111" >30</text>
<text x="44.30" y="485.45" font-size="10.5" text-anchor="end" stroke="#111" stroke-width="0.22" fill="#111" >0</text>
<line x1="44.00" y1="502.70" x2="234.20" y2="502.70" stroke="#4f9692" stroke-width="1.0" />
<text x="46.40" y="495.70" font-size="10.6" text-anchor="start" stroke="#15706c" stroke-width="0.22" fill="#15706c" >MuSC2</text>
<text x="44.30" y="492.40" font-size="10.5" text-anchor="end" stroke="#111" stroke-width="0.22" fill="#111" >30</text>
<text x="44.30" y="502.40" font-size="10.5" text-anchor="end" stroke="#111" stroke-width="0.22" fill="#111" >0</text>
<path d="M139.90,519.65L139.90,519.65L140.40,518.73L140.90,516.49L141.40,517.46L141.90,517.04L142.40,516.29L142.90,515.77L143.40,516.45L143.90,516.53L144.40,515.56L144.90,515.34L145.40,515.84L145.90,515.78L146.40,515.61L146.90,514.95L147.40,514.68L147.90,515.30L148.40,516.02L148.90,514.04L149.40,514.92L149.90,513.93L150.40,515.61L150.90,513.18L151.40,513.68L151.90,514.29L152.40,515.69L152.90,513.66L153.40,515.46L153.90,514.79L154.40,514.72L154.90,515.05L155.40,515.31L155.90,515.61L156.40,514.61L156.90,515.04L157.40,514.73L157.90,515.24L158.40,513.72L158.90,513.50L159.40,510.33L159.90,509.95L160.40,510.71L160.90,511.08L161.40,512.68L161.90,513.98L162.40,514.59L162.90,514.04L163.40,514.43L163.90,515.16L164.40,514.68L164.90,515.45L165.40,515.90L165.90,515.50L166.40,514.96L166.90,515.37L167.40,515.51L167.90,516.19L168.40,515.88L168.90,514.86L169.40,516.25L169.90,516.30L170.40,516.81L170.90,516.26L171.40,514.91L171.90,516.23L172.40,515.17L172.90,515.59L173.40,516.34L173.90,516.55L174.40,516.87L174.90,516.77L175.40,517.54L175.90,517.21L176.40,518.23L176.90,518.22L177.40,518.10L177.90,518.83L178.40,517.88L178.90,519.26L179.40,519.50L179.70,519.65Z" fill="#ff9d9b"/>
<path d="M181.70,519.65L181.70,519.65L182.20,518.64L182.70,517.28L183.20,516.61L183.70,516.07L184.20,516.09L184.70,516.99L185.20,515.75L185.70,515.58L186.20,515.67L186.70,516.93L187.20,516.69L187.70,514.88L188.20,516.78L188.70,517.13L189.20,516.78L189.70,516.45L190.20,516.40L190.70,517.28L191.20,516.53L191.70,517.16L192.20,516.63L192.70,516.98L193.20,516.87L193.70,517.01L194.20,516.87L194.70,516.71L195.20,517.25L195.70,516.63L196.20,517.11L196.70,517.47L197.20,516.81L197.70,516.76L198.20,515.27L198.70,516.87L199.20,516.56L199.70,515.67L200.20,514.71L200.70,513.76L201.20,515.43L201.70,515.82L202.20,515.74L202.70,515.84L203.20,516.25L203.70,515.16L204.20,515.62L204.70,515.79L205.20,515.53L205.70,516.62L206.20,515.01L206.70,516.70L207.20,517.60L207.70,518.33L208.20,518.86L208.30,519.65Z" fill="#ff9d9b"/>
<path d="M44.00,519.65L44.00,519.65L44.50,519.20L45.00,519.30L45.18,519.65Z" fill="#ff9d9b"/>
<path d="M47.59,519.65L47.59,519.65L48.09,519.30L48.59,519.33L49.09,519.45L49.54,519.65Z" fill="#ff9d9b"/>
<path d="M77.33,519.65L77.33,519.65L77.83,518.70L78.33,519.08L78.82,519.65Z" fill="#ff9d9b"/>
<path d="M82.40,519.65L82.40,519.65L82.90,519.26L83.40,519.37L83.90,519.33L84.40,519.47L84.85,519.65Z" fill="#ff9d9b"/>
<path d="M89.90,519.65L89.90,519.65L90.40,519.06L90.90,519.24L91.40,519.32L91.61,519.65Z" fill="#ff9d9b"/>
<path d="M116.85,519.65L116.85,519.65L117.35,519.06L117.72,519.65Z" fill="#ff9d9b"/>
<path d="M133.61,519.65L133.61,519.65L134.11,519.08L134.39,519.65Z" fill="#ff9d9b"/>
<path d="M212.00,519.65L212.00,519.65L212.50,519.07L213.00,519.13L213.50,519.20L214.00,519.27L214.49,519.65Z" fill="#ff9d9b"/>
<path d="M221.07,519.65L221.07,519.65L221.57,518.91L222.07,519.16L222.57,519.28L223.07,519.23L223.57,519.52L223.65,519.65Z" fill="#ff9d9b"/>
<path d="M229.77,519.65L229.77,519.65L230.27,519.43L230.77,519.40L231.27,519.49L231.57,519.65Z" fill="#ff9d9b"/>
<line x1="44.00" y1="519.65" x2="234.20" y2="519.65" stroke="#ffa8a6" stroke-width="1.0" />
<text x="46.40" y="512.65" font-size="10.6" text-anchor="start" stroke="#ff9f9d" stroke-width="0.22" fill="#ff9f9d" >MuSC1</text>
<text x="44.30" y="509.35" font-size="10.5" text-anchor="end" stroke="#111" stroke-width="0.22" fill="#111" >30</text>
<text x="44.30" y="519.35" font-size="10.5" text-anchor="end" stroke="#111" stroke-width="0.22" fill="#111" >0</text>
<path d="M137.00,536.60L137.00,536.60L137.50,536.27L138.00,536.00L138.50,535.46L139.00,535.56L139.50,533.84L140.00,534.76L140.50,533.96L141.00,533.60L141.50,533.07L142.00,533.37L142.50,532.37L143.00,531.88L143.50,531.05L144.00,530.17L144.50,529.86L145.00,531.76L145.50,531.86L146.00,531.48L146.50,529.90L147.00,531.53L147.50,528.60L148.00,529.32L148.50,529.53L149.00,528.54L149.50,530.10L150.00,527.64L150.50,529.76L151.00,528.43L151.50,527.59L152.00,529.38L152.50,528.18L153.00,527.76L153.50,528.72L154.00,530.08L154.50,530.05L155.00,531.92L155.50,531.90L156.00,532.18L156.50,529.84L157.00,530.34L157.50,528.81L158.00,528.46L158.50,529.83L159.00,526.43L159.50,525.68L160.00,527.25L160.50,527.18L161.00,526.76L161.50,528.86L162.00,528.35L162.50,529.98L163.00,529.80L163.50,529.55L164.00,528.12L164.50,528.80L165.00,530.54L165.50,528.80L166.00,530.77L166.50,530.03L167.00,530.02L167.50,530.03L168.00,528.53L168.50,529.62L169.00,530.73L169.50,532.23L170.00,530.98L170.50,531.86L171.00,532.42L171.50,532.06L172.00,530.74L172.50,530.76L173.00,530.01L173.50,530.55L174.00,532.11L174.50,532.48L175.00,531.04L175.50,531.04L176.00,532.47L176.50,532.62L177.00,531.41L177.50,533.96L178.00,533.02L178.50,534.54L179.00,535.63L179.50,536.26L179.70,536.60Z" fill="#ff9d9b"/>
<path d="M181.70,536.60L181.70,536.60L182.20,535.68L182.70,534.93L183.20,533.21L183.70,533.54L184.20,532.09L184.70,532.78L185.20,531.89L185.70,529.80L186.20,531.28L186.70,530.28L187.20,531.12L187.70,531.40L188.20,531.69L188.70,529.58L189.20,530.74L189.70,531.19L190.20,531.81L190.70,530.52L191.20,531.15L191.70,530.73L192.20,530.68L192.70,530.70L193.20,531.41L193.70,530.91L194.20,531.27L194.70,531.65L195.20,531.82L195.70,530.50L196.20,528.46L196.70,529.25L197.20,531.42L197.70,529.24L198.20,530.49L198.70,530.74L199.20,528.40L199.70,531.72L200.20,531.38L200.70,530.16L201.20,531.27L201.70,531.92L202.20,532.52L202.70,530.51L203.20,532.06L203.70,533.09L204.20,531.94L204.70,532.26L205.20,532.11L205.70,533.02L206.20,533.54L206.70,533.61L207.20,533.59L207.70,533.44L208.20,534.14L208.70,532.92L209.20,533.71L209.70,534.01L210.20,534.45L210.70,535.16L211.20,535.91L211.70,536.29L212.00,536.60Z" fill="#ff9d9b"/>
<path d="M47.49,536.60L47.49,536.60L47.99,535.62L48.49,535.68L48.99,536.07L49.49,536.25L49.60,536.60Z" fill="#ff9d9b"/>
<path d="M50.11,536.60L50.11,536.60L50.61,535.84L51.11,535.73L51.61,535.76L52.11,536.42L52.17,536.60Z" fill="#ff9d9b"/>
<path d="M54.06,536.60L54.06,536.60L54.56,535.90L55.06,536.06L55.56,536.17L55.95,536.60Z" fill="#ff9d9b"/>
<path d="M57.34,536.60L57.34,536.60L57.84,535.75L58.34,536.17L58.78,536.60Z" fill="#ff9d9b"/>
<path d="M72.88,536.60L72.88,536.60L73.38,536.15L73.88,536.23L74.38,536.20L74.88,536.25L75.30,536.60Z" fill="#ff9d9b"/>
<path d="M77.87,536.60L77.87,536.60L78.37,535.98L78.87,535.93L79.37,536.00L79.87,536.20L80.34,536.60Z" fill="#ff9d9b"/>
<path d="M89.67,536.60L89.67,536.60L90.17,536.17L90.67,536.19L91.17,536.15L91.67,536.25L91.98,536.60Z" fill="#ff9d9b"/>
<path d="M93.31,536.60L93.31,536.60L93.81,536.00L94.31,536.02L94.81,536.30L95.31,536.33L95.59,536.60Z" fill="#ff9d9b"/>
<path d="M111.16,536.60L111.16,536.60L111.66,536.02L112.16,536.18L112.43,536.60Z" fill="#ff9d9b"/>
<path d="M121.25,536.60L121.25,536.60L121.75,535.69L122.25,535.85L122.75,535.93L123.25,536.03L123.75,536.60Z" fill="#ff9d9b"/>
<path d="M132.86,536.60L132.86,536.60L133.36,535.55L133.86,535.77L134.07,536.60Z" fill="#ff9d9b"/>
<path d="M226.39,536.60L226.39,536.60L226.89,536.11L227.19,536.60Z" fill="#ff9d9b"/>
<path d="M231.19,536.60L231.19,536.60L231.69,536.29L232.00,536.60Z" fill="#ff9d9b"/>
<path d="M232.54,536.60L232.54,536.60L233.04,535.89L233.54,535.79L234.04,535.58L234.54,536.02L235.04,536.24L235.19,536.60Z" fill="#ff9d9b"/>
<line x1="44.00" y1="536.60" x2="234.20" y2="536.60" stroke="#ffa8a6" stroke-width="1.0" />
<text x="46.40" y="529.60" font-size="10.6" text-anchor="start" stroke="#ff9f9d" stroke-width="0.22" fill="#ff9f9d" >MuSC2</text>
<text x="44.30" y="526.30" font-size="10.5" text-anchor="end" stroke="#111" stroke-width="0.22" fill="#111" >30</text>
<text x="44.30" y="536.30" font-size="10.5" text-anchor="end" stroke="#111" stroke-width="0.22" fill="#111" >0</text>
<text x="242.80" y="378.10" font-size="14" text-anchor="start" stroke="#000" stroke-width="0.1" fill="#000" >e</text>
<rect x="258.00" y="384.40" width="189.50" height="161.40" fill="#f9f9f9" />
<line x1="258.00" y1="400.40" x2="447.50" y2="400.40" stroke="#e05252" stroke-width="1.0" />
<text x="259.80" y="393.40" font-size="10.6" text-anchor="start" stroke="#cf3a10" stroke-width="0.22" fill="#cf3a10" >MuSC1</text>
<text x="257.30" y="390.10" font-size="10.5" text-anchor="end" stroke="#111" stroke-width="0.22" fill="#111" >15</text>
<text x="257.30" y="400.10" font-size="10.5" text-anchor="end" stroke="#111" stroke-width="0.22" fill="#111" >0</text>
<line x1="258.00" y1="417.35" x2="447.50" y2="417.35" stroke="#e05252" stroke-width="1.0" />
<text x="259.80" y="410.35" font-size="10.6" text-anchor="start" stroke="#cf3a10" stroke-width="0.22" fill="#cf3a10" >MuSC2</text>
<text x="257.30" y="407.05" font-size="10.5" text-anchor="end" stroke="#111" stroke-width="0.22" fill="#111" >15</text>
<text x="257.30" y="417.05" font-size="10.5" text-anchor="end" stroke="#111" stroke-width="0.22" fill="#111" >0</text>
<line x1="258.00" y1="434.30" x2="447.50" y2="434.30" stroke="#e05252" stroke-width="1.0" />
<text x="259.80" y="427.30" font-size="10.6" text-anchor="start" stroke="#cf3a10" stroke-width="0.22" fill="#cf3a10" >MuSC3</text>
<text x="257.30" y="424.00" font-size="10.5" text-anchor="end" stroke="#111" stroke-width="0.22" fill="#111" >15</text>
<text x="257.30" y="434.00" font-size="10.5" text-anchor="end" stroke="#111" stroke-width="0.22" fill="#111" >0</text>
<path d="M343.70,451.25L343.70,451.25L344.20,450.67L344.70,450.03L345.20,449.97L345.70,449.44L346.20,448.96L346.70,447.59L347.20,446.79L347.70,445.78L348.20,445.13L348.70,444.53L349.20,445.80L349.70,447.28L350.20,448.54L350.70,449.66L351.20,451.01L351.30,451.25Z" fill="#0b93c8"/>
<path d="M358.00,451.25L358.00,451.25L358.50,449.65L359.00,448.25L359.50,446.99L360.00,445.03L360.50,445.74L361.00,446.15L361.50,447.06L362.00,447.72L362.50,448.53L363.00,449.15L363.50,449.78L364.00,450.50L364.50,451.12L364.60,451.25Z" fill="#0b93c8"/>
<path d="M367.40,451.25L367.40,451.25L367.90,450.35L368.40,449.51L368.90,448.97L369.40,448.83L369.90,448.50L370.40,447.74L370.90,446.72L371.40,446.88L371.90,447.49L372.40,447.95L372.90,447.44L373.40,446.07L373.90,445.50L374.40,442.99L374.90,441.86L375.40,439.11L375.90,442.10L376.40,443.14L376.90,444.84L377.40,446.02L377.90,446.74L378.40,447.84L378.90,448.10L379.40,448.65L379.90,449.71L380.40,450.72L380.70,451.25Z" fill="#0b93c8"/>
<path d="M387.40,451.25L387.40,451.25L387.90,451.15L388.40,450.93L388.90,450.91L389.40,450.89L389.90,450.77L390.40,450.72L390.90,450.55L391.40,450.47L391.90,450.37L392.40,450.40L392.90,450.07L393.40,449.92L393.90,449.70L394.40,449.33L394.90,449.09L395.40,449.42L395.90,449.95L396.40,450.42L396.90,451.25L396.90,451.25Z" fill="#0b93c8"/>
<line x1="258.00" y1="451.25" x2="447.50" y2="451.25" stroke="#4cb2de" stroke-width="1.0" />
<text x="259.80" y="444.25" font-size="10.6" text-anchor="start" stroke="#1b9fd8" stroke-width="0.22" fill="#1b9fd8" >MuSC1</text>
<text x="257.30" y="440.95" font-size="10.5" text-anchor="end" stroke="#111" stroke-width="0.22" fill="#111" >15</text>
<text x="257.30" y="450.95" font-size="10.5" text-anchor="end" stroke="#111" stroke-width="0.22" fill="#111" >0</text>
<path d="M343.70,468.20L343.70,468.20L344.20,467.77L344.70,467.13L345.20,466.81L345.70,466.30L346.20,465.77L346.70,464.48L347.20,463.51L347.70,462.50L348.20,462.33L348.70,461.27L349.20,462.25L349.70,464.10L350.20,465.29L350.70,466.84L351.20,467.96L351.30,468.20Z" fill="#0b93c8"/>
<path d="M358.00,468.20L358.00,468.20L358.50,466.53L359.00,465.19L359.50,463.50L360.00,462.36L360.50,462.84L361.00,463.37L361.50,464.14L362.00,464.78L362.50,465.21L363.00,466.14L363.50,466.70L364.00,467.20L364.50,468.07L364.60,468.20Z" fill="#0b93c8"/>
<path d="M367.40,468.20L367.40,468.20L367.90,466.98L368.40,466.17L368.90,465.97L369.40,465.16L369.90,465.26L370.40,464.35L370.90,463.09L371.40,462.90L371.90,463.96L372.40,464.87L372.90,464.29L373.40,463.02L373.90,461.79L374.40,459.84L374.90,457.99L375.40,455.74L375.90,457.82L376.40,460.19L376.90,461.37L377.40,462.91L377.90,464.09L378.40,464.45L378.90,464.47L379.40,465.92L379.90,466.52L380.40,467.68L380.70,468.20Z" fill="#0b93c8"/>
<path d="M387.40,468.20L387.40,468.20L387.90,468.09L388.40,467.99L388.90,467.88L389.40,467.81L389.90,467.68L390.40,467.60L390.90,467.49L391.40,467.44L391.90,467.35L392.40,467.30L392.90,467.18L393.40,466.86L393.90,466.42L394.40,466.10L394.90,465.95L395.40,466.42L395.90,466.88L396.40,467.60L396.90,468.20L396.90,468.20Z" fill="#0b93c8"/>
<line x1="258.00" y1="468.20" x2="447.50" y2="468.20" stroke="#4cb2de" stroke-width="1.0" />
<text x="259.80" y="461.20" font-size="10.6" text-anchor="start" stroke="#1b9fd8" stroke-width="0.22" fill="#1b9fd8" >MuSC2</text>
<text x="257.30" y="457.90" font-size="10.5" text-anchor="end" stroke="#111" stroke-width="0.22" fill="#111" >15</text>
<text x="257.30" y="467.90" font-size="10.5" text-anchor="end" stroke="#111" stroke-width="0.22" fill="#111" >0</text>
<path d="M330.40,485.15L330.40,485.15L330.90,485.04L331.40,484.93L331.90,483.14L332.40,483.08L332.90,484.60L333.40,484.40L333.90,484.46L334.40,484.23L334.90,483.35L335.40,484.27L335.90,482.95L336.40,483.20L336.90,483.83L337.40,482.01L337.90,483.78L338.40,484.05L338.90,484.01L339.40,483.33L339.90,483.85L340.40,482.52L340.90,483.09L341.40,481.73L341.90,483.27L342.40,482.93L342.90,482.36L343.40,482.35L343.90,482.50L344.40,482.02L344.90,482.32L345.40,480.30L345.90,481.21L346.40,481.10L346.90,479.82L347.40,480.96L347.90,480.94L348.40,480.13L348.90,479.53L349.40,480.84L349.90,479.66L350.40,480.36L350.90,479.98L351.40,479.35L351.90,479.73L352.40,479.53L352.90,478.34L353.40,477.60L353.90,478.74L354.40,479.59L354.90,478.19L355.40,479.14L355.90,478.40L356.40,478.72L356.90,478.19L357.40,479.01L357.90,478.85L358.40,478.46L358.90,477.72L359.40,476.67L359.90,475.41L360.40,477.75L360.90,477.36L361.40,478.33L361.90,479.34L362.40,476.54L362.90,476.04L363.40,477.24L363.90,474.53L364.40,476.54L364.90,477.12L365.40,476.70L365.90,478.00L366.40,477.81L366.90,475.67L367.40,476.57L367.90,476.96L368.40,477.64L368.90,477.14L369.40,475.24L369.90,473.76L370.40,473.85L370.90,477.25L371.40,477.08L371.90,478.18L372.40,478.82L372.90,476.86L373.40,476.21L373.90,478.41L374.40,475.83L374.90,477.65L375.40,476.40L375.90,477.31L376.40,476.91L376.90,477.50L377.40,475.70L377.90,475.40L378.40,475.81L378.90,475.05L379.40,476.11L379.90,476.10L380.40,475.40L380.90,473.23L381.40,476.21L381.90,475.19L382.40,473.12L382.90,473.12L383.40,474.55L383.90,472.44L384.40,473.70L384.90,476.46L385.40,475.26L385.90,477.00L386.40,478.25L386.90,477.32L387.40,476.97L387.90,477.70L388.40,478.64L388.90,476.15L389.40,477.55L389.90,477.31L390.40,478.17L390.90,477.21L391.40,479.73L391.90,478.92L392.40,478.02L392.90,480.58L393.40,479.83L393.90,479.85L394.40,479.04L394.90,480.80L395.40,481.52L395.90,479.32L396.40,482.11L396.90,481.61L397.40,481.92L397.90,482.66L398.40,482.50L398.90,483.07L399.40,483.64L399.90,483.70L400.40,483.00L400.90,483.57L401.40,483.76L401.90,483.83L402.40,483.92L402.90,483.75L403.40,484.10L403.90,484.22L404.40,484.05L404.90,484.17L405.40,484.14L405.90,482.83L406.40,483.52L406.90,484.68L407.40,483.92L407.90,484.79L408.40,483.18L408.90,483.30L409.20,485.15Z" fill="#0b5f5b"/>
<line x1="258.00" y1="485.15" x2="447.50" y2="485.15" stroke="#4f9692" stroke-width="1.0" />
<text x="259.80" y="478.15" font-size="10.6" text-anchor="start" stroke="#15706c" stroke-width="0.22" fill="#15706c" >MuSC1</text>
<text x="257.30" y="474.85" font-size="10.5" text-anchor="end" stroke="#111" stroke-width="0.22" fill="#111" >30</text>
<text x="257.30" y="484.85" font-size="10.5" text-anchor="end" stroke="#111" stroke-width="0.22" fill="#111" >0</text>
<path d="M332.30,502.10L332.30,502.10L332.80,502.01L333.30,501.07L333.80,501.77L334.30,500.32L334.80,501.60L335.30,501.43L335.80,501.45L336.30,500.56L336.80,501.05L337.30,501.02L337.80,500.24L338.30,500.60L338.80,500.72L339.30,500.21L339.80,498.70L340.30,499.96L340.80,499.77L341.30,499.70L341.80,499.51L342.30,499.56L342.80,498.95L343.30,498.73L343.80,498.39L344.30,499.09L344.80,496.95L345.30,497.94L345.80,497.17L346.30,496.81L346.80,496.66L347.30,495.49L347.80,497.42L348.30,496.91L348.80,495.14L349.30,494.73L349.80,496.30L350.30,495.54L350.80,495.20L351.30,494.77L351.80,494.06L352.30,495.60L352.80,495.72L353.30,495.39L353.80,494.08L354.30,493.04L354.80,494.49L355.30,493.12L355.80,493.25L356.30,493.46L356.80,492.61L357.30,492.52L357.80,494.83L358.30,495.14L358.80,493.80L359.30,492.24L359.80,492.28L360.30,491.74L360.80,493.76L361.30,493.02L361.80,492.19L362.30,493.09L362.80,490.70L363.30,490.98L363.80,493.32L364.30,492.65L364.80,493.52L365.30,493.73L365.80,493.65L366.30,494.49L366.80,491.56L367.30,490.72L367.80,488.68L368.30,491.12L368.80,492.38L369.30,492.42L369.80,492.84L370.30,489.81L370.80,490.27L371.30,492.10L371.80,489.13L372.30,494.70L372.80,493.05L373.30,491.66L373.80,492.10L374.30,492.14L374.80,493.29L375.30,492.50L375.80,493.64L376.30,493.52L376.80,492.74L377.30,492.44L377.80,490.30L378.30,492.17L378.80,491.20L379.30,493.69L379.80,491.84L380.30,491.49L380.80,492.61L381.30,489.94L381.80,490.93L382.30,491.72L382.80,490.03L383.30,486.70L383.80,489.15L384.30,488.33L384.80,489.09L385.30,489.73L385.80,492.96L386.30,492.49L386.80,490.95L387.30,492.73L387.80,491.92L388.30,492.87L388.80,493.33L389.30,491.58L389.80,491.15L390.30,489.45L390.80,491.71L391.30,491.15L391.80,493.70L392.30,494.59L392.80,494.65L393.30,493.61L393.80,495.43L394.30,495.72L394.80,496.20L395.30,496.79L395.80,498.05L396.30,498.71L396.80,498.68L397.30,497.43L397.80,499.61L398.30,499.83L398.80,499.64L399.30,499.96L399.80,500.29L400.30,500.47L400.80,499.36L401.30,500.13L401.80,500.76L402.30,500.95L402.80,500.09L403.30,499.44L403.80,500.95L404.30,501.13L404.80,501.26L405.30,501.47L405.80,500.33L406.30,501.59L406.80,501.59L407.30,500.52L407.80,501.83L408.30,501.95L408.80,502.03L409.20,502.10Z" fill="#0b5f5b"/>
<line x1="258.00" y1="502.10" x2="447.50" y2="502.10" stroke="#4f9692" stroke-width="1.0" />
<text x="259.80" y="495.10" font-size="10.6" text-anchor="start" stroke="#15706c" stroke-width="0.22" fill="#15706c" >MuSC2</text>
<text x="257.30" y="491.80" font-size="10.5" text-anchor="end" stroke="#111" stroke-width="0.22" fill="#111" >30</text>
<text x="257.30" y="501.80" font-size="10.5" text-anchor="end" stroke="#111" stroke-width="0.22" fill="#111" >0</text>
<path d="M258.00,519.05L258.00,519.05L258.50,518.43L259.00,518.70L259.50,518.68L260.00,518.72L260.42,519.05Z" fill="#ff9d9b"/>
<path d="M265.57,519.05L265.57,519.05L266.07,518.13L266.57,518.16L267.07,518.50L267.23,519.05Z" fill="#ff9d9b"/>
<path d="M273.69,519.05L273.69,519.05L274.19,518.65L274.69,518.64L275.13,519.05Z" fill="#ff9d9b"/>
<path d="M278.49,519.05L278.49,519.05L278.99,518.56L279.49,518.57L279.99,518.90L280.07,519.05Z" fill="#ff9d9b"/>
<path d="M286.10,519.05L286.10,519.05L286.60,518.42L287.10,518.34L287.60,518.69L287.84,519.05Z" fill="#ff9d9b"/>
<path d="M292.33,519.05L292.33,519.05L292.83,518.61L293.33,518.66L293.83,518.77L294.33,518.79L294.83,519.03L294.86,519.05Z" fill="#ff9d9b"/>
<path d="M297.35,519.05L297.35,519.05L297.85,518.47L298.35,518.57L298.85,518.55L299.35,518.48L299.71,519.05Z" fill="#ff9d9b"/>
<path d="M312.62,519.05L312.62,519.05L313.12,517.79L313.62,518.33L314.12,518.65L314.23,519.05Z" fill="#ff9d9b"/>
<path d="M321.14,519.05L321.14,519.05L321.64,518.41L322.14,518.07L322.64,518.27L323.14,518.48L323.56,519.05Z" fill="#ff9d9b"/>
<path d="M329.49,519.05L329.49,519.05L329.99,518.23L330.49,518.66L330.59,519.05Z" fill="#ff9d9b"/>
<path d="M341.11,519.05L341.11,519.05L341.61,518.44L342.11,518.37L342.61,518.90L342.69,519.05Z" fill="#ff9d9b"/>
<path d="M344.82,519.05L344.82,519.05L345.32,517.65L345.82,518.09L346.25,519.05Z" fill="#ff9d9b"/>
<path d="M347.64,519.05L347.64,519.05L348.14,517.70L348.64,517.87L348.98,519.05Z" fill="#ff9d9b"/>
<path d="M350.74,519.05L350.74,519.05L351.24,518.43L351.74,518.30L352.24,518.34L352.74,518.42L353.15,519.05Z" fill="#ff9d9b"/>
<path d="M356.94,519.05L356.94,519.05L357.44,518.66L357.85,519.05Z" fill="#ff9d9b"/>
<path d="M359.69,519.05L359.69,519.05L360.19,518.56L360.69,518.56L361.19,518.63L361.69,518.61L362.11,519.05Z" fill="#ff9d9b"/>
<path d="M376.06,519.05L376.06,519.05L376.56,518.65L376.87,519.05Z" fill="#ff9d9b"/>
<path d="M378.94,519.05L378.94,519.05L379.44,518.31L379.94,518.33L380.19,519.05Z" fill="#ff9d9b"/>
<path d="M383.66,519.05L383.66,519.05L384.16,518.53L384.66,518.75L385.06,519.05Z" fill="#ff9d9b"/>
<path d="M385.80,519.05L385.80,519.05L386.30,517.92L386.80,518.60L386.93,519.05Z" fill="#ff9d9b"/>
<path d="M392.54,519.05L392.54,519.05L393.04,518.52L393.54,518.40L393.90,519.05Z" fill="#ff9d9b"/>
<path d="M403.24,519.05L403.24,519.05L403.74,518.30L403.98,519.05Z" fill="#ff9d9b"/>
<path d="M405.48,519.05L405.48,519.05L405.98,518.27L406.48,518.45L406.98,518.26L407.48,518.58L407.98,518.74L408.10,519.05Z" fill="#ff9d9b"/>
<path d="M408.48,519.05L408.48,519.05L408.98,518.38L409.48,518.46L409.98,518.88L410.06,519.05Z" fill="#ff9d9b"/>
<path d="M414.70,519.05L414.70,519.05L415.20,518.04L415.70,518.24L415.99,519.05Z" fill="#ff9d9b"/>
<path d="M416.58,519.05L416.58,519.05L417.08,518.73L417.58,518.84L417.84,519.05Z" fill="#ff9d9b"/>
<path d="M421.32,519.05L421.32,519.05L421.82,518.45L422.32,518.33L422.82,518.27L423.32,518.49L423.82,518.80L423.90,519.05Z" fill="#ff9d9b"/>
<path d="M431.40,519.05L431.40,519.05L431.90,518.29L432.40,518.51L432.89,519.05Z" fill="#ff9d9b"/>
<path d="M444.18,519.05L444.18,519.05L444.68,518.51L445.18,518.70L445.58,519.05Z" fill="#ff9d9b"/>
<line x1="258.00" y1="519.05" x2="447.50" y2="519.05" stroke="#ffa8a6" stroke-width="1.0" />
<text x="259.80" y="512.05" font-size="10.6" text-anchor="start" stroke="#ff9f9d" stroke-width="0.22" fill="#ff9f9d" >MuSC1</text>
<text x="257.30" y="508.75" font-size="10.5" text-anchor="end" stroke="#111" stroke-width="0.22" fill="#111" >15</text>
<text x="257.30" y="518.75" font-size="10.5" text-anchor="end" stroke="#111" stroke-width="0.22" fill="#111" >0</text>
<path d="M261.28,536.00L261.28,536.00L261.78,534.86L262.28,534.87L262.78,535.19L263.28,535.17L263.78,535.57L263.93,536.00Z" fill="#ff9d9b"/>
<path d="M289.19,536.00L289.19,536.00L289.69,535.25L290.19,535.24L290.69,535.40L290.96,536.00Z" fill="#ff9d9b"/>
<path d="M296.31,536.00L296.31,536.00L296.81,535.51L297.31,535.79L297.39,536.00Z" fill="#ff9d9b"/>
<path d="M300.13,536.00L300.13,536.00L300.63,535.25L301.03,536.00Z" fill="#ff9d9b"/>
<path d="M302.87,536.00L302.87,536.00L303.37,535.21L303.87,535.33L304.37,535.27L304.87,535.55L305.04,536.00Z" fill="#ff9d9b"/>
<path d="M306.37,536.00L306.37,536.00L306.87,535.70L307.37,535.69L307.87,535.86L308.00,536.00Z" fill="#ff9d9b"/>
<path d="M333.10,536.00L333.10,536.00L333.60,534.86L334.10,534.86L334.60,535.12L335.10,535.41L335.35,536.00Z" fill="#ff9d9b"/>
<path d="M343.90,536.00L343.90,536.00L344.40,535.41L344.69,536.00Z" fill="#ff9d9b"/>
<path d="M362.51,536.00L362.51,536.00L363.01,535.79L363.51,535.71L364.01,535.93L364.07,536.00Z" fill="#ff9d9b"/>
<path d="M364.42,536.00L364.42,536.00L364.92,535.37L365.42,535.53L365.66,536.00Z" fill="#ff9d9b"/>
<path d="M370.09,536.00L370.09,536.00L370.59,535.38L371.09,535.25L371.59,535.34L372.09,535.58L372.59,535.86L372.67,536.00Z" fill="#ff9d9b"/>
<path d="M378.95,536.00L378.95,536.00L379.45,535.34L379.66,536.00Z" fill="#ff9d9b"/>
<path d="M382.16,536.00L382.16,536.00L382.66,534.99L383.16,535.36L383.66,535.98L383.67,536.00Z" fill="#ff9d9b"/>
<path d="M384.94,536.00L384.94,536.00L385.44,535.23L385.94,535.60L386.14,536.00Z" fill="#ff9d9b"/>
<path d="M386.98,536.00L386.98,536.00L387.48,535.45L387.98,535.28L388.39,536.00Z" fill="#ff9d9b"/>
<path d="M401.04,536.00L401.04,536.00L401.54,535.18L402.04,535.36L402.54,535.53L402.75,536.00Z" fill="#ff9d9b"/>
<path d="M411.13,536.00L411.13,536.00L411.63,535.55L412.13,535.50L412.63,535.47L413.13,536.00L413.13,536.00Z" fill="#ff9d9b"/>
<path d="M415.99,536.00L415.99,536.00L416.49,534.76L416.99,535.23L417.49,535.00L417.99,535.18L418.49,535.84L418.55,536.00Z" fill="#ff9d9b"/>
<path d="M429.46,536.00L429.46,536.00L429.96,535.72L430.25,536.00Z" fill="#ff9d9b"/>
<path d="M435.67,536.00L435.67,536.00L436.17,535.10L436.67,535.39L437.06,536.00Z" fill="#ff9d9b"/>
<path d="M439.16,536.00L439.16,536.00L439.66,535.53L440.16,535.45L440.66,535.42L441.16,535.93L441.19,536.00Z" fill="#ff9d9b"/>
<path d="M444.82,536.00L444.82,536.00L445.32,535.07L445.82,535.32L446.32,535.41L446.82,535.66L447.03,536.00Z" fill="#ff9d9b"/>
<line x1="258.00" y1="536.00" x2="447.50" y2="536.00" stroke="#ffa8a6" stroke-width="1.0" />
<text x="259.80" y="529.00" font-size="10.6" text-anchor="start" stroke="#ff9f9d" stroke-width="0.22" fill="#ff9f9d" >MuSC2</text>
<text x="257.30" y="525.70" font-size="10.5" text-anchor="end" stroke="#111" stroke-width="0.22" fill="#111" >15</text>
<text x="257.30" y="535.70" font-size="10.5" text-anchor="end" stroke="#111" stroke-width="0.22" fill="#111" >0</text>
<text x="456.80" y="378.10" font-size="14" text-anchor="start" stroke="#000" stroke-width="0.1" fill="#000" >f</text>
<rect x="467.70" y="384.40" width="189.80" height="161.40" fill="#f9f9f9" />
<path d="M646.50,401.00L646.50,401.00L647.00,399.59L647.50,399.61L648.00,399.50L648.50,399.36L649.00,399.22L649.50,399.28L650.00,398.89L650.50,399.65L651.00,399.45L651.50,399.75L652.00,399.89L652.50,400.02L653.00,399.09L653.50,398.60L654.00,399.44L654.50,399.74L655.00,399.54L655.50,399.40L656.00,399.25L656.50,400.02L657.00,400.50L657.50,401.00L657.50,401.00Z" fill="#c20606"/>
<line x1="467.70" y1="401.00" x2="657.50" y2="401.00" stroke="#e05252" stroke-width="1.0" />
<text x="470.60" y="394.00" font-size="10.6" text-anchor="start" stroke="#cf3a10" stroke-width="0.22" fill="#cf3a10" >MuSC1</text>
<text x="467.30" y="390.70" font-size="10.5" text-anchor="end" stroke="#111" stroke-width="0.22" fill="#111" >10</text>
<text x="467.30" y="400.70" font-size="10.5" text-anchor="end" stroke="#111" stroke-width="0.22" fill="#111" >0</text>
<path d="M646.50,417.95L646.50,417.95L647.00,416.42L647.50,416.76L648.00,416.69L648.50,416.31L649.00,416.50L649.50,416.39L650.00,416.35L650.50,416.33L651.00,416.95L651.50,416.88L652.00,417.05L652.50,417.07L653.00,417.12L653.50,417.19L654.00,417.13L654.50,416.97L655.00,417.18L655.50,417.12L656.00,417.30L656.50,417.57L657.00,417.48L657.50,417.95L657.50,417.95Z" fill="#c20606"/>
<line x1="467.70" y1="417.95" x2="657.50" y2="417.95" stroke="#e05252" stroke-width="1.0" />
<text x="470.60" y="410.95" font-size="10.6" text-anchor="start" stroke="#cf3a10" stroke-width="0.22" fill="#cf3a10" >MuSC2</text>
<text x="467.30" y="407.65" font-size="10.5" text-anchor="end" stroke="#111" stroke-width="0.22" fill="#111" >10</text>
<text x="467.30" y="417.65" font-size="10.5" text-anchor="end" stroke="#111" stroke-width="0.22" fill="#111" >0</text>
<path d="M646.50,434.90L646.50,434.90L647.00,433.01L647.50,432.85L648.00,433.28L648.50,433.56L649.00,432.94L649.50,433.75L650.00,433.44L650.50,433.25L651.00,433.50L651.50,433.01L652.00,433.33L652.50,433.03L653.00,433.44L653.50,433.50L654.00,432.62L654.50,433.31L655.00,433.00L655.50,433.30L656.00,433.94L656.50,433.93L657.00,434.58L657.50,434.90L657.50,434.90Z" fill="#c20606"/>
<line x1="467.70" y1="434.90" x2="657.50" y2="434.90" stroke="#e05252" stroke-width="1.0" />
<text x="470.60" y="427.90" font-size="10.6" text-anchor="start" stroke="#cf3a10" stroke-width="0.22" fill="#cf3a10" >MuSC3</text>
<text x="467.30" y="424.60" font-size="10.5" text-anchor="end" stroke="#111" stroke-width="0.22" fill="#111" >10</text>
<text x="467.30" y="434.60" font-size="10.5" text-anchor="end" stroke="#111" stroke-width="0.22" fill="#111" >0</text>
<path d="M560.90,451.85L560.90,451.85L561.40,451.58L561.90,451.41L562.40,451.11L562.90,450.64L563.40,450.89L563.90,450.57L564.40,450.72L564.90,450.36L565.40,450.19L565.90,450.27L566.40,450.52L566.90,450.59L567.40,450.34L567.90,450.73L568.40,450.96L568.90,451.34L569.40,451.56L569.90,451.80L570.00,451.85Z" fill="#0b93c8"/>
<path d="M576.80,451.85L576.80,451.85L577.30,451.55L577.80,451.23L578.30,450.73L578.80,450.66L579.30,450.31L579.80,450.25L580.30,449.78L580.80,449.29L581.30,449.70L581.80,449.30L582.30,449.40L582.80,449.01L583.30,449.68L583.80,449.54L584.30,449.37L584.80,449.53L585.30,450.02L585.80,450.08L586.30,450.71L586.80,451.07L587.30,451.74L587.40,451.85Z" fill="#0b93c8"/>
<path d="M589.50,451.85L589.50,451.85L590.00,450.96L590.50,449.87L591.00,448.16L591.50,447.05L592.00,445.79L592.50,447.79L593.00,448.66L593.50,446.56L594.00,445.18L594.50,444.59L595.00,442.81L595.50,445.32L596.00,446.26L596.50,444.49L597.00,442.08L597.50,443.44L598.00,444.32L598.50,443.39L599.00,441.24L599.50,438.74L600.00,439.72L600.50,443.59L601.00,445.65L601.50,446.86L602.00,447.95L602.50,448.82L603.00,450.02L603.50,451.17L603.80,451.85Z" fill="#0b93c8"/>
<path d="M608.90,451.85L608.90,451.85L609.40,451.41L609.90,451.04L610.40,450.74L610.90,450.67L611.40,450.50L611.90,450.39L612.40,450.28L612.90,449.67L613.40,448.62L613.90,449.16L614.40,449.14L614.90,450.36L615.40,451.04L615.90,451.72L616.00,451.85Z" fill="#0b93c8"/>
<path d="M621.20,451.85L621.20,451.85L621.70,451.07L622.20,449.68L622.70,449.27L623.20,448.95L623.70,447.91L624.20,446.78L624.70,446.48L625.20,445.53L625.70,446.14L626.20,444.45L626.70,445.77L627.20,445.48L627.70,445.86L628.20,446.44L628.70,446.34L629.20,448.58L629.70,449.14L630.20,450.20L630.70,450.71L631.20,451.57L631.40,451.85Z" fill="#0b93c8"/>
<line x1="467.70" y1="451.85" x2="657.50" y2="451.85" stroke="#4cb2de" stroke-width="1.0" />
<text x="470.60" y="444.85" font-size="10.6" text-anchor="start" stroke="#1b9fd8" stroke-width="0.22" fill="#1b9fd8" >MuSC1</text>
<text x="467.30" y="441.55" font-size="10.5" text-anchor="end" stroke="#111" stroke-width="0.22" fill="#111" >10</text>
<text x="467.30" y="451.55" font-size="10.5" text-anchor="end" stroke="#111" stroke-width="0.22" fill="#111" >0</text>
<path d="M560.90,468.80L560.90,468.80L561.40,468.56L561.90,468.25L562.40,468.00L562.90,467.68L563.40,467.14L563.90,467.51L564.40,467.25L564.90,466.76L565.40,467.08L565.90,467.02L566.40,467.08L566.90,467.53L567.40,467.19L567.90,467.68L568.40,468.03L568.90,468.18L569.40,468.53L569.90,468.55L570.00,468.80Z" fill="#0b93c8"/>
<path d="M576.80,468.80L576.80,468.80L577.30,468.40L577.80,468.10L578.30,467.67L578.80,467.45L579.30,467.12L579.80,466.36L580.30,466.62L580.80,466.83L581.30,466.20L581.80,466.40L582.30,466.02L582.80,466.28L583.30,465.98L583.80,466.39L584.30,466.48L584.80,465.82L585.30,466.77L585.80,467.31L586.30,467.57L586.80,468.19L587.30,468.54L587.40,468.80Z" fill="#0b93c8"/>
<path d="M589.50,468.80L589.50,468.80L590.00,467.91L590.50,466.55L591.00,465.21L591.50,464.07L592.00,463.02L592.50,464.13L593.00,465.59L593.50,463.89L594.00,462.00L594.50,460.06L595.00,460.69L595.50,462.43L596.00,462.89L596.50,460.51L597.00,458.69L597.50,458.87L598.00,460.45L598.50,459.86L599.00,457.25L599.50,457.54L600.00,458.84L600.50,460.71L601.00,461.61L601.50,464.11L602.00,464.38L602.50,465.79L603.00,467.00L603.50,468.15L603.80,468.80Z" fill="#0b93c8"/>
<path d="M608.90,468.80L608.90,468.80L609.40,467.75L609.90,467.91L610.40,467.59L610.90,467.50L611.40,467.43L611.90,467.45L612.40,466.75L612.90,466.55L613.40,465.94L613.90,465.67L614.40,465.63L614.90,467.16L615.40,467.98L615.90,468.64L616.00,468.80Z" fill="#0b93c8"/>
<path d="M621.20,468.80L621.20,468.80L621.70,467.80L622.20,467.10L622.70,466.34L623.20,464.44L623.70,465.10L624.20,464.39L624.70,462.30L625.20,462.37L625.70,461.83L626.20,462.22L626.70,461.41L627.20,461.90L627.70,461.79L628.20,462.76L628.70,463.38L629.20,464.60L629.70,465.54L630.20,466.81L630.70,467.29L631.20,468.49L631.40,468.80Z" fill="#0b93c8"/>
<line x1="467.70" y1="468.80" x2="657.50" y2="468.80" stroke="#4cb2de" stroke-width="1.0" />
<text x="470.60" y="461.80" font-size="10.6" text-anchor="start" stroke="#1b9fd8" stroke-width="0.22" fill="#1b9fd8" >MuSC2</text>
<text x="467.30" y="458.50" font-size="10.5" text-anchor="end" stroke="#111" stroke-width="0.22" fill="#111" >10</text>
<text x="467.30" y="468.50" font-size="10.5" text-anchor="end" stroke="#111" stroke-width="0.22" fill="#111" >0</text>
<path d="M536.30,485.75L536.30,485.75L536.80,485.68L537.30,485.60L537.80,485.52L538.30,485.46L538.80,485.37L539.30,485.34L539.80,485.13L540.30,485.13L540.80,485.06L541.30,485.03L541.80,485.11L542.30,485.05L542.80,485.02L543.30,484.93L543.80,484.16L544.30,484.31L544.80,484.65L545.30,484.69L545.80,484.53L546.30,484.07L546.80,483.88L547.30,483.17L547.80,482.93L548.30,482.39L548.80,482.42L549.30,482.48L549.80,482.50L550.30,482.35L550.80,480.76L551.30,482.04L551.80,481.24L552.30,481.55L552.80,479.85L553.30,479.62L553.80,480.32L554.30,479.04L554.80,479.91L555.30,477.78L555.80,479.42L556.30,479.56L556.80,479.95L557.30,478.24L557.80,479.28L558.30,478.55L558.80,477.97L559.30,479.03L559.80,478.50L560.30,478.27L560.80,475.63L561.30,476.33L561.80,479.12L562.30,477.19L562.80,477.07L563.30,478.75L563.80,476.75L564.30,477.87L564.80,476.22L565.30,475.85L565.80,476.26L566.30,477.80L566.80,476.43L567.30,477.02L567.80,477.28L568.30,475.49L568.80,474.83L569.30,475.45L569.80,477.76L570.30,477.86L570.80,475.63L571.30,475.80L571.80,475.41L572.30,475.63L572.80,477.17L573.30,475.87L573.80,476.61L574.30,478.21L574.80,477.03L575.30,476.68L575.80,478.49L576.30,476.14L576.80,475.13L577.30,477.25L577.80,478.80L578.30,478.02L578.80,478.92L579.30,478.45L579.80,478.71L580.30,476.82L580.80,479.24L581.30,478.10L581.80,478.87L582.30,480.04L582.80,479.33L583.30,478.23L583.80,478.61L584.30,476.54L584.80,477.73L585.30,479.52L585.80,478.15L586.30,477.04L586.80,475.66L587.30,476.91L587.80,476.38L588.30,478.35L588.80,475.91L589.30,476.80L589.80,475.78L590.30,476.05L590.80,477.97L591.30,477.44L591.80,477.76L592.30,477.80L592.80,477.26L593.30,475.38L593.80,476.54L594.30,476.70L594.80,475.82L595.30,478.02L595.80,474.96L596.30,475.50L596.80,476.61L597.30,476.29L597.80,476.52L598.30,478.46L598.80,478.91L599.30,475.87L599.80,478.78L600.30,477.66L600.80,478.26L601.30,479.43L601.80,477.35L602.30,477.32L602.80,478.20L603.30,478.45L603.80,478.67L604.30,475.32L604.80,475.99L605.30,472.44L605.80,477.79L606.30,479.70L606.80,478.74L607.30,479.64L607.80,476.65L608.30,475.92L608.80,476.70L609.30,476.79L609.80,478.65L610.30,476.42L610.80,478.05L611.30,477.87L611.80,477.79L612.30,477.18L612.80,477.01L613.30,476.90L613.80,475.39L614.30,473.73L614.80,473.03L615.30,473.89L615.80,477.43L616.30,477.79L616.80,479.26L617.30,478.09L617.80,477.76L618.30,476.14L618.80,477.98L619.30,476.01L619.80,475.81L620.30,479.08L620.80,478.24L621.30,477.99L621.80,479.47L622.30,479.27L622.80,474.67L623.30,473.55L623.80,472.93L624.30,474.43L624.80,475.11L625.30,477.71L625.80,478.13L626.30,475.22L626.80,474.70L627.30,474.79L627.80,475.21L628.30,476.80L628.80,476.75L629.30,476.60L629.80,474.28L630.30,475.73L630.80,478.78L631.30,478.14L631.80,478.55L632.30,478.40L632.80,479.10L633.30,479.89L633.80,478.88L634.30,481.17L634.80,481.91L635.30,481.64L635.80,482.66L636.30,482.88L636.80,484.04L637.30,483.94L637.80,485.40L638.30,485.64L638.50,485.75Z" fill="#0b5f5b"/>
<line x1="467.70" y1="485.75" x2="657.50" y2="485.75" stroke="#4f9692" stroke-width="1.0" />
<text x="470.60" y="478.75" font-size="10.6" text-anchor="start" stroke="#15706c" stroke-width="0.22" fill="#15706c" >MuSC1</text>
<text x="467.30" y="475.45" font-size="10.5" text-anchor="end" stroke="#111" stroke-width="0.22" fill="#111" >30</text>
<text x="467.30" y="485.45" font-size="10.5" text-anchor="end" stroke="#111" stroke-width="0.22" fill="#111" >0</text>
<path d="M536.30,502.70L536.30,502.70L536.80,502.62L537.30,502.52L537.80,502.46L538.30,502.43L538.80,502.29L539.30,502.27L539.80,502.26L540.30,501.99L540.80,502.13L541.30,502.06L541.80,501.86L542.30,501.56L542.80,501.65L543.30,501.70L543.80,501.52L544.30,501.35L544.80,501.64L545.30,501.54L545.80,501.28L546.30,501.05L546.80,500.93L547.30,500.97L547.80,500.08L548.30,500.10L548.80,500.59L549.30,499.62L549.80,500.23L550.30,499.99L550.80,499.83L551.30,499.45L551.80,499.60L552.30,497.93L552.80,497.77L553.30,498.93L553.80,496.72L554.30,497.78L554.80,495.64L555.30,496.07L555.80,497.30L556.30,495.49L556.80,496.89L557.30,496.48L557.80,495.12L558.30,494.60L558.80,495.05L559.30,491.67L559.80,492.16L560.30,495.00L560.80,493.97L561.30,493.72L561.80,489.33L562.30,492.78L562.80,493.49L563.30,494.01L563.80,493.98L564.30,494.51L564.80,492.82L565.30,492.49L565.80,494.10L566.30,494.47L566.80,490.98L567.30,492.37L567.80,492.31L568.30,492.97L568.80,494.46L569.30,492.62L569.80,493.36L570.30,494.01L570.80,490.65L571.30,491.17L571.80,491.26L572.30,491.62L572.80,492.22L573.30,491.65L573.80,492.84L574.30,493.25L574.80,494.05L575.30,491.65L575.80,493.73L576.30,492.36L576.80,491.16L577.30,492.13L577.80,493.26L578.30,489.00L578.80,489.72L579.30,488.40L579.80,487.87L580.30,491.43L580.80,490.59L581.30,489.93L581.80,493.85L582.30,495.10L582.80,494.26L583.30,494.19L583.80,492.53L584.30,493.08L584.80,493.86L585.30,494.02L585.80,493.01L586.30,493.58L586.80,494.35L587.30,491.87L587.80,491.43L588.30,491.16L588.80,491.76L589.30,491.78L589.80,490.89L590.30,489.99L590.80,493.47L591.30,493.10L591.80,493.14L592.30,493.53L592.80,493.11L593.30,490.42L593.80,490.63L594.30,491.77L594.80,493.70L595.30,490.86L595.80,491.84L596.30,491.44L596.80,492.51L597.30,494.64L597.80,491.29L598.30,492.11L598.80,490.24L599.30,493.44L599.80,491.20L600.30,490.04L600.80,490.65L601.30,490.78L601.80,492.12L602.30,494.18L602.80,490.61L603.30,493.78L603.80,490.19L604.30,490.35L604.80,490.09L605.30,492.78L605.80,489.72L606.30,492.58L606.80,490.45L607.30,490.89L607.80,491.25L608.30,492.44L608.80,492.13L609.30,493.07L609.80,490.86L610.30,490.88L610.80,493.32L611.30,493.36L611.80,490.84L612.30,491.17L612.80,494.37L613.30,492.15L613.80,493.25L614.30,493.63L614.80,493.49L615.30,490.29L615.80,487.93L616.30,491.88L616.80,491.35L617.30,491.09L617.80,490.13L618.30,491.41L618.80,488.33L619.30,490.35L619.80,491.71L620.30,488.10L620.80,490.33L621.30,491.79L621.80,492.05L622.30,491.30L622.80,490.89L623.30,493.68L623.80,490.04L624.30,492.46L624.80,487.01L625.30,487.60L625.80,489.56L626.30,492.07L626.80,489.98L627.30,490.40L627.80,492.41L628.30,490.79L628.80,493.49L629.30,493.16L629.80,492.65L630.30,492.52L630.80,494.34L631.30,493.44L631.80,494.60L632.30,494.88L632.80,494.08L633.30,493.44L633.80,496.14L634.30,495.78L634.80,495.98L635.30,497.67L635.80,498.76L636.30,500.11L636.80,500.87L637.30,501.76L637.80,501.88L638.30,502.58L638.50,502.70Z" fill="#0b5f5b"/>
<line x1="467.70" y1="502.70" x2="657.50" y2="502.70" stroke="#4f9692" stroke-width="1.0" />
<text x="470.60" y="495.70" font-size="10.6" text-anchor="start" stroke="#15706c" stroke-width="0.22" fill="#15706c" >MuSC2</text>
<text x="467.30" y="492.40" font-size="10.5" text-anchor="end" stroke="#111" stroke-width="0.22" fill="#111" >30</text>
<text x="467.30" y="502.40" font-size="10.5" text-anchor="end" stroke="#111" stroke-width="0.22" fill="#111" >0</text>
<path d="M471.72,519.65L471.72,519.65L472.22,519.13L472.72,518.95L473.22,519.23L473.72,519.24L474.22,519.64L474.22,519.65Z" fill="#ff9d9b"/>
<path d="M474.64,519.65L474.64,519.65L475.14,518.99L475.55,519.65Z" fill="#ff9d9b"/>
<path d="M480.86,519.65L480.86,519.65L481.36,518.86L481.86,519.03L482.19,519.65Z" fill="#ff9d9b"/>
<path d="M493.48,519.65L493.48,519.65L493.98,518.61L494.48,518.81L494.75,519.65Z" fill="#ff9d9b"/>
<path d="M498.03,519.65L498.03,519.65L498.53,519.28L498.79,519.65Z" fill="#ff9d9b"/>
<path d="M506.31,519.65L506.31,519.65L506.81,519.18L507.22,519.65Z" fill="#ff9d9b"/>
<path d="M525.57,519.65L525.57,519.65L526.07,518.71L526.57,519.09L527.07,518.97L527.57,519.25L528.07,519.60L528.10,519.65Z" fill="#ff9d9b"/>
<path d="M531.52,519.65L531.52,519.65L532.02,518.92L532.52,519.30L532.63,519.65Z" fill="#ff9d9b"/>
<path d="M540.17,519.65L540.17,519.65L540.67,519.34L541.17,519.22L541.67,519.30L542.17,519.30L542.67,519.47L542.87,519.65Z" fill="#ff9d9b"/>
<path d="M545.53,519.65L545.53,519.65L546.03,518.63L546.53,518.92L547.03,518.84L547.23,519.65Z" fill="#ff9d9b"/>
<path d="M561.37,519.65L561.37,519.65L561.87,518.86L562.37,519.36L562.47,519.65Z" fill="#ff9d9b"/>
<path d="M562.95,519.65L562.95,519.65L563.45,519.38L563.95,519.40L564.22,519.65Z" fill="#ff9d9b"/>
<path d="M566.90,519.65L566.90,519.65L567.40,519.09L567.90,519.25L568.40,519.25L568.90,519.17L569.40,519.59L569.45,519.65Z" fill="#ff9d9b"/>
<path d="M572.16,519.65L572.16,519.65L572.66,519.25L573.16,519.22L573.49,519.65Z" fill="#ff9d9b"/>
<path d="M576.71,519.65L576.71,519.65L577.21,518.78L577.71,519.13L578.13,519.65Z" fill="#ff9d9b"/>
<path d="M579.51,519.65L579.51,519.65L580.01,519.21L580.51,519.25L580.79,519.65Z" fill="#ff9d9b"/>
<path d="M586.21,519.65L586.21,519.65L586.71,519.19L587.21,519.29L587.52,519.65Z" fill="#ff9d9b"/>
<path d="M588.25,519.65L588.25,519.65L588.75,518.87L589.25,519.17L589.75,519.22L590.25,519.24L590.56,519.65Z" fill="#ff9d9b"/>
<path d="M592.63,519.65L592.63,519.65L593.13,518.78L593.63,518.91L594.13,519.44L594.19,519.65Z" fill="#ff9d9b"/>
<path d="M596.83,519.65L596.83,519.65L597.33,518.31L597.83,517.86L598.33,518.24L598.83,518.45L599.33,518.65L599.53,519.65Z" fill="#ff9d9b"/>
<path d="M599.94,519.65L599.94,519.65L600.44,518.78L600.94,519.05L601.29,519.65Z" fill="#ff9d9b"/>
<path d="M617.45,519.65L617.45,519.65L617.95,518.97L618.45,518.92L618.95,519.15L619.45,519.24L619.74,519.65Z" fill="#ff9d9b"/>
<path d="M622.85,519.65L622.85,519.65L623.35,519.08L623.85,518.90L624.35,519.07L624.85,518.93L625.34,519.65Z" fill="#ff9d9b"/>
<path d="M625.67,519.65L625.67,519.65L626.17,518.92L626.67,519.11L626.86,519.65Z" fill="#ff9d9b"/>
<path d="M629.62,519.65L629.62,519.65L630.12,518.78L630.34,519.65Z" fill="#ff9d9b"/>
<path d="M633.26,519.65L633.26,519.65L633.76,519.30L634.26,519.48L634.60,519.65Z" fill="#ff9d9b"/>
<path d="M638.13,519.65L638.13,519.65L638.63,519.21L638.93,519.65Z" fill="#ff9d9b"/>
<path d="M641.48,519.65L641.48,519.65L641.98,518.84L642.48,518.81L642.94,519.65Z" fill="#ff9d9b"/>
<path d="M653.47,519.65L653.47,519.65L653.97,518.90L654.47,518.99L654.68,519.65Z" fill="#ff9d9b"/>
<path d="M656.82,519.65L656.82,519.65L657.32,519.16L657.82,519.15L658.32,519.29L658.82,519.41L659.01,519.65Z" fill="#ff9d9b"/>
<line x1="467.70" y1="519.65" x2="657.50" y2="519.65" stroke="#ffa8a6" stroke-width="1.0" />
<text x="470.60" y="512.65" font-size="10.6" text-anchor="start" stroke="#ff9f9d" stroke-width="0.22" fill="#ff9f9d" >MuSC1</text>
<text x="467.30" y="509.35" font-size="10.5" text-anchor="end" stroke="#111" stroke-width="0.22" fill="#111" >10</text>
<text x="467.30" y="519.35" font-size="10.5" text-anchor="end" stroke="#111" stroke-width="0.22" fill="#111" >0</text>
<path d="M467.70,536.60L467.70,536.60L468.20,535.80L468.70,536.39L468.78,536.60Z" fill="#ff9d9b"/>
<path d="M469.76,536.60L469.76,536.60L470.26,536.02L470.76,536.19L471.26,536.19L471.76,536.10L472.18,536.60Z" fill="#ff9d9b"/>
<path d="M478.98,536.60L478.98,536.60L479.48,535.99L479.98,535.69L480.48,535.84L480.98,536.05L481.27,536.60Z" fill="#ff9d9b"/>
<path d="M482.96,536.60L482.96,536.60L483.46,535.60L483.96,535.97L484.29,536.60Z" fill="#ff9d9b"/>
<path d="M486.09,536.60L486.09,536.60L486.59,536.03L487.09,536.15L487.59,536.17L488.09,536.53L488.13,536.60Z" fill="#ff9d9b"/>
<path d="M490.15,536.60L490.15,536.60L490.65,536.12L491.15,536.14L491.65,536.27L492.15,536.20L492.59,536.60Z" fill="#ff9d9b"/>
<path d="M496.08,536.60L496.08,536.60L496.58,535.62L497.08,536.50L497.11,536.60Z" fill="#ff9d9b"/>
<path d="M498.14,536.60L498.14,536.60L498.64,535.76L499.14,535.48L499.64,535.57L500.14,535.98L500.29,536.60Z" fill="#ff9d9b"/>
<path d="M509.45,536.60L509.45,536.60L509.95,535.41L510.45,535.60L510.95,536.00L511.45,536.33L511.51,536.60Z" fill="#ff9d9b"/>
<path d="M522.45,536.60L522.45,536.60L522.95,535.72L523.45,535.86L523.95,535.60L524.45,535.91L524.77,536.60Z" fill="#ff9d9b"/>
<path d="M525.33,536.60L525.33,536.60L525.83,536.29L526.33,536.30L526.83,536.30L527.33,536.32L527.83,536.50L527.91,536.60Z" fill="#ff9d9b"/>
<path d="M528.57,536.60L528.57,536.60L529.07,535.87L529.57,535.76L530.07,535.83L530.34,536.60Z" fill="#ff9d9b"/>
<path d="M536.54,536.60L536.54,536.60L537.04,536.08L537.36,536.60Z" fill="#ff9d9b"/>
<path d="M538.23,536.60L538.23,536.60L538.73,535.98L539.23,536.17L539.73,536.13L540.23,536.22L540.65,536.60Z" fill="#ff9d9b"/>
<path d="M541.70,536.60L541.70,536.60L542.20,535.38L542.70,535.67L543.20,535.85L543.47,536.60Z" fill="#ff9d9b"/>
<path d="M545.52,536.60L545.52,536.60L546.02,536.25L546.52,536.33L546.81,536.60Z" fill="#ff9d9b"/>
<path d="M560.31,536.60L560.31,536.60L560.81,535.87L561.31,535.80L561.81,535.98L562.31,536.19L562.52,536.60Z" fill="#ff9d9b"/>
<path d="M584.09,536.60L584.09,536.60L584.59,535.89L585.09,535.98L585.32,536.60Z" fill="#ff9d9b"/>
<path d="M592.64,536.60L592.64,536.60L593.14,533.09L593.64,534.08L594.14,535.53L594.28,536.60Z" fill="#ff9d9b"/>
<path d="M596.62,536.60L596.62,536.60L597.12,535.90L597.41,536.60Z" fill="#ff9d9b"/>
<path d="M604.06,536.60L604.06,536.60L604.56,535.99L605.06,536.04L605.56,536.11L606.06,536.19L606.56,536.48L606.62,536.60Z" fill="#ff9d9b"/>
<path d="M609.55,536.60L609.55,536.60L610.05,536.11L610.55,536.24L611.05,536.26L611.55,536.58L611.56,536.60Z" fill="#ff9d9b"/>
<path d="M613.51,536.60L613.51,536.60L614.01,535.59L614.51,535.81L615.01,535.98L615.51,535.95L616.01,536.60Z" fill="#ff9d9b"/>
<path d="M618.31,536.60L618.31,536.60L618.81,536.00L619.31,536.26L619.71,536.60Z" fill="#ff9d9b"/>
<path d="M622.44,536.60L622.44,536.60L622.94,535.96L623.19,536.60Z" fill="#ff9d9b"/>
<path d="M632.33,536.60L632.33,536.60L632.83,535.71L633.22,536.60Z" fill="#ff9d9b"/>
<path d="M636.90,536.60L636.90,536.60L637.40,536.00L637.90,536.35L638.11,536.60Z" fill="#ff9d9b"/>
<path d="M641.67,536.60L641.67,536.60L642.17,536.03L642.67,536.29L643.17,536.25L643.46,536.60Z" fill="#ff9d9b"/>
<path d="M645.80,536.60L645.80,536.60L646.30,535.97L646.54,536.60Z" fill="#ff9d9b"/>
<line x1="467.70" y1="536.60" x2="657.50" y2="536.60" stroke="#ffa8a6" stroke-width="1.0" />
<text x="470.60" y="529.60" font-size="10.6" text-anchor="start" stroke="#ff9f9d" stroke-width="0.22" fill="#ff9f9d" >MuSC2</text>
<text x="467.30" y="526.30" font-size="10.5" text-anchor="end" stroke="#111" stroke-width="0.22" fill="#111" >10</text>
<text x="467.30" y="536.30" font-size="10.5" text-anchor="end" stroke="#111" stroke-width="0.22" fill="#111" >0</text>
<line x1="28.50" y1="384.40" x2="28.50" y2="431.30" stroke="#222" stroke-width="1.2" />
<line x1="28.50" y1="433.20" x2="28.50" y2="466.30" stroke="#222" stroke-width="1.2" />
<line x1="28.50" y1="469.20" x2="28.50" y2="497.40" stroke="#222" stroke-width="1.2" />
<line x1="28.50" y1="503.30" x2="28.50" y2="536.30" stroke="#222" stroke-width="1.2" />
<text transform="translate(24.40,406.50) rotate(-90)" font-size="11.2" text-anchor="middle" stroke="#000" stroke-width="0.22" fill="#000">RNA-Seq</text>
<text transform="translate(22.20,447.80) rotate(-90)" font-size="11.2" text-anchor="middle" stroke="#000" stroke-width="0.22" fill="#000">(me3)</text>
<text transform="translate(22.20,485.50) rotate(-90)" font-size="11.2" text-anchor="middle" stroke="#000" stroke-width="0.22" fill="#000">(me3)</text>
<text transform="translate(23.00,522.60) rotate(-90)" font-size="11.2" text-anchor="middle" stroke="#000" stroke-width="0.22" fill="#000">ac</text>
<text transform="translate(8.50,485.80) rotate(-90)" font-size="11.2" text-anchor="middle" stroke="#000" stroke-width="0.22" fill="#000">H3K27 H3K27 H3K4</text>
<line x1="127.70" y1="550.30" x2="176.20" y2="550.30" stroke="#1a1aa8" stroke-width="0.9" />
<rect x="127.70" y="548.40" width="14.30" height="4.10" fill="#1a1aa8" />
<rect x="142.00" y="547.00" width="2.00" height="6.80" fill="#1a1aa8" />
<rect x="149.20" y="547.00" width="0.80" height="7.00" fill="#1a1aa8" />
<rect x="158.80" y="547.00" width="6.00" height="6.80" fill="#1a1aa8" />
<rect x="164.80" y="548.40" width="9.90" height="4.10" fill="#1a1aa8" />
<rect x="175.70" y="547.50" width="1.00" height="6.00" fill="#1a1aa8" />
<text x="164.80" y="563.70" font-size="10.4" text-anchor="middle" stroke="#1a1aa8" stroke-width="0.22" fill="#1a1aa8" >Myf5</text>
<line x1="374.30" y1="550.20" x2="399.30" y2="550.20" stroke="#1a1aa8" stroke-width="0.9" />
<rect x="374.60" y="548.60" width="0.90" height="3.40" fill="#1a1aa8" />
<rect x="376.90" y="547.00" width="1.10" height="6.60" fill="#1a1aa8" />
<rect x="378.50" y="547.00" width="1.10" height="6.60" fill="#1a1aa8" />
<rect x="380.00" y="547.00" width="1.10" height="6.60" fill="#1a1aa8" />
<rect x="386.00" y="547.00" width="1.10" height="6.60" fill="#1a1aa8" />
<rect x="392.00" y="547.00" width="1.10" height="6.60" fill="#1a1aa8" />
<rect x="393.30" y="547.00" width="1.10" height="6.60" fill="#1a1aa8" />
<rect x="395.00" y="547.40" width="4.30" height="6.00" fill="#1a1aa8" />
<text x="387.60" y="563.70" font-size="10.4" text-anchor="middle" stroke="#1a1aa8" stroke-width="0.22" fill="#1a1aa8" >Gata2</text>
<line x1="598.20" y1="550.70" x2="645.70" y2="550.70" stroke="#1a1aa8" stroke-width="0.9" />
<rect x="598.20" y="547.80" width="2.30" height="5.80" fill="#1a1aa8" />
<rect x="608.50" y="547.40" width="0.80" height="6.60" fill="#1a1aa8" />
<rect x="616.20" y="547.40" width="0.80" height="6.60" fill="#1a1aa8" />
<rect x="618.00" y="547.40" width="0.80" height="6.60" fill="#1a1aa8" />
<rect x="619.30" y="547.40" width="0.80" height="6.60" fill="#1a1aa8" />
<rect x="620.80" y="547.40" width="0.80" height="6.60" fill="#1a1aa8" />
<rect x="634.60" y="547.40" width="0.80" height="6.60" fill="#1a1aa8" />
<rect x="635.60" y="547.40" width="0.80" height="6.60" fill="#1a1aa8" />
<rect x="636.60" y="547.40" width="0.80" height="6.60" fill="#1a1aa8" />
<rect x="642.20" y="547.40" width="0.80" height="6.60" fill="#1a1aa8" />
<rect x="643.60" y="547.40" width="0.80" height="6.60" fill="#1a1aa8" />
<rect x="645.10" y="547.40" width="0.80" height="6.60" fill="#1a1aa8" />
<text x="597.20" y="563.70" font-size="10.4" text-anchor="start" stroke="#1a1aa8" stroke-width="0.22" fill="#1a1aa8" >Pax6</text>
<text x="20.60" y="569.90" font-size="14" text-anchor="start" stroke="#000" stroke-width="0.1" fill="#000" >g</text>
<rect x="56.90" y="572.30" width="187.30" height="193.50" fill="#ebebeb" />
<line x1="56.90" y1="735.29" x2="244.20" y2="735.29" stroke="#fafafa" stroke-width="0.6" />
<line x1="56.90" y1="691.46" x2="244.20" y2="691.46" stroke="#fafafa" stroke-width="0.6" />
<line x1="56.90" y1="647.64" x2="244.20" y2="647.64" stroke="#fafafa" stroke-width="0.6" />
<line x1="56.90" y1="603.81" x2="244.20" y2="603.81" stroke="#fafafa" stroke-width="0.6" />
<line x1="56.90" y1="757.20" x2="244.20" y2="757.20" stroke="#ffffff" stroke-width="1.2" />
<line x1="56.90" y1="713.38" x2="244.20" y2="713.38" stroke="#ffffff" stroke-width="1.2" />
<line x1="56.90" y1="669.55" x2="244.20" y2="669.55" stroke="#ffffff" stroke-width="1.2" />
<line x1="56.90" y1="625.73" x2="244.20" y2="625.73" stroke="#ffffff" stroke-width="1.2" />
<line x1="56.90" y1="581.90" x2="244.20" y2="581.90" stroke="#ffffff" stroke-width="1.2" />
<line x1="108.10" y1="572.30" x2="108.10" y2="765.80" stroke="#ffffff" stroke-width="1.2" />
<line x1="193.30" y1="572.30" x2="193.30" y2="765.80" stroke="#ffffff" stroke-width="1.2" />
<rect x="69.90" y="700.23" width="76.40" height="56.97" fill="#f8766d" />
<rect x="155.00" y="649.22" width="76.60" height="107.98" fill="#00bfc4" />
<line x1="99.60" y1="699.40" x2="116.60" y2="699.40" stroke="#111" stroke-width="1.6" />
<line x1="99.60" y1="701.40" x2="116.60" y2="701.40" stroke="#111" stroke-width="1.8" />
<line x1="108.10" y1="698.40" x2="108.10" y2="702.40" stroke="#111" stroke-width="1.6" />
<line x1="184.90" y1="648.30" x2="201.70" y2="648.30" stroke="#111" stroke-width="1.6" />
<line x1="184.90" y1="650.90" x2="201.70" y2="650.90" stroke="#111" stroke-width="1.8" />
<line x1="193.30" y1="647.30" x2="193.30" y2="651.90" stroke="#111" stroke-width="1.6" />
<path d="M108.1,584.6 V581.0 H193.3 V584.6" fill="none" stroke="#333" stroke-width="1"/>
<text x="151.60" y="578.80" font-size="10.1" text-anchor="middle" stroke="#1a1a1a" stroke-width="0.22" fill="#1a1a1a" >p= 0.003994</text>
<line x1="54.60" y1="581.90" x2="56.90" y2="581.90" stroke="#333" stroke-width="1" />
<text x="54.30" y="585.50" font-size="10.0" text-anchor="end" stroke="#333" stroke-width="0.22" fill="#333" >0.100</text>
<line x1="54.60" y1="625.73" x2="56.90" y2="625.73" stroke="#333" stroke-width="1" />
<text x="54.30" y="629.33" font-size="10.0" text-anchor="end" stroke="#333" stroke-width="0.22" fill="#333" >0.075</text>
<line x1="54.60" y1="669.55" x2="56.90" y2="669.55" stroke="#333" stroke-width="1" />
<text x="54.30" y="673.15" font-size="10.0" text-anchor="end" stroke="#333" stroke-width="0.22" fill="#333" >0.050</text>
<line x1="54.60" y1="713.38" x2="56.90" y2="713.38" stroke="#333" stroke-width="1" />
<text x="54.30" y="716.98" font-size="10.0" text-anchor="end" stroke="#333" stroke-width="0.22" fill="#333" >0.025</text>
<line x1="54.60" y1="757.20" x2="56.90" y2="757.20" stroke="#333" stroke-width="1" />
<text x="54.30" y="760.80" font-size="10.0" text-anchor="end" stroke="#333" stroke-width="0.22" fill="#333" >0.000</text>
<line x1="108.10" y1="765.80" x2="108.10" y2="768.00" stroke="#333" stroke-width="1" />
<line x1="193.30" y1="765.80" x2="193.30" y2="768.00" stroke="#333" stroke-width="1" />
<text x="108.10" y="775.00" font-size="11.0" text-anchor="middle" stroke="#333" stroke-width="0.22" fill="#333" >genome</text>
<text x="193.30" y="775.00" font-size="11.0" text-anchor="middle" stroke="#333" stroke-width="0.22" fill="#333" >peaks</text>
<text transform="translate(9.20,726.80) rotate(-90)" font-size="11.6" text-anchor="start" stroke="#1a1a1a" stroke-width="0.22" fill="#1a1a1a">Complete RE-1 Motif</text>
<text transform="translate(22.20,694.50) rotate(-90)" font-size="11.6" text-anchor="start" stroke="#1a1a1a" stroke-width="0.22" fill="#1a1a1a">per kilobase</text>
<text x="294.40" y="576.60" font-size="14" text-anchor="start" stroke="#000" stroke-width="0.1" fill="#000" >h</text>
<rect x="312.30" y="707.10" width="14.00" height="20.30" fill="#000" />
<rect x="326.30" y="707.30" width="13.60" height="20.10" fill="#000" />
<rect x="339.90" y="707.60" width="13.50" height="19.80" fill="#000" />
<rect x="353.40" y="713.90" width="14.00" height="13.50" fill="#000" />
<rect x="314.60" y="709.70" width="9.40" height="17.70" fill="#2e3192" />
<rect x="328.60" y="709.90" width="9.00" height="17.50" fill="#29abe2" />
<rect x="342.20" y="710.20" width="8.90" height="17.20" fill="#8dc63f" />
<rect x="355.70" y="716.50" width="9.40" height="10.90" fill="#fbb040" />
<rect x="374.00" y="628.90" width="14.00" height="98.50" fill="#000" />
<rect x="388.00" y="631.50" width="13.70" height="95.90" fill="#000" />
<rect x="401.70" y="633.30" width="13.50" height="94.10" fill="#000" />
<rect x="415.20" y="654.50" width="13.10" height="72.90" fill="#000" />
<rect x="376.30" y="631.50" width="9.40" height="95.90" fill="#2e3192" />
<rect x="390.30" y="634.10" width="9.10" height="93.30" fill="#29abe2" />
<rect x="404.00" y="635.90" width="8.90" height="91.50" fill="#8dc63f" />
<rect x="417.50" y="657.10" width="8.50" height="70.30" fill="#fbb040" />
<rect x="435.30" y="621.80" width="13.40" height="105.60" fill="#000" />
<rect x="448.70" y="631.70" width="13.00" height="95.70" fill="#000" />
<rect x="461.70" y="625.30" width="14.30" height="102.10" fill="#000" />
<rect x="476.00" y="652.60" width="13.60" height="74.80" fill="#000" />
<rect x="437.60" y="624.40" width="8.80" height="103.00" fill="#2e3192" />
<rect x="451.00" y="634.30" width="8.40" height="93.10" fill="#29abe2" />
<rect x="464.00" y="627.90" width="9.70" height="99.50" fill="#8dc63f" />
<rect x="478.30" y="655.20" width="9.00" height="72.20" fill="#fbb040" />
<line x1="306.30" y1="586.90" x2="306.30" y2="728.00" stroke="#000" stroke-width="2.0" />
<line x1="305.40" y1="727.00" x2="496.50" y2="727.00" stroke="#000" stroke-width="2.3" />
<line x1="300.40" y1="727.40" x2="306.30" y2="727.40" stroke="#000" stroke-width="1.8" />
<text x="298.40" y="731.20" font-size="10.6" text-anchor="end" stroke="#111" stroke-width="0.22" fill="#111" >0</text>
<line x1="300.40" y1="692.50" x2="306.30" y2="692.50" stroke="#000" stroke-width="1.8" />
<text x="298.40" y="696.30" font-size="10.6" text-anchor="end" stroke="#111" stroke-width="0.22" fill="#111" >20</text>
<line x1="300.40" y1="657.60" x2="306.30" y2="657.60" stroke="#000" stroke-width="1.8" />
<text x="298.40" y="661.40" font-size="10.6" text-anchor="end" stroke="#111" stroke-width="0.22" fill="#111" >40</text>
<line x1="300.40" y1="622.70" x2="306.30" y2="622.70" stroke="#000" stroke-width="1.8" />
<text x="298.40" y="626.50" font-size="10.6" text-anchor="end" stroke="#111" stroke-width="0.22" fill="#111" >60</text>
<line x1="300.40" y1="587.80" x2="306.30" y2="587.80" stroke="#000" stroke-width="1.8" />
<text x="298.40" y="591.60" font-size="10.6" text-anchor="end" stroke="#111" stroke-width="0.22" fill="#111" >80</text>
<line x1="319.30" y1="726.90" x2="319.30" y2="733.00" stroke="#000" stroke-width="1.8" />
<line x1="333.10" y1="726.90" x2="333.10" y2="733.00" stroke="#000" stroke-width="1.8" />
<line x1="346.65" y1="726.90" x2="346.65" y2="733.00" stroke="#000" stroke-width="1.8" />
<line x1="360.40" y1="726.90" x2="360.40" y2="733.00" stroke="#000" stroke-width="1.8" />
<line x1="381.00" y1="726.90" x2="381.00" y2="733.00" stroke="#000" stroke-width="1.8" />
<line x1="394.85" y1="726.90" x2="394.85" y2="733.00" stroke="#000" stroke-width="1.8" />
<line x1="408.45" y1="726.90" x2="408.45" y2="733.00" stroke="#000" stroke-width="1.8" />
<line x1="421.75" y1="726.90" x2="421.75" y2="733.00" stroke="#000" stroke-width="1.8" />
<line x1="442.00" y1="726.90" x2="442.00" y2="733.00" stroke="#000" stroke-width="1.8" />
<line x1="455.20" y1="726.90" x2="455.20" y2="733.00" stroke="#000" stroke-width="1.8" />
<line x1="468.85" y1="726.90" x2="468.85" y2="733.00" stroke="#000" stroke-width="1.8" />
<line x1="482.80" y1="726.90" x2="482.80" y2="733.00" stroke="#000" stroke-width="1.8" />
<text x="342.10" y="671.20" font-size="11.4" text-anchor="middle" stroke="#1a1a1a" stroke-width="0.22" fill="#1a1a1a" >complete</text>
<text x="338.10" y="684.70" font-size="11.4" text-anchor="middle" stroke="#1a1a1a" stroke-width="0.22" fill="#1a1a1a" >RE-1</text>
<line x1="311.90" y1="690.50" x2="363.10" y2="690.50" stroke="#444" stroke-width="1.1" />
<text x="393.40" y="591.00" font-size="11.4" text-anchor="middle" stroke="#1a1a1a" stroke-width="0.22" fill="#1a1a1a" >left half</text>
<text x="390.70" y="604.60" font-size="11.4" text-anchor="middle" stroke="#1a1a1a" stroke-width="0.22" fill="#1a1a1a" >RE-1</text>
<line x1="366.20" y1="609.40" x2="417.80" y2="609.40" stroke="#444" stroke-width="1.1" />
<text x="469.40" y="590.90" font-size="11.4" text-anchor="middle" stroke="#1a1a1a" stroke-width="0.22" fill="#1a1a1a" >right half</text>
<text x="466.50" y="604.40" font-size="11.4" text-anchor="middle" stroke="#1a1a1a" stroke-width="0.22" fill="#1a1a1a" >RE-1</text>
<line x1="439.50" y1="609.50" x2="491.00" y2="609.50" stroke="#444" stroke-width="1.1" />
<text transform="translate(319.01,742.60) rotate(-42)" font-size="11.8" text-anchor="end" stroke="#111" stroke-width="0.22" fill="#111">H3K4me3</text>
<text transform="translate(333.82,742.60) rotate(-42)" font-size="11.8" text-anchor="end" stroke="#111" stroke-width="0.22" fill="#111">H3K27me3</text>
<text transform="translate(348.36,742.60) rotate(-42)" font-size="11.8" text-anchor="end" stroke="#111" stroke-width="0.22" fill="#111">both</text>
<text transform="translate(363.11,742.60) rotate(-42)" font-size="11.8" text-anchor="end" stroke="#111" stroke-width="0.22" fill="#111">neither</text>
<text transform="translate(385.21,742.60) rotate(-42)" font-size="11.8" text-anchor="end" stroke="#111" stroke-width="0.22" fill="#111">H3K4me3</text>
<text transform="translate(400.07,742.60) rotate(-42)" font-size="11.8" text-anchor="end" stroke="#111" stroke-width="0.22" fill="#111">H3K27me3</text>
<text transform="translate(414.67,742.60) rotate(-42)" font-size="11.8" text-anchor="end" stroke="#111" stroke-width="0.22" fill="#111">both</text>
<text transform="translate(428.94,742.60) rotate(-42)" font-size="11.8" text-anchor="end" stroke="#111" stroke-width="0.22" fill="#111">neither</text>
<text transform="translate(450.67,742.60) rotate(-42)" font-size="11.8" text-anchor="end" stroke="#111" stroke-width="0.22" fill="#111">H3K4me3</text>
<text transform="translate(464.83,742.60) rotate(-42)" font-size="11.8" text-anchor="end" stroke="#111" stroke-width="0.22" fill="#111">H3K27me3</text>
<text transform="translate(479.48,742.60) rotate(-42)" font-size="11.8" text-anchor="end" stroke="#111" stroke-width="0.22" fill="#111">both</text>
<text transform="translate(494.44,742.60) rotate(-42)" font-size="11.8" text-anchor="end" stroke="#111" stroke-width="0.22" fill="#111">neither</text>
<text transform="translate(262.90,669.20) rotate(-90)" font-size="11.7" text-anchor="middle" stroke="#111" stroke-width="0.22" fill="#111">Percentage of non muscle genes</text>
<text transform="translate(276.20,669.30) rotate(-90)" font-size="11.7" text-anchor="middle" stroke="#111" stroke-width="0.22" fill="#111">with RE-1 motif within +/- 1kb TSS</text>
<rect x="500.00" y="592.60" width="15.70" height="9.90" fill="#000" />
<rect x="502.60" y="595.10" width="10.50" height="4.90" fill="#2e3192" />
<text x="520.00" y="595.30" font-size="11.5" text-anchor="start" stroke="#1a1a1a" stroke-width="0.22" fill="#1a1a1a" >non muscle genes enriched</text>
<text x="520.00" y="608.60" font-size="11.5" text-anchor="start" stroke="#1a1a1a" stroke-width="0.22" fill="#1a1a1a" >for H3K4me3</text>
<rect x="500.00" y="621.00" width="15.70" height="9.90" fill="#000" />
<rect x="502.60" y="623.50" width="10.50" height="4.90" fill="#29abe2" />
<text x="520.00" y="625.80" font-size="11.5" text-anchor="start" stroke="#1a1a1a" stroke-width="0.22" fill="#1a1a1a" >non muscle genes enriched</text>
<text x="520.00" y="639.10" font-size="11.5" text-anchor="start" stroke="#1a1a1a" stroke-width="0.22" fill="#1a1a1a" >for H3K27me3</text>
<rect x="500.00" y="657.00" width="15.70" height="9.90" fill="#000" />
<rect x="502.60" y="659.50" width="10.50" height="4.90" fill="#8dc63f" />
<text x="520.00" y="657.70" font-size="11.5" text-anchor="start" stroke="#1a1a1a" stroke-width="0.22" fill="#1a1a1a" >non muscle genes enriched</text>
<text x="520.00" y="671.00" font-size="11.5" text-anchor="start" stroke="#1a1a1a" stroke-width="0.22" fill="#1a1a1a" >for H3K4me3 and H3K27me3</text>
<rect x="500.00" y="685.10" width="15.70" height="9.90" fill="#000" />
<rect x="502.60" y="687.60" width="10.50" height="4.90" fill="#fbb040" />
<text x="520.00" y="689.60" font-size="11.5" text-anchor="start" stroke="#1a1a1a" stroke-width="0.22" fill="#1a1a1a" >non muscle genes not</text>
<text x="520.00" y="702.90" font-size="11.5" text-anchor="start" stroke="#1a1a1a" stroke-width="0.22" fill="#1a1a1a" >enriched for neither</text>
<text x="25.20" y="795.40" font-size="14" text-anchor="start" stroke="#000" stroke-width="0.1" fill="#000" >i</text>
<text x="80.90" y="806.70" font-size="12.9" text-anchor="start" font-weight="bold" fill="#000" >Cut&amp;Run of REST</text>
<path d="M60.4,862.7 L99.70,862.70 A39.3,40.6 0 0 0 32.76,833.84 Z" fill="#a6cee3" stroke="#111" stroke-width="0.9" stroke-linejoin="round"/>
<path d="M60.4,862.7 L32.76,833.84 A39.3,40.6 0 0 0 24.61,845.94 Z" fill="#1f78b4" stroke="#111" stroke-width="0.9" stroke-linejoin="round"/>
<path d="M60.4,862.7 L24.61,845.94 A39.3,40.6 0 0 0 21.91,854.51 Z" fill="#b2df8a" stroke="#111" stroke-width="0.9" stroke-linejoin="round"/>
<path d="M60.4,862.7 L21.91,854.51 A39.3,40.6 0 0 0 21.85,854.83 Z" fill="#33a02c" stroke="#111" stroke-width="0.9" stroke-linejoin="round"/>
<path d="M60.4,862.7 L21.85,854.83 A39.3,40.6 0 0 0 21.41,857.62 Z" fill="#fb9a99" stroke="#111" stroke-width="0.9" stroke-linejoin="round"/>
<path d="M60.4,862.7 L21.41,857.62 A39.3,40.6 0 0 0 21.15,860.67 Z" fill="#e31a1c" stroke="#111" stroke-width="0.9" stroke-linejoin="round"/>
<path d="M60.4,862.7 L21.15,860.67 A39.3,40.6 0 0 0 21.19,865.44 Z" fill="#fdbf6f" stroke="#111" stroke-width="0.9" stroke-linejoin="round"/>
<path d="M60.4,862.7 L21.19,865.44 A39.3,40.6 0 0 0 28.51,886.43 Z" fill="#ff7f00" stroke="#111" stroke-width="0.9" stroke-linejoin="round"/>
<path d="M60.4,862.7 L28.51,886.43 A39.3,40.6 0 0 0 59.52,903.29 Z" fill="#cab2d6" stroke="#111" stroke-width="0.9" stroke-linejoin="round"/>
<path d="M60.4,862.7 L59.52,903.29 A39.3,40.6 0 0 0 59.69,903.29 Z" fill="#6a3d9a" stroke="#111" stroke-width="0.9" stroke-linejoin="round"/>
<path d="M60.4,862.7 L59.69,903.29 A39.3,40.6 0 0 0 99.70,862.70 Z" fill="#ffff99" stroke="#111" stroke-width="0.9" stroke-linejoin="round"/>
<rect x="103.60" y="821.60" width="8.00" height="7.60" fill="#a6cee3" stroke="#333" stroke-width="0.9" />
<text x="114.60" y="829.20" font-size="11.6" text-anchor="start" stroke="#111" stroke-width="0.22" fill="#111" >Promoter (&lt;=1kb) (37.42%)</text>
<rect x="103.60" y="835.50" width="8.00" height="7.60" fill="#1f78b4" stroke="#333" stroke-width="0.9" />
<text x="114.60" y="843.10" font-size="11.6" text-anchor="start" stroke="#111" stroke-width="0.22" fill="#111" >Promoter (1-2kb) (5.81%)</text>
<rect x="103.60" y="849.40" width="8.00" height="7.60" fill="#b2df8a" stroke="#333" stroke-width="0.9" />
<text x="114.60" y="857.00" font-size="11.6" text-anchor="start" stroke="#111" stroke-width="0.22" fill="#111" >Promoter (2-3kb) (3.54%)</text>
<rect x="103.60" y="863.30" width="8.00" height="7.60" fill="#33a02c" stroke="#333" stroke-width="0.9" />
<text x="114.60" y="870.90" font-size="11.6" text-anchor="start" stroke="#111" stroke-width="0.22" fill="#111" >5’UTR (0.13%)</text>
<rect x="103.60" y="877.20" width="8.00" height="7.60" fill="#fb9a99" stroke="#333" stroke-width="0.9" />
<text x="114.60" y="884.80" font-size="11.6" text-anchor="start" stroke="#111" stroke-width="0.22" fill="#111" >3’UTR (1.11%)</text>
<rect x="103.60" y="891.10" width="8.00" height="7.60" fill="#e31a1c" stroke="#333" stroke-width="0.9" />
<text x="114.60" y="898.70" font-size="11.6" text-anchor="start" stroke="#111" stroke-width="0.22" fill="#111" >1st Exon (1.2%)</text>
<rect x="103.60" y="905.00" width="8.00" height="7.60" fill="#fdbf6f" stroke="#333" stroke-width="0.9" />
<text x="114.60" y="912.60" font-size="11.6" text-anchor="start" stroke="#111" stroke-width="0.22" fill="#111" >Other Exon (1.87%)</text>
<rect x="103.60" y="918.90" width="8.00" height="7.60" fill="#ff7f00" stroke="#333" stroke-width="0.9" />
<text x="114.60" y="926.50" font-size="11.6" text-anchor="start" stroke="#111" stroke-width="0.22" fill="#111" >1st Intron (8.86%)</text>
<rect x="103.60" y="932.80" width="8.00" height="7.60" fill="#cab2d6" stroke="#333" stroke-width="0.9" />
<text x="114.60" y="940.40" font-size="11.6" text-anchor="start" stroke="#111" stroke-width="0.22" fill="#111" >Other Intron (14.71%)</text>
<rect x="103.60" y="946.70" width="8.00" height="7.60" fill="#6a3d9a" stroke="#333" stroke-width="0.9" />
<text x="114.60" y="954.30" font-size="11.6" text-anchor="start" stroke="#111" stroke-width="0.22" fill="#111" >Downstream (&lt;=300) (0.07%)</text>
<rect x="103.60" y="960.60" width="8.00" height="7.60" fill="#ffff99" stroke="#333" stroke-width="0.9" />
<text x="114.60" y="968.20" font-size="11.6" text-anchor="start" stroke="#111" stroke-width="0.22" fill="#111" >Distal Intergenic (25.29%)</text>
<text x="292.60" y="796.00" font-size="14" text-anchor="start" stroke="#000" stroke-width="0.1" fill="#000" >j</text>
<text x="388.50" y="810.10" font-size="13.0" text-anchor="middle" font-weight="bold" fill="#000" >REST binding site</text>
<text x="383.50" y="825.00" font-size="13.0" text-anchor="middle" font-weight="bold" fill="#000" >(RE-1 Motif)</text>
<text transform="translate(278.12,867.61) scale(0.1524,0.4385)" font-size="100" font-weight="bold" fill="#f9a300">G</text>
<text transform="translate(278.37,872.30) scale(0.1534,0.0625)" font-size="100" font-weight="bold" fill="#10b010">A</text>
<text transform="translate(278.56,875.90) scale(0.1747,0.0523)" font-size="100" font-weight="bold" fill="#dc0a0a">T</text>
<text transform="translate(278.10,877.38) scale(0.1574,0.0212)" font-size="100" font-weight="bold" fill="#0a0aee">C</text>
<text transform="translate(278.37,878.20) scale(0.1534,0.0116)" font-size="100" font-weight="bold" fill="#10b010">A</text>
<text transform="translate(288.70,866.03) scale(0.1524,0.4158)" font-size="100" font-weight="bold" fill="#f9a300">G</text>
<text transform="translate(288.68,870.55) scale(0.1574,0.0594)" font-size="100" font-weight="bold" fill="#0a0aee">C</text>
<text transform="translate(289.13,874.40) scale(0.1747,0.0552)" font-size="100" font-weight="bold" fill="#dc0a0a">T</text>
<text transform="translate(288.94,877.40) scale(0.1534,0.0436)" font-size="100" font-weight="bold" fill="#10b010">A</text>
<text transform="translate(288.70,878.19) scale(0.1524,0.0113)" font-size="100" font-weight="bold" fill="#f9a300">G</text>
<text transform="translate(299.52,853.60) scale(0.1534,0.2413)" font-size="100" font-weight="bold" fill="#10b010">A</text>
<text transform="translate(299.25,867.13) scale(0.1574,0.1938)" font-size="100" font-weight="bold" fill="#0a0aee">C</text>
<text transform="translate(299.71,873.30) scale(0.1747,0.0872)" font-size="100" font-weight="bold" fill="#dc0a0a">T</text>
<text transform="translate(299.27,875.67) scale(0.1524,0.0339)" font-size="100" font-weight="bold" fill="#f9a300">G</text>
<text transform="translate(299.25,878.17) scale(0.1574,0.0354)" font-size="100" font-weight="bold" fill="#0a0aee">C</text>
<text transform="translate(309.85,865.93) scale(0.1524,0.4144)" font-size="100" font-weight="bold" fill="#f9a300">G</text>
<text transform="translate(310.28,871.90) scale(0.1747,0.0814)" font-size="100" font-weight="bold" fill="#dc0a0a">T</text>
<text transform="translate(310.09,876.50) scale(0.1534,0.0669)" font-size="100" font-weight="bold" fill="#10b010">A</text>
<text transform="translate(309.83,878.18) scale(0.1574,0.0240)" font-size="100" font-weight="bold" fill="#0a0aee">C</text>
<text transform="translate(320.40,877.68) scale(0.1574,0.5827)" font-size="100" font-weight="bold" fill="#0a0aee">C</text>
<text transform="translate(331.43,878.20) scale(0.1747,0.5988)" font-size="100" font-weight="bold" fill="#dc0a0a">T</text>
<text transform="translate(341.57,870.76) scale(0.1524,0.4837)" font-size="100" font-weight="bold" fill="#f9a300">G</text>
<text transform="translate(341.55,875.54) scale(0.1574,0.0622)" font-size="100" font-weight="bold" fill="#0a0aee">C</text>
<text transform="translate(341.82,877.20) scale(0.1534,0.0233)" font-size="100" font-weight="bold" fill="#10b010">A</text>
<text transform="translate(342.01,878.20) scale(0.1747,0.0145)" font-size="100" font-weight="bold" fill="#dc0a0a">T</text>
<text transform="translate(352.58,873.60) scale(0.1747,0.5320)" font-size="100" font-weight="bold" fill="#dc0a0a">T</text>
<text transform="translate(352.39,875.60) scale(0.1534,0.0291)" font-size="100" font-weight="bold" fill="#10b010">A</text>
<text transform="translate(352.15,877.18) scale(0.1524,0.0226)" font-size="100" font-weight="bold" fill="#f9a300">G</text>
<text transform="translate(352.13,878.19) scale(0.1574,0.0141)" font-size="100" font-weight="bold" fill="#0a0aee">C</text>
<text transform="translate(362.70,877.08) scale(0.1574,0.5743)" font-size="100" font-weight="bold" fill="#0a0aee">C</text>
<text transform="translate(362.97,878.20) scale(0.1534,0.0087)" font-size="100" font-weight="bold" fill="#10b010">A</text>
<text transform="translate(373.28,876.69) scale(0.1574,0.5686)" font-size="100" font-weight="bold" fill="#0a0aee">C</text>
<text transform="translate(373.30,877.79) scale(0.1524,0.0085)" font-size="100" font-weight="bold" fill="#f9a300">G</text>
<text transform="translate(373.54,878.20) scale(0.1534,0.0058)" font-size="100" font-weight="bold" fill="#10b010">A</text>
<text transform="translate(384.12,861.60) scale(0.1534,0.3430)" font-size="100" font-weight="bold" fill="#10b010">A</text>
<text transform="translate(383.87,869.89) scale(0.1524,0.1188)" font-size="100" font-weight="bold" fill="#f9a300">G</text>
<text transform="translate(384.31,873.80) scale(0.1747,0.0552)" font-size="100" font-weight="bold" fill="#dc0a0a">T</text>
<text transform="translate(383.85,878.14) scale(0.1574,0.0622)" font-size="100" font-weight="bold" fill="#0a0aee">C</text>
<text transform="translate(394.88,863.00) scale(0.1747,0.3663)" font-size="100" font-weight="bold" fill="#dc0a0a">T</text>
<text transform="translate(394.69,869.20) scale(0.1534,0.0901)" font-size="100" font-weight="bold" fill="#10b010">A</text>
<text transform="translate(394.45,875.12) scale(0.1524,0.0849)" font-size="100" font-weight="bold" fill="#f9a300">G</text>
<text transform="translate(394.43,878.16) scale(0.1574,0.0424)" font-size="100" font-weight="bold" fill="#0a0aee">C</text>
<text transform="translate(405.02,876.10) scale(0.1524,0.5601)" font-size="100" font-weight="bold" fill="#f9a300">G</text>
<text transform="translate(405.27,878.20) scale(0.1534,0.0233)" font-size="100" font-weight="bold" fill="#10b010">A</text>
<text transform="translate(415.60,877.68) scale(0.1524,0.5827)" font-size="100" font-weight="bold" fill="#f9a300">G</text>
<text transform="translate(426.61,878.20) scale(0.1747,0.5988)" font-size="100" font-weight="bold" fill="#dc0a0a">T</text>
<text transform="translate(436.75,865.24) scale(0.1524,0.4045)" font-size="100" font-weight="bold" fill="#f9a300">G</text>
<text transform="translate(436.73,871.92) scale(0.1574,0.0905)" font-size="100" font-weight="bold" fill="#0a0aee">C</text>
<text transform="translate(437.18,875.60) scale(0.1747,0.0523)" font-size="100" font-weight="bold" fill="#dc0a0a">T</text>
<text transform="translate(436.99,878.20) scale(0.1534,0.0378)" font-size="100" font-weight="bold" fill="#10b010">A</text>
<text transform="translate(447.30,877.68) scale(0.1574,0.5771)" font-size="100" font-weight="bold" fill="#0a0aee">C</text>
<text transform="translate(458.33,874.80) scale(0.1747,0.5494)" font-size="100" font-weight="bold" fill="#dc0a0a">T</text>
<text transform="translate(458.14,876.00) scale(0.1534,0.0174)" font-size="100" font-weight="bold" fill="#10b010">A</text>
<text transform="translate(457.90,877.18) scale(0.1524,0.0170)" font-size="100" font-weight="bold" fill="#f9a300">G</text>
<text transform="translate(457.88,878.19) scale(0.1574,0.0141)" font-size="100" font-weight="bold" fill="#0a0aee">C</text>
<text transform="translate(468.47,873.92) scale(0.1524,0.5290)" font-size="100" font-weight="bold" fill="#f9a300">G</text>
<text transform="translate(468.72,876.00) scale(0.1534,0.0233)" font-size="100" font-weight="bold" fill="#10b010">A</text>
<text transform="translate(468.45,877.18) scale(0.1574,0.0170)" font-size="100" font-weight="bold" fill="#0a0aee">C</text>
<text transform="translate(468.91,878.20) scale(0.1747,0.0145)" font-size="100" font-weight="bold" fill="#dc0a0a">T</text>
<text transform="translate(479.29,867.40) scale(0.1534,0.4419)" font-size="100" font-weight="bold" fill="#10b010">A</text>
<text transform="translate(479.05,873.52) scale(0.1524,0.0877)" font-size="100" font-weight="bold" fill="#f9a300">G</text>
<text transform="translate(479.03,877.15) scale(0.1574,0.0509)" font-size="100" font-weight="bold" fill="#0a0aee">C</text>
<text transform="translate(479.48,878.20) scale(0.1747,0.0145)" font-size="100" font-weight="bold" fill="#dc0a0a">T</text>
<text x="533.40" y="779.60" font-size="14" text-anchor="start" stroke="#000" stroke-width="0.1" fill="#000" >k</text>
<rect x="574.90" y="808.30" width="19.40" height="109.60" fill="#000" />
<rect x="577.60" y="811.10" width="14.00" height="106.80" fill="#2e3192" />
<rect x="602.60" y="886.00" width="19.40" height="31.90" fill="#000" />
<rect x="605.30" y="888.80" width="14.00" height="29.10" fill="#29abe2" />
<rect x="630.10" y="852.10" width="18.90" height="65.80" fill="#000" />
<rect x="632.80" y="854.90" width="13.50" height="63.00" fill="#8dc63f" />
<rect x="657.30" y="887.10" width="19.40" height="30.80" fill="#000" />
<rect x="660.00" y="889.90" width="14.00" height="28.00" fill="#fbb040" />
<line x1="566.60" y1="789.00" x2="566.60" y2="918.60" stroke="#000" stroke-width="1.8" />
<line x1="565.70" y1="918.00" x2="685.00" y2="918.00" stroke="#000" stroke-width="2.3" />
<line x1="561.60" y1="917.90" x2="566.60" y2="917.90" stroke="#000" stroke-width="1.8" />
<text x="559.80" y="921.50" font-size="10.2" text-anchor="end" stroke="#111" stroke-width="0.22" fill="#111" >0</text>
<line x1="561.60" y1="875.17" x2="566.60" y2="875.17" stroke="#000" stroke-width="1.8" />
<text x="559.80" y="878.77" font-size="10.2" text-anchor="end" stroke="#111" stroke-width="0.22" fill="#111" >10</text>
<line x1="561.60" y1="832.44" x2="566.60" y2="832.44" stroke="#000" stroke-width="1.8" />
<text x="559.80" y="836.04" font-size="10.2" text-anchor="end" stroke="#111" stroke-width="0.22" fill="#111" >20</text>
<line x1="561.60" y1="789.71" x2="566.60" y2="789.71" stroke="#000" stroke-width="1.8" />
<text x="559.80" y="793.31" font-size="10.2" text-anchor="end" stroke="#111" stroke-width="0.22" fill="#111" >30</text>
<line x1="584.30" y1="917.90" x2="584.30" y2="923.00" stroke="#000" stroke-width="1.8" />
<line x1="611.90" y1="917.90" x2="611.90" y2="923.00" stroke="#000" stroke-width="1.8" />
<line x1="639.10" y1="917.90" x2="639.10" y2="923.00" stroke="#000" stroke-width="1.8" />
<line x1="666.90" y1="917.90" x2="666.90" y2="923.00" stroke="#000" stroke-width="1.8" />
<text transform="translate(512.60,871.00) rotate(-90)" font-size="11.6" text-anchor="middle" stroke="#111" stroke-width="0.22" fill="#111">Percentage of peaks overlapping</text>
<text transform="translate(526.20,877.20) rotate(-90)" font-size="11.6" text-anchor="middle" stroke="#111" stroke-width="0.22" fill="#111">with REST peaks from Cut&amp;Run</text>
<text transform="translate(539.00,867.50) rotate(-90)" font-size="11.6" text-anchor="middle" stroke="#111" stroke-width="0.22" fill="#111">for REST</text>
<text transform="translate(562.60,946.30) rotate(-42)" font-size="11.0" text-anchor="middle" stroke="#111" stroke-width="0.22" fill="#111">H3K4me3</text>
<text transform="translate(571.97,956.70) rotate(-42)" font-size="11.0" text-anchor="middle" stroke="#111" stroke-width="0.22" fill="#111">peaks</text>
<text transform="translate(594.90,954.80) rotate(-42)" font-size="11.0" text-anchor="middle" stroke="#111" stroke-width="0.22" fill="#111">H3K27me3</text>
<text transform="translate(604.27,965.20) rotate(-42)" font-size="11.0" text-anchor="middle" stroke="#111" stroke-width="0.22" fill="#111">peaks</text>
<text transform="translate(636.10,945.20) rotate(-42)" font-size="11.0" text-anchor="middle" stroke="#111" stroke-width="0.22" fill="#111">both</text>
<text transform="translate(659.30,941.80) rotate(-42)" font-size="11.0" text-anchor="middle" stroke="#111" stroke-width="0.22" fill="#111">neither</text>
</svg>
</body></html>
